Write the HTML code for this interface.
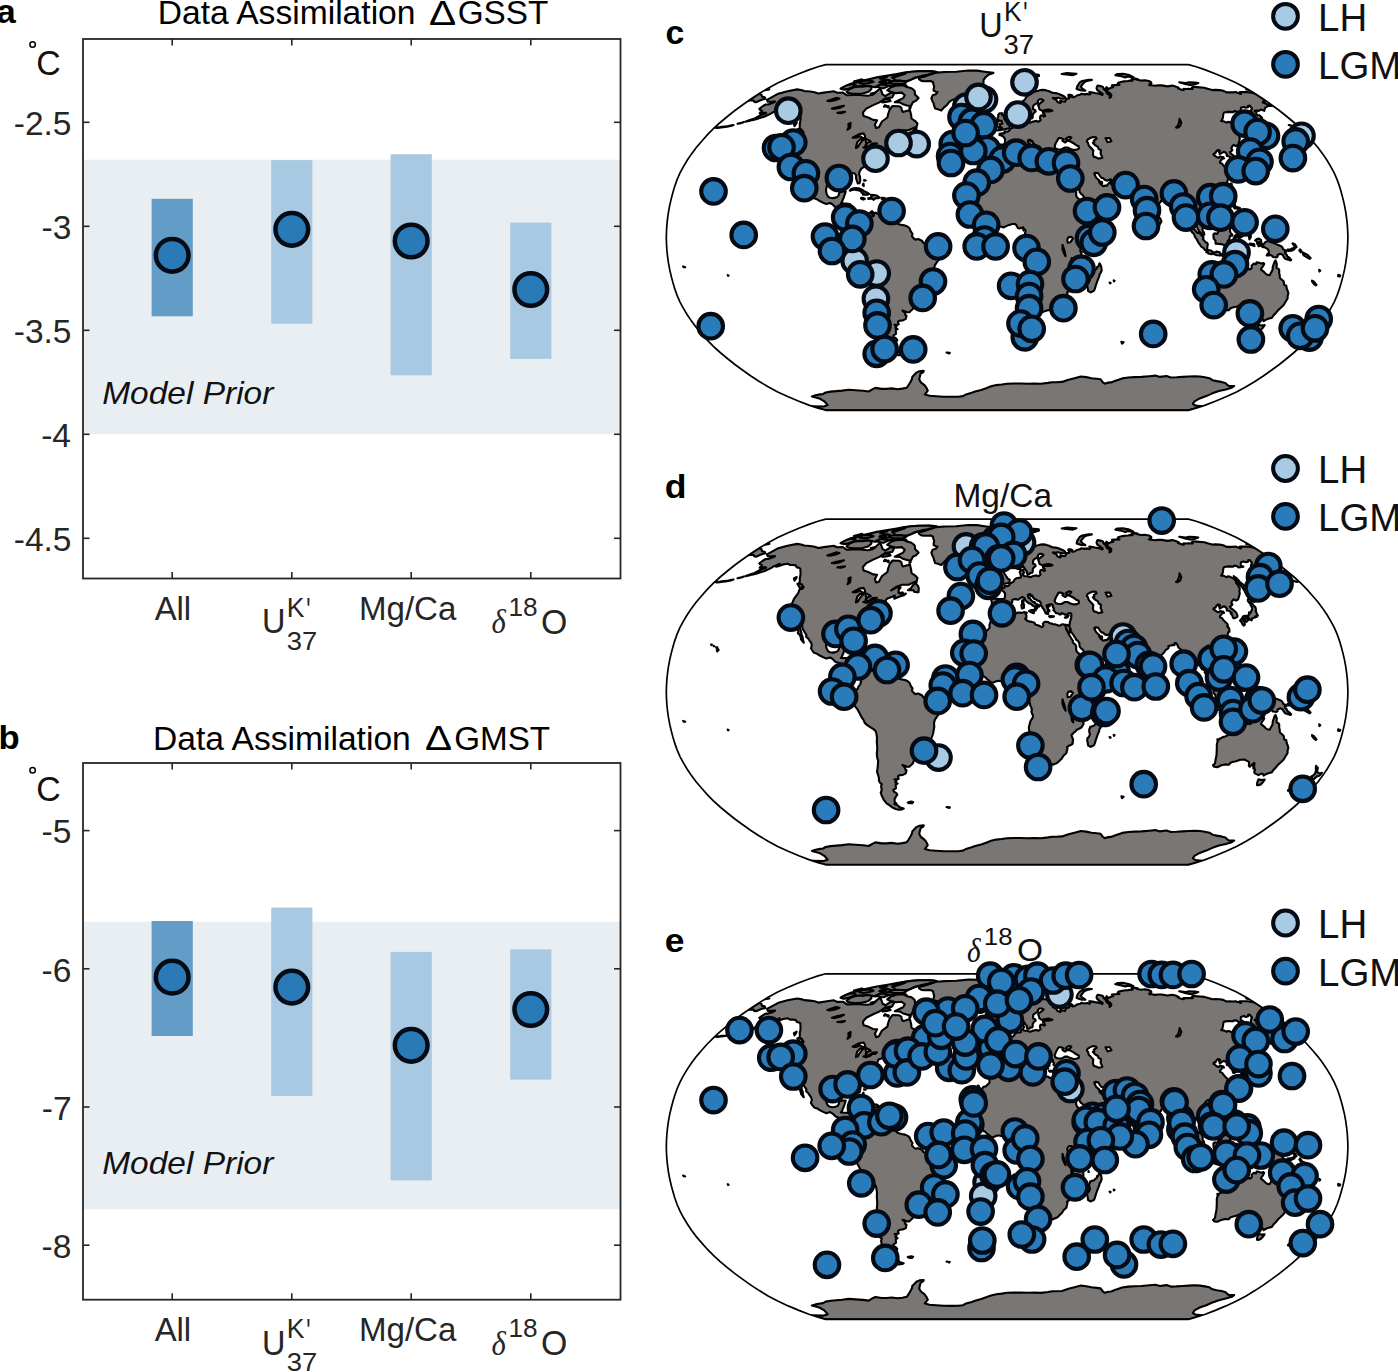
<!DOCTYPE html>
<html><head><meta charset="utf-8"><style>
html,body{margin:0;padding:0;background:#fff;}
svg{display:block;font-family:"Liberation Sans",sans-serif;}
</style></head><body>
<svg width="1398" height="1372" viewBox="0 0 1398 1372">
<rect width="1398" height="1372" fill="#fff"/>
<rect x="83" y="159.7" width="537.5" height="274.6" fill="#e9eef3"/>
<rect x="151.6" y="198.8" width="41.2" height="117.5" fill="#639dc7"/>
<rect x="271.2" y="160.1" width="41.2" height="163.6" fill="#a8c9e1"/>
<rect x="390.6" y="154.2" width="41.2" height="221.1" fill="#a8c9e1"/>
<rect x="510.2" y="222.6" width="41.2" height="136.3" fill="#a8c9e1"/>
<circle cx="172.2" cy="255.3" r="16.35" fill="#2a7ab8" stroke="#050b14" stroke-width="4.5"/>
<circle cx="291.8" cy="229.3" r="16.35" fill="#2a7ab8" stroke="#050b14" stroke-width="4.5"/>
<circle cx="411.2" cy="241.0" r="16.35" fill="#2a7ab8" stroke="#050b14" stroke-width="4.5"/>
<circle cx="530.8" cy="289.5" r="16.35" fill="#2a7ab8" stroke="#050b14" stroke-width="4.5"/>
<rect x="83" y="39" width="537.5" height="539.5" fill="none" stroke="#262626" stroke-width="1.8"/>
<line x1="83" y1="122.3" x2="89.5" y2="122.3" stroke="#262626" stroke-width="1.6"/>
<line x1="620.5" y1="122.3" x2="614.0" y2="122.3" stroke="#262626" stroke-width="1.6"/>
<text transform="translate(13.72,135.14) scale(1.0000,1.0000)" font-family="Liberation Sans" font-weight="normal" font-style="normal" font-size="33.50" fill="#262626">-2.5</text>
<line x1="83" y1="226.3" x2="89.5" y2="226.3" stroke="#262626" stroke-width="1.6"/>
<line x1="620.5" y1="226.3" x2="614.0" y2="226.3" stroke="#262626" stroke-width="1.6"/>
<text transform="translate(41.52,239.13) scale(1.0000,1.0000)" font-family="Liberation Sans" font-weight="normal" font-style="normal" font-size="33.50" fill="#262626">-3</text>
<line x1="83" y1="330.3" x2="89.5" y2="330.3" stroke="#262626" stroke-width="1.6"/>
<line x1="620.5" y1="330.3" x2="614.0" y2="330.3" stroke="#262626" stroke-width="1.6"/>
<text transform="translate(13.72,343.13) scale(1.0000,1.0000)" font-family="Liberation Sans" font-weight="normal" font-style="normal" font-size="33.50" fill="#262626">-3.5</text>
<line x1="83" y1="434.3" x2="89.5" y2="434.3" stroke="#262626" stroke-width="1.6"/>
<line x1="620.5" y1="434.3" x2="614.0" y2="434.3" stroke="#262626" stroke-width="1.6"/>
<text transform="translate(41.19,446.80) scale(1.0000,1.0000)" font-family="Liberation Sans" font-weight="normal" font-style="normal" font-size="33.50" fill="#262626">-4</text>
<line x1="83" y1="538.3" x2="89.5" y2="538.3" stroke="#262626" stroke-width="1.6"/>
<line x1="620.5" y1="538.3" x2="614.0" y2="538.3" stroke="#262626" stroke-width="1.6"/>
<text transform="translate(13.72,550.80) scale(1.0000,1.0000)" font-family="Liberation Sans" font-weight="normal" font-style="normal" font-size="33.50" fill="#262626">-4.5</text>
<line x1="172.2" y1="39" x2="172.2" y2="45.5" stroke="#262626" stroke-width="1.6"/>
<line x1="172.2" y1="578.5" x2="172.2" y2="572.0" stroke="#262626" stroke-width="1.6"/>
<line x1="291.8" y1="39" x2="291.8" y2="45.5" stroke="#262626" stroke-width="1.6"/>
<line x1="291.8" y1="578.5" x2="291.8" y2="572.0" stroke="#262626" stroke-width="1.6"/>
<line x1="411.2" y1="39" x2="411.2" y2="45.5" stroke="#262626" stroke-width="1.6"/>
<line x1="411.2" y1="578.5" x2="411.2" y2="572.0" stroke="#262626" stroke-width="1.6"/>
<line x1="530.8" y1="39" x2="530.8" y2="45.5" stroke="#262626" stroke-width="1.6"/>
<line x1="530.8" y1="578.5" x2="530.8" y2="572.0" stroke="#262626" stroke-width="1.6"/>
<text transform="translate(154.70,619.70) scale(0.9915,1.0000)" font-family="Liberation Sans" font-weight="normal" font-style="normal" font-size="33.10" fill="#262626">All</text>
<text transform="translate(358.95,619.79) scale(1.0000,1.0000)" font-family="Liberation Sans" font-weight="normal" font-style="normal" font-size="33.09" fill="#262626">Mg/Ca</text>
<text transform="translate(262.07,633.45) scale(0.9161,1.0000)" font-family="Liberation Sans" font-weight="normal" font-style="normal" font-size="35.43" fill="#262626">U</text>
<text transform="translate(286.87,616.50) scale(0.9663,1.0000)" font-family="Liberation Sans" font-weight="normal" font-style="normal" font-size="27.54" fill="#262626">K</text>
<text transform="translate(306.19,622.07) scale(0.6370,1.0000)" font-family="Liberation Sans" font-weight="normal" font-style="normal" font-size="34.88" fill="#262626">'</text>
<text transform="translate(286.70,649.54) scale(1.0535,1.0000)" font-family="Liberation Sans" font-weight="normal" font-style="normal" font-size="26.06" fill="#262626">37</text>
<text transform="translate(491.48,633.45) scale(0.8887,1.0000)" font-family="Liberation Serif" font-weight="normal" font-style="italic" font-size="34.51" fill="#262626">δ</text>
<text transform="translate(508.43,616.14) scale(1.0122,1.0000)" font-family="Liberation Sans" font-weight="normal" font-style="normal" font-size="25.92" fill="#262626">18</text>
<text transform="translate(541.08,633.75) scale(0.9580,1.0000)" font-family="Liberation Sans" font-weight="normal" font-style="normal" font-size="35.35" fill="#262626">O</text>
<text transform="translate(157.71,24.36) scale(1.0000,1.0000)" font-family="Liberation Sans" font-weight="normal" font-style="normal" font-size="33.61" fill="#000">Data Assimilation</text>
<text transform="translate(428.88,24.70) scale(1.1863,1.0000)" font-family="Liberation Sans" font-weight="normal" font-style="normal" font-size="34.27" fill="#000">Δ</text>
<text transform="translate(457.63,24.37) scale(1.0000,1.0000)" font-family="Liberation Sans" font-weight="normal" font-style="normal" font-size="33.32" fill="#000">GSST</text>
<text transform="translate(-3.45,22.66) scale(1.0176,1.0000)" font-family="Liberation Sans" font-weight="bold" font-style="normal" font-size="34.00" fill="#000">a</text>
<circle cx="32.6" cy="44.5" r="2.75" fill="none" stroke="#000" stroke-width="1.5"/>
<text transform="translate(36.21,74.75) scale(0.9654,1.0000)" font-family="Liberation Sans" font-weight="normal" font-style="normal" font-size="35.07" fill="#111111">C</text>
<text transform="translate(102.20,403.98) scale(1.0430,1.0000)" font-family="Liberation Sans" font-weight="normal" font-style="italic" font-size="32.11" fill="#111111">Model Prior</text>
<rect x="83" y="921.8" width="537.5" height="287.5" fill="#e9eef3"/>
<rect x="151.6" y="921.0" width="41.2" height="115.0" fill="#639dc7"/>
<rect x="271.2" y="907.6" width="41.2" height="188.4" fill="#a8c9e1"/>
<rect x="390.6" y="951.9" width="41.2" height="228.5" fill="#a8c9e1"/>
<rect x="510.2" y="949.4" width="41.2" height="130.2" fill="#a8c9e1"/>
<circle cx="172.2" cy="977.2" r="16.35" fill="#2a7ab8" stroke="#050b14" stroke-width="4.5"/>
<circle cx="291.8" cy="987.1" r="16.35" fill="#2a7ab8" stroke="#050b14" stroke-width="4.5"/>
<circle cx="411.2" cy="1045.3" r="16.35" fill="#2a7ab8" stroke="#050b14" stroke-width="4.5"/>
<circle cx="530.8" cy="1009.5" r="16.35" fill="#2a7ab8" stroke="#050b14" stroke-width="4.5"/>
<rect x="83" y="763" width="537.5" height="536.7" fill="none" stroke="#262626" stroke-width="1.8"/>
<line x1="83" y1="830.6" x2="89.5" y2="830.6" stroke="#262626" stroke-width="1.6"/>
<line x1="620.5" y1="830.6" x2="614.0" y2="830.6" stroke="#262626" stroke-width="1.6"/>
<text transform="translate(41.52,843.10) scale(1.0000,1.0000)" font-family="Liberation Sans" font-weight="normal" font-style="normal" font-size="33.50" fill="#262626">-5</text>
<line x1="83" y1="968.8" x2="89.5" y2="968.8" stroke="#262626" stroke-width="1.6"/>
<line x1="620.5" y1="968.8" x2="614.0" y2="968.8" stroke="#262626" stroke-width="1.6"/>
<text transform="translate(41.52,981.63) scale(1.0000,1.0000)" font-family="Liberation Sans" font-weight="normal" font-style="normal" font-size="33.50" fill="#262626">-6</text>
<line x1="83" y1="1107.0" x2="89.5" y2="1107.0" stroke="#262626" stroke-width="1.6"/>
<line x1="620.5" y1="1107.0" x2="614.0" y2="1107.0" stroke="#262626" stroke-width="1.6"/>
<text transform="translate(41.86,1119.50) scale(1.0000,1.0000)" font-family="Liberation Sans" font-weight="normal" font-style="normal" font-size="33.50" fill="#262626">-7</text>
<line x1="83" y1="1245.2" x2="89.5" y2="1245.2" stroke="#262626" stroke-width="1.6"/>
<line x1="620.5" y1="1245.2" x2="614.0" y2="1245.2" stroke="#262626" stroke-width="1.6"/>
<text transform="translate(41.52,1258.04) scale(1.0000,1.0000)" font-family="Liberation Sans" font-weight="normal" font-style="normal" font-size="33.50" fill="#262626">-8</text>
<line x1="172.2" y1="763" x2="172.2" y2="769.5" stroke="#262626" stroke-width="1.6"/>
<line x1="172.2" y1="1299.7" x2="172.2" y2="1293.2" stroke="#262626" stroke-width="1.6"/>
<line x1="291.8" y1="763" x2="291.8" y2="769.5" stroke="#262626" stroke-width="1.6"/>
<line x1="291.8" y1="1299.7" x2="291.8" y2="1293.2" stroke="#262626" stroke-width="1.6"/>
<line x1="411.2" y1="763" x2="411.2" y2="769.5" stroke="#262626" stroke-width="1.6"/>
<line x1="411.2" y1="1299.7" x2="411.2" y2="1293.2" stroke="#262626" stroke-width="1.6"/>
<line x1="530.8" y1="763" x2="530.8" y2="769.5" stroke="#262626" stroke-width="1.6"/>
<line x1="530.8" y1="1299.7" x2="530.8" y2="1293.2" stroke="#262626" stroke-width="1.6"/>
<text transform="translate(154.70,1340.90) scale(0.9915,1.0000)" font-family="Liberation Sans" font-weight="normal" font-style="normal" font-size="33.10" fill="#262626">All</text>
<text transform="translate(358.95,1340.99) scale(1.0000,1.0000)" font-family="Liberation Sans" font-weight="normal" font-style="normal" font-size="33.09" fill="#262626">Mg/Ca</text>
<text transform="translate(262.07,1354.65) scale(0.9161,1.0000)" font-family="Liberation Sans" font-weight="normal" font-style="normal" font-size="35.43" fill="#262626">U</text>
<text transform="translate(286.87,1337.70) scale(0.9663,1.0000)" font-family="Liberation Sans" font-weight="normal" font-style="normal" font-size="27.54" fill="#262626">K</text>
<text transform="translate(306.19,1343.27) scale(0.6370,1.0000)" font-family="Liberation Sans" font-weight="normal" font-style="normal" font-size="34.88" fill="#262626">'</text>
<text transform="translate(286.70,1370.74) scale(1.0535,1.0000)" font-family="Liberation Sans" font-weight="normal" font-style="normal" font-size="26.06" fill="#262626">37</text>
<text transform="translate(491.48,1354.65) scale(0.8887,1.0000)" font-family="Liberation Serif" font-weight="normal" font-style="italic" font-size="34.51" fill="#262626">δ</text>
<text transform="translate(508.43,1337.34) scale(1.0122,1.0000)" font-family="Liberation Sans" font-weight="normal" font-style="normal" font-size="25.92" fill="#262626">18</text>
<text transform="translate(541.08,1354.95) scale(0.9580,1.0000)" font-family="Liberation Sans" font-weight="normal" font-style="normal" font-size="35.35" fill="#262626">O</text>
<text transform="translate(153.01,749.66) scale(1.0000,1.0000)" font-family="Liberation Sans" font-weight="normal" font-style="normal" font-size="33.61" fill="#000">Data Assimilation</text>
<text transform="translate(424.89,750.00) scale(1.1815,1.0000)" font-family="Liberation Sans" font-weight="normal" font-style="normal" font-size="34.27" fill="#000">Δ</text>
<text transform="translate(454.14,749.67) scale(1.0000,1.0000)" font-family="Liberation Sans" font-weight="normal" font-style="normal" font-size="33.23" fill="#000">GMST</text>
<text transform="translate(-1.45,749.07) scale(1.0354,1.0000)" font-family="Liberation Sans" font-weight="bold" font-style="normal" font-size="33.47" fill="#000">b</text>
<circle cx="32.6" cy="770.3" r="2.75" fill="none" stroke="#000" stroke-width="1.5"/>
<text transform="translate(36.21,800.55) scale(0.9654,1.0000)" font-family="Liberation Sans" font-weight="normal" font-style="normal" font-size="35.07" fill="#111111">C</text>
<text transform="translate(102.20,1173.98) scale(1.0430,1.0000)" font-family="Liberation Sans" font-weight="normal" font-style="italic" font-size="32.11" fill="#111111">Model Prior</text>
<clipPath id="clipc"><path d="M825.7,410.3 L818.0,408.2 L808.9,405.1 L798.9,401.3 L788.2,396.8 L777.7,392.0 L768.1,386.8 L759.3,381.5 L750.9,376.0 L742.8,370.3 L734.9,364.5 L727.4,358.5 L720.2,352.5 L713.4,346.3 L707.3,340.1 L701.7,333.8 L696.3,327.5 L691.5,321.1 L687.2,314.7 L683.3,308.2 L679.9,301.8 L677.1,295.4 L674.8,288.9 L672.9,282.5 L671.2,276.1 L669.7,269.7 L668.5,263.2 L667.6,256.8 L666.9,250.4 L666.5,243.9 L666.3,237.5 L666.5,231.1 L666.9,224.6 L667.6,218.2 L668.5,211.8 L669.7,205.3 L671.2,198.9 L672.9,192.5 L674.8,186.1 L677.1,179.6 L679.9,173.2 L683.3,166.8 L687.2,160.3 L691.5,153.9 L696.3,147.5 L701.7,141.2 L707.3,134.9 L713.4,128.7 L720.2,122.5 L727.4,116.5 L734.9,110.5 L742.8,104.7 L750.9,99.0 L759.3,93.5 L768.1,88.2 L777.7,83.0 L788.2,78.2 L798.9,73.7 L808.9,69.9 L818.0,66.8 L825.7,64.7 L1188.5,64.7 L1196.2,66.8 L1205.3,69.9 L1215.3,73.7 L1226.0,78.2 L1236.5,83.0 L1246.1,88.2 L1254.9,93.5 L1263.3,99.0 L1271.4,104.7 L1279.3,110.5 L1286.8,116.5 L1294.0,122.5 L1300.8,128.7 L1306.9,134.9 L1312.5,141.2 L1317.9,147.5 L1322.7,153.9 L1327.0,160.3 L1330.9,166.8 L1334.3,173.2 L1337.1,179.6 L1339.4,186.1 L1341.3,192.5 L1343.0,198.9 L1344.5,205.3 L1345.7,211.8 L1346.6,218.2 L1347.3,224.6 L1347.7,231.1 L1347.9,237.5 L1347.7,243.9 L1347.3,250.4 L1346.6,256.8 L1345.7,263.2 L1344.5,269.7 L1343.0,276.1 L1341.3,282.5 L1339.4,288.9 L1337.1,295.4 L1334.3,301.8 L1330.9,308.2 L1327.0,314.7 L1322.7,321.1 L1317.9,327.5 L1312.5,333.8 L1306.9,340.1 L1300.8,346.3 L1294.0,352.5 L1286.8,358.5 L1279.3,364.5 L1271.4,370.3 L1263.3,376.0 L1254.9,381.5 L1246.1,386.8 L1236.5,392.0 L1226.0,396.8 L1215.3,401.3 L1205.3,405.1 L1196.2,408.2 L1188.5,410.3Z"/></clipPath>
<g clip-path="url(#clipc)">
<g fill="#7a7673" stroke="#000" stroke-width="2.1" stroke-linejoin="round">
<path d="M767.0,99.8 L778.3,93.7 L787.5,91.2 L797.1,89.4 L802.3,90.3 L804.0,91.0 L810.1,91.5 L814.6,92.2 L818.5,93.5 L823.7,92.6 L830.2,91.7 L833.6,91.2 L837.2,92.8 L842.9,92.6 L847.0,95.3 L854.3,95.0 L857.2,94.8 L862.3,95.3 L867.6,95.7 L872.5,94.8 L880.0,88.5 L881.3,90.8 L882.5,94.4 L885.3,96.2 L890.8,92.6 L894.6,93.0 L892.1,97.5 L885.1,98.5 L879.5,102.4 L873.2,105.1 L866.3,108.6 L862.9,112.5 L863.6,116.1 L868.2,117.5 L873.1,119.9 L877.1,120.3 L874.9,124.6 L876.1,128.1 L878.9,127.2 L882.0,121.5 L887.4,117.5 L888.3,113.5 L889.7,109.5 L892.5,106.0 L899.1,106.2 L901.3,107.6 L901.8,110.1 L902.8,111.9 L905.4,111.3 L908.1,110.5 L909.9,109.9 L911.2,115.5 L911.5,118.5 L915.2,121.1 L917.5,123.5 L916.7,126.6 L913.6,127.9 L908.6,130.3 L902.1,130.3 L896.5,132.2 L891.0,136.0 L897.1,132.6 L900.6,133.0 L898.7,135.3 L898.5,138.5 L902.3,139.7 L905.9,139.1 L903.7,140.8 L899.0,142.3 L894.2,144.2 L894.8,141.0 L892.2,142.3 L887.4,143.9 L885.5,146.1 L886.1,148.0 L884.1,148.8 L881.3,149.5 L878.4,150.5 L877.7,152.7 L875.5,154.4 L873.2,157.1 L872.5,158.4 L872.5,161.8 L870.4,163.1 L867.3,164.8 L864.7,166.3 L861.3,168.7 L859.5,171.7 L859.1,174.1 L860.0,176.8 L860.3,180.3 L859.5,183.3 L857.9,183.5 L856.9,181.1 L856.0,177.9 L856.1,175.3 L854.4,173.2 L851.7,173.2 L849.2,172.3 L846.4,172.3 L844.3,172.8 L844.5,175.1 L842.1,175.1 L839.7,174.1 L836.0,174.1 L832.9,175.8 L829.6,178.1 L828.3,181.8 L826.7,186.1 L826.0,190.3 L826.5,193.6 L827.8,196.3 L830.0,197.8 L832.8,198.1 L835.6,197.6 L837.6,196.8 L838.7,195.1 L839.3,192.5 L842.9,191.4 L845.7,191.4 L844.4,195.7 L843.4,198.3 L841.9,202.1 L840.9,203.4 L846.1,203.6 L849.8,204.1 L851.0,205.3 L850.3,208.6 L849.8,212.9 L850.7,215.4 L853.4,218.6 L856.6,217.1 L860.0,217.8 L861.2,219.7 L860.6,221.4 L858.9,220.4 L857.1,218.6 L855.7,221.6 L854.2,220.8 L851.8,219.9 L849.2,218.2 L847.3,216.5 L845.4,215.4 L845.7,213.7 L843.7,210.7 L842.3,209.2 L839.0,208.6 L835.6,207.5 L832.9,204.7 L830.2,203.0 L826.4,204.1 L823.2,202.8 L820.2,201.3 L817.1,199.3 L814.1,198.3 L812.5,196.3 L810.9,193.8 L811.8,191.2 L811.3,188.6 L809.7,186.3 L808.1,183.9 L806.1,182.2 L806.4,180.3 L804.8,177.9 L803.9,176.2 L802.7,174.7 L802.3,172.6 L802.2,170.6 L799.7,169.3 L799.1,172.3 L800.3,174.9 L801.0,177.1 L801.7,180.1 L802.6,182.4 L803.0,185.4 L803.8,188.2 L803.2,187.6 L801.0,184.8 L800.7,182.6 L799.5,180.1 L797.8,178.6 L798.4,177.1 L797.2,174.3 L796.2,171.1 L796.1,167.8 L796.2,166.1 L794.8,164.8 L793.5,163.8 L791.5,163.3 L790.8,159.5 L790.8,157.1 L790.6,155.6 L790.6,152.7 L790.8,150.7 L792.7,147.5 L794.0,144.4 L798.2,138.7 L799.8,134.3 L802.2,134.5 L803.7,132.6 L802.4,131.0 L801.6,129.7 L799.4,128.9 L799.8,126.6 L799.8,123.5 L800.3,121.1 L800.6,118.9 L800.4,116.5 L800.3,114.1 L798.8,113.3 L796.9,112.9 L795.8,110.9 L793.1,110.5 L790.1,110.5 L787.8,109.2 L783.2,109.9 L778.3,111.7 L776.0,112.1 L779.6,109.2 L773.3,112.1 L770.0,114.1 L764.7,116.5 L759.8,118.1 L756.2,119.3 L752.2,120.1 L749.0,120.9 L745.3,121.7 L749.8,120.1 L754.7,118.5 L761.0,114.9 L765.5,113.5 L766.1,112.9 L763.2,112.9 L759.7,113.3 L761.9,110.7 L760.1,109.9 L759.3,108.8 L763.1,106.0 L765.7,104.5 L768.0,104.5 L773.1,102.8 L775.1,101.5 L770.9,101.7 L767.8,101.8 L767.5,101.1 L767.0,99.8Z"/>
<path d="M861.2,219.7 L863.4,217.8 L864.9,215.0 L867.4,213.5 L869.7,213.1 L872.1,211.1 L873.1,212.2 L871.9,213.7 L872.4,215.6 L873.3,216.5 L874.4,213.3 L875.7,212.6 L878.5,214.4 L882.8,214.8 L886.0,214.8 L889.4,214.8 L890.6,215.9 L892.6,219.1 L895.1,221.4 L898.1,224.0 L901.6,224.9 L905.0,225.5 L907.8,226.8 L909.7,228.5 L910.6,231.1 L912.5,233.9 L911.9,236.2 L913.4,238.1 L915.3,239.6 L918.1,239.0 L921.9,240.7 L923.5,243.1 L927.1,243.5 L929.9,243.7 L933.3,245.6 L936.2,247.8 L940.0,248.6 L941.2,252.5 L940.9,256.4 L939.3,259.4 L937.1,261.9 L934.8,265.4 L934.0,268.8 L934.3,272.4 L933.7,275.7 L933.0,279.5 L931.9,282.5 L931.1,284.7 L929.4,286.6 L926.6,286.8 L924.0,288.1 L921.1,289.4 L918.8,292.2 L918.0,294.9 L918.1,298.2 L916.8,300.7 L915.5,303.5 L913.9,306.1 L912.8,308.9 L911.2,310.4 L909.4,312.3 L906.8,312.3 L904.6,311.2 L902.5,310.6 L905.1,313.2 L905.3,315.1 L906.5,315.7 L905.8,318.9 L903.4,320.2 L899.2,320.9 L898.0,321.7 L898.7,324.5 L894.5,324.9 L896.6,326.4 L895.3,327.9 L897.6,329.1 L895.7,330.2 L896.0,333.8 L893.4,335.3 L893.6,336.9 L896.3,338.6 L897.3,340.1 L895.4,343.0 L894.4,345.3 L894.9,347.8 L896.6,349.0 L894.3,349.6 L895.6,350.0 L897.5,350.8 L900.2,353.1 L903.7,354.1 L902.1,354.9 L899.0,355.3 L895.6,354.5 L892.6,353.1 L889.0,350.4 L886.6,348.8 L883.8,345.3 L881.9,341.6 L880.7,338.0 L881.6,336.3 L881.6,334.8 L881.1,331.7 L881.8,329.6 L880.2,328.5 L879.0,326.4 L878.9,323.2 L877.8,319.6 L877.0,317.2 L877.6,313.6 L877.9,309.5 L878.2,306.7 L877.2,302.9 L876.8,299.2 L877.2,295.8 L877.2,292.2 L876.8,287.9 L877.0,283.2 L876.4,279.3 L875.6,276.5 L873.5,274.6 L870.6,272.9 L867.6,270.9 L864.7,268.4 L863.8,266.0 L861.9,263.2 L860.2,260.0 L858.0,255.7 L856.0,252.9 L853.7,250.4 L853.6,247.8 L855.2,245.0 L856.1,242.9 L854.6,242.4 L854.0,239.6 L855.5,236.6 L856.0,235.4 L857.8,234.3 L858.4,232.1 L860.3,229.8 L860.9,227.2 L860.7,223.6 L860.0,222.1 L861.2,219.7Z"/>
<path d="M918.6,77.8 L923.1,76.9 L929.7,74.8 L936.3,72.6 L944.8,72.0 L956.3,71.7 L968.3,70.5 L977.1,70.6 L984.5,71.7 L993.4,72.9 L988.4,74.7 L985.4,77.4 L983.5,80.1 L983.5,83.0 L980.3,86.1 L977.7,89.0 L976.6,91.2 L971.1,94.2 L965.7,95.0 L961.8,95.5 L957.4,98.5 L952.0,100.0 L949.3,101.8 L947.2,104.7 L943.8,107.6 L941.3,110.5 L938.6,109.5 L935.2,108.6 L934.1,105.7 L933.6,103.2 L932.3,100.9 L931.4,98.1 L932.6,95.3 L935.9,94.2 L937.5,92.1 L935.7,91.7 L933.6,90.5 L933.6,89.0 L934.2,86.8 L933.3,83.9 L933.1,82.2 L930.7,81.0 L924.4,81.2 L921.5,80.9 L919.1,79.3 L918.6,77.8Z"/>
<path d="M997.1,160.3 L995.9,159.3 L993.8,157.8 L991.3,158.2 L991.6,155.4 L990.4,154.4 L991.6,151.4 L991.9,148.6 L991.3,145.4 L993.4,143.9 L997.7,144.4 L1002.0,144.6 L1004.0,144.6 L1004.9,142.7 L1005.1,139.1 L1003.4,136.6 L1001.3,135.5 L999.4,134.9 L999.6,133.7 L1002.1,133.2 L1004.4,133.4 L1004.6,131.4 L1007.4,131.8 L1009.4,130.5 L1009.7,128.9 L1011.2,128.5 L1012.8,127.6 L1013.9,126.6 L1014.7,124.8 L1015.9,124.0 L1018.3,123.3 L1020.7,123.3 L1021.1,121.9 L1020.5,119.9 L1019.7,117.5 L1020.3,116.3 L1023.3,115.1 L1023.4,117.9 L1024.1,117.7 L1022.9,120.3 L1024.3,121.7 L1027.0,121.7 L1029.1,122.3 L1030.2,122.7 L1033.3,121.5 L1036.4,120.9 L1038.6,121.7 L1040.6,120.1 L1039.9,117.7 L1040.5,115.7 L1042.0,115.3 L1044.1,116.5 L1045.0,116.1 L1044.3,113.9 L1043.1,113.3 L1042.9,112.1 L1045.1,111.5 L1049.6,111.5 L1052.5,110.7 L1050.9,110.1 L1048.5,109.5 L1045.5,109.9 L1041.9,110.7 L1039.4,109.3 L1038.9,107.0 L1038.1,105.1 L1039.7,103.7 L1041.2,102.4 L1043.1,101.1 L1043.5,100.3 L1042.0,99.4 L1039.3,99.4 L1037.8,101.1 L1038.0,102.4 L1036.3,103.6 L1034.3,104.7 L1033.2,105.9 L1033.0,108.2 L1033.1,109.3 L1035.2,110.1 L1035.7,111.5 L1033.9,112.9 L1032.7,114.9 L1032.7,117.3 L1032.2,118.3 L1030.0,118.5 L1029.5,119.7 L1027.4,119.7 L1026.7,118.1 L1027.1,117.3 L1025.5,115.3 L1024.2,113.1 L1023.2,112.1 L1022.7,111.1 L1021.9,112.5 L1019.9,114.1 L1017.9,114.5 L1016.3,114.1 L1015.5,112.9 L1015.0,111.3 L1014.6,109.5 L1014.7,108.0 L1014.8,106.6 L1016.4,105.7 L1018.1,104.7 L1019.5,103.7 L1021.6,102.8 L1022.7,101.3 L1024.3,100.1 L1025.3,98.8 L1026.2,97.2 L1027.8,95.7 L1028.7,94.6 L1030.3,93.9 L1032.0,92.6 L1033.7,92.1 L1036.0,91.3 L1038.2,90.8 L1040.7,90.1 L1042.7,89.9 L1045.2,90.1 L1047.4,90.8 L1049.2,91.3 L1050.7,92.1 L1053.1,93.0 L1055.9,93.1 L1058.9,94.0 L1062.9,95.7 L1064.6,96.6 L1065.3,97.7 L1064.0,98.8 L1061.8,98.8 L1057.9,97.7 L1055.8,98.3 L1054.0,97.9 L1052.8,98.1 L1056.5,100.1 L1057.5,102.0 L1060.2,103.0 L1061.1,102.0 L1060.3,100.7 L1062.6,101.3 L1064.9,101.8 L1065.4,100.9 L1066.7,98.5 L1069.0,98.5 L1069.5,97.5 L1068.3,95.9 L1068.4,94.8 L1070.9,94.8 L1072.4,95.7 L1070.9,96.2 L1072.6,97.3 L1074.6,97.0 L1076.8,95.5 L1080.6,94.6 L1081.2,93.7 L1084.6,94.4 L1087.1,93.9 L1089.6,94.6 L1090.5,93.7 L1089.3,92.1 L1091.1,92.2 L1094.9,93.0 L1098.0,93.5 L1100.7,94.2 L1102.3,95.0 L1102.8,94.0 L1100.2,92.2 L1097.3,90.1 L1096.5,88.2 L1097.0,86.6 L1097.6,85.6 L1100.6,86.1 L1102.9,87.0 L1103.7,89.0 L1105.6,90.8 L1107.0,93.5 L1109.0,94.6 L1109.8,96.4 L1109.5,97.9 L1111.1,96.8 L1111.3,95.0 L1110.1,93.5 L1107.9,92.2 L1107.2,90.5 L1104.9,89.2 L1106.2,87.8 L1106.6,87.1 L1108.2,89.0 L1109.6,88.5 L1110.9,87.6 L1113.3,87.1 L1111.9,85.4 L1114.7,85.1 L1119.5,84.9 L1117.7,83.5 L1118.2,82.7 L1120.8,82.0 L1123.9,81.4 L1127.9,81.0 L1130.2,80.6 L1132.7,80.6 L1131.6,78.9 L1134.8,78.6 L1137.6,79.1 L1136.4,79.6 L1140.8,80.6 L1145.0,80.2 L1148.9,81.0 L1151.3,82.4 L1151.3,83.7 L1149.4,84.2 L1149.2,85.1 L1151.9,85.2 L1155.1,85.8 L1157.9,85.4 L1161.5,85.4 L1167.6,86.4 L1172.3,85.6 L1175.5,86.4 L1178.6,87.8 L1178.1,88.5 L1181.0,89.6 L1183.8,90.1 L1183.5,88.9 L1186.1,89.0 L1188.6,88.9 L1192.8,89.0 L1192.0,87.6 L1193.0,86.8 L1196.8,87.1 L1204.4,87.8 L1208.3,88.9 L1212.4,90.1 L1215.5,89.9 L1219.8,90.1 L1223.2,90.8 L1226.5,92.4 L1229.7,92.2 L1232.7,92.4 L1235.5,92.1 L1241.0,93.9 L1239.8,92.1 L1243.7,92.1 L1247.1,92.1 L1251.8,92.8 L1255.2,93.7 L1265.7,100.7 L1265.1,101.7 L1262.9,101.5 L1262.8,102.4 L1269.2,104.9 L1272.1,106.0 L1268.7,105.7 L1266.4,107.0 L1265.4,107.4 L1265.0,108.6 L1264.3,109.9 L1264.3,110.9 L1261.0,109.5 L1258.9,110.9 L1256.4,110.5 L1254.5,110.7 L1256.3,112.3 L1256.6,114.5 L1257.8,115.3 L1259.4,115.3 L1262.2,118.1 L1261.0,118.3 L1262.1,119.9 L1263.6,120.7 L1262.0,121.9 L1262.8,124.0 L1261.8,124.8 L1263.5,126.8 L1262.9,128.7 L1260.9,127.2 L1257.6,124.4 L1252.0,119.7 L1249.8,116.9 L1249.9,115.7 L1249.0,114.9 L1250.9,114.3 L1250.9,111.9 L1251.2,109.9 L1252.0,108.4 L1249.6,105.5 L1248.1,105.7 L1248.1,107.2 L1245.9,107.8 L1243.8,107.0 L1240.9,107.8 L1240.7,110.9 L1243.4,112.3 L1240.5,112.7 L1238.4,112.9 L1236.9,111.5 L1234.2,111.1 L1233.3,112.1 L1228.5,111.9 L1224.1,112.5 L1223.3,114.1 L1223.0,116.9 L1222.5,118.9 L1221.2,121.1 L1223.9,121.3 L1226.5,122.7 L1227.8,121.9 L1229.7,122.1 L1234.0,124.4 L1235.7,126.2 L1236.1,128.3 L1238.0,130.7 L1239.8,134.1 L1239.4,137.0 L1239.8,138.5 L1239.3,141.0 L1238.5,143.5 L1238.2,144.6 L1236.6,145.9 L1235.5,145.9 L1233.8,144.8 L1232.3,146.3 L1231.9,146.9 L1231.3,148.4 L1232.4,149.9 L1231.3,151.4 L1229.8,152.2 L1230.4,153.3 L1232.5,154.8 L1235.4,157.3 L1236.5,158.6 L1237.5,161.2 L1237.3,162.3 L1234.9,163.6 L1233.4,163.8 L1232.8,162.7 L1232.4,161.0 L1230.6,158.8 L1231.8,158.4 L1229.8,156.7 L1228.7,156.3 L1226.7,155.9 L1227.0,154.6 L1225.8,152.7 L1224.0,151.8 L1222.0,152.7 L1221.0,153.5 L1219.6,154.1 L1219.9,153.1 L1218.9,151.8 L1220.0,150.7 L1218.3,149.9 L1217.2,150.5 L1215.9,152.0 L1215.5,153.3 L1213.8,153.5 L1213.4,154.6 L1215.1,155.9 L1217.0,157.3 L1218.8,157.8 L1220.1,156.5 L1222.0,157.1 L1223.2,157.1 L1224.0,158.4 L1221.7,158.8 L1221.4,160.1 L1220.2,161.2 L1219.9,162.7 L1222.2,163.8 L1223.7,165.9 L1225.5,167.8 L1227.4,169.6 L1228.0,171.3 L1227.1,171.7 L1227.9,173.0 L1229.2,173.6 L1229.5,177.1 L1228.5,177.3 L1227.8,179.4 L1227.1,182.4 L1226.0,185.0 L1223.8,186.9 L1221.6,188.6 L1219.6,188.8 L1218.7,189.9 L1217.8,189.3 L1216.8,190.1 L1214.4,191.2 L1212.7,191.6 L1212.3,194.0 L1211.4,194.0 L1210.6,192.5 L1211.0,191.6 L1208.3,191.0 L1207.4,191.2 L1205.3,193.1 L1204.1,195.1 L1204.0,196.6 L1205.6,198.9 L1207.9,201.7 L1209.8,203.2 L1211.1,204.7 L1212.4,208.8 L1212.6,212.4 L1211.2,213.9 L1209.1,215.2 L1207.7,217.1 L1205.6,219.1 L1204.7,217.8 L1205.2,216.3 L1203.6,215.0 L1202.1,214.8 L1201.2,213.5 L1200.1,211.4 L1198.3,210.5 L1196.6,210.5 L1196.6,208.8 L1195.1,208.8 L1195.2,211.1 L1194.0,215.4 L1194.2,217.8 L1195.5,217.8 L1196.4,219.7 L1196.9,221.6 L1197.9,222.7 L1199.0,223.1 L1200.0,224.2 L1200.6,224.4 L1201.8,225.7 L1202.6,227.0 L1202.7,228.9 L1202.5,229.6 L1202.9,231.5 L1203.7,232.1 L1204.3,234.1 L1204.3,234.7 L1203.0,234.9 L1201.3,233.2 L1199.0,231.5 L1198.8,230.4 L1197.6,229.1 L1197.3,227.2 L1196.5,226.1 L1196.6,224.6 L1196.2,223.6 L1195.4,222.9 L1195.0,221.9 L1193.0,219.5 L1192.7,220.8 L1192.4,219.5 L1192.4,217.4 L1192.9,215.6 L1192.5,213.1 L1192.4,211.8 L1192.2,209.4 L1191.3,208.4 L1190.5,205.8 L1189.8,203.0 L1188.8,201.3 L1187.6,202.3 L1185.7,203.8 L1184.6,203.6 L1183.4,203.2 L1183.6,200.4 L1183.0,198.5 L1181.2,195.9 L1181.4,195.3 L1180.3,194.8 L1178.7,193.1 L1178.0,192.1 L1177.7,191.0 L1176.2,188.6 L1174.6,188.6 L1174.5,190.8 L1173.5,190.3 L1172.2,190.6 L1171.9,191.0 L1170.6,191.0 L1168.3,191.6 L1168.7,193.1 L1167.9,194.2 L1165.5,195.7 L1163.9,198.3 L1160.7,201.1 L1160.8,201.9 L1160.0,202.6 L1158.4,203.4 L1157.4,203.4 L1157.2,205.1 L1157.7,207.9 L1158.0,209.6 L1157.4,211.6 L1157.6,215.2 L1156.5,215.4 L1155.9,217.1 L1156.5,217.8 L1154.8,218.4 L1154.1,219.7 L1153.4,220.4 L1151.6,218.4 L1150.5,215.4 L1149.6,213.3 L1149.0,212.2 L1147.9,210.3 L1147.1,207.5 L1146.6,206.2 L1144.7,203.2 L1143.5,199.1 L1142.7,196.3 L1142.4,193.8 L1141.8,191.6 L1139.3,192.9 L1138.0,192.7 L1135.3,190.1 L1136.0,189.3 L1135.3,188.6 L1133.1,186.7 L1131.6,186.3 L1130.8,184.6 L1129.3,183.1 L1125.9,183.5 L1122.9,183.5 L1120.4,183.7 L1116.8,183.1 L1114.7,182.6 L1112.7,182.4 L1111.6,179.7 L1110.7,179.4 L1109.2,179.7 L1107.5,180.7 L1105.2,180.1 L1103.2,178.3 L1101.3,177.7 L1099.8,175.8 L1098.1,173.0 L1097.3,173.2 L1095.9,172.6 L1095.5,173.4 L1094.3,173.2 L1094.5,174.3 L1095.0,175.6 L1096.4,178.1 L1097.4,178.6 L1097.8,179.4 L1099.2,180.3 L1099.2,181.8 L1099.5,182.6 L1100.1,183.3 L1100.7,184.3 L1101.0,181.6 L1102.0,182.2 L1102.1,183.5 L1101.9,184.8 L1102.3,185.6 L1103.1,186.1 L1105.6,185.6 L1106.8,185.8 L1107.9,184.3 L1109.1,183.1 L1110.2,181.6 L1110.7,180.9 L1110.9,181.1 L1110.9,183.1 L1111.0,184.1 L1113.1,186.3 L1114.4,186.7 L1115.6,186.9 L1117.2,188.8 L1117.8,189.3 L1117.9,189.7 L1117.1,191.6 L1116.4,192.3 L1115.8,193.8 L1114.9,193.6 L1114.6,194.2 L1114.5,195.3 L1114.8,196.6 L1114.6,197.0 L1113.7,197.0 L1112.6,197.6 L1112.5,198.7 L1112.2,199.1 L1111.0,199.1 L1110.4,199.8 L1110.4,200.6 L1109.5,201.2 L1108.4,201.1 L1107.3,201.7 L1106.4,201.7 L1105.1,202.3 L1104.8,203.4 L1104.9,204.1 L1103.0,204.9 L1100.1,206.0 L1099.0,206.4 L1098.5,207.5 L1097.6,207.7 L1097.0,207.5 L1096.1,208.4 L1094.8,208.8 L1093.3,209.0 L1092.8,209.0 L1092.4,209.6 L1091.9,209.7 L1091.7,210.3 L1090.7,210.3 L1090.2,210.5 L1088.9,210.5 L1088.3,209.2 L1088.4,207.9 L1088.0,207.3 L1087.5,205.8 L1086.9,204.9 L1087.3,204.7 L1087.1,203.8 L1087.2,203.4 L1087.2,202.6 L1086.7,201.5 L1086.1,200.8 L1086.1,200.0 L1085.1,199.3 L1083.9,197.4 L1083.2,195.7 L1081.8,194.2 L1081.1,194.0 L1079.6,191.8 L1079.4,190.4 L1079.5,189.1 L1078.2,186.7 L1077.2,185.8 L1076.3,185.4 L1075.6,184.1 L1075.6,183.7 L1075.0,182.6 L1074.4,182.2 L1073.5,180.5 L1072.3,178.8 L1071.3,177.3 L1070.3,177.3 L1070.6,176.2 L1070.7,174.5 L1070.2,175.8 L1069.7,177.9 L1068.6,177.7 L1066.0,173.4 L1065.6,170.4 L1069.2,170.6 L1069.7,169.8 L1069.9,167.2 L1070.2,166.6 L1070.7,164.8 L1071.4,163.3 L1071.1,161.6 L1071.5,160.8 L1071.1,158.8 L1070.2,159.1 L1068.6,158.6 L1067.5,159.9 L1064.8,160.1 L1063.3,159.1 L1061.3,158.8 L1061.1,159.7 L1059.9,160.1 L1058.0,158.8 L1056.0,158.8 L1054.7,156.7 L1053.4,155.6 L1054.1,153.9 L1052.9,152.9 L1052.6,151.4 L1053.1,151.4 L1052.4,150.1 L1051.2,149.9 L1050.3,149.9 L1048.3,150.3 L1049.7,151.6 L1048.8,151.9 L1047.8,151.9 L1046.8,150.7 L1046.5,151.2 L1046.9,152.4 L1048.1,153.5 L1047.4,154.0 L1048.4,155.0 L1049.3,155.6 L1049.5,156.7 L1047.8,156.3 L1048.4,157.3 L1047.4,157.6 L1048.3,159.5 L1047.0,159.5 L1045.5,158.6 L1044.7,156.9 L1044.2,155.4 L1043.4,154.4 L1042.5,153.3 L1042.4,152.7 L1042.0,152.4 L1041.9,151.6 L1040.9,151.2 L1040.7,150.3 L1040.7,148.8 L1040.8,148.2 L1039.7,146.9 L1039.0,146.5 L1037.2,145.9 L1036.1,145.0 L1034.5,144.4 L1033.0,142.9 L1033.3,142.7 L1032.4,141.8 L1032.4,141.0 L1031.3,140.8 L1030.8,141.6 L1030.3,141.0 L1030.3,140.2 L1030.6,139.9 L1029.2,139.7 L1027.9,140.4 L1028.2,141.4 L1028.0,142.0 L1028.6,143.1 L1030.2,144.2 L1031.2,145.9 L1033.2,147.5 L1034.6,147.6 L1035.1,148.2 L1034.6,148.6 L1037.5,149.9 L1039.1,150.9 L1039.3,151.4 L1039.1,152.2 L1037.9,151.2 L1036.5,150.9 L1035.7,152.2 L1037.2,153.1 L1037.1,154.1 L1036.2,154.4 L1035.5,156.1 L1034.8,156.3 L1034.7,155.6 L1035.0,154.4 L1035.3,153.9 L1034.5,151.8 L1033.2,151.4 L1031.6,150.1 L1030.7,149.2 L1029.5,149.0 L1028.0,148.2 L1026.4,146.7 L1025.1,145.6 L1024.5,143.5 L1023.7,143.3 L1022.3,142.5 L1021.4,142.9 L1020.6,143.7 L1019.8,143.9 L1018.3,145.2 L1015.0,144.6 L1012.4,145.2 L1012.2,146.5 L1012.3,147.8 L1010.7,149.2 L1008.5,149.7 L1008.3,150.3 L1007.3,151.6 L1006.6,153.3 L1007.3,154.6 L1006.2,155.4 L1005.9,156.9 L1004.6,157.3 L1003.4,158.8 L999.3,158.8 L998.2,159.7 L997.5,160.6 L997.1,160.3Z"/>
<path d="M996.6,160.8 L997.8,160.8 L998.9,161.8 L1000.7,161.6 L1002.5,162.1 L1003.2,162.1 L1005.0,161.0 L1006.9,160.6 L1008.0,159.7 L1009.8,159.1 L1012.8,158.6 L1015.6,158.4 L1016.5,158.8 L1018.2,158.0 L1020.0,158.0 L1020.7,158.4 L1022.0,158.4 L1023.9,157.6 L1025.1,157.8 L1025.2,158.8 L1026.6,158.0 L1026.8,158.4 L1025.9,159.5 L1025.9,160.6 L1026.5,161.0 L1026.4,162.9 L1025.2,164.0 L1025.6,165.1 L1026.6,165.1 L1027.0,166.1 L1027.8,166.6 L1030.0,167.2 L1030.7,167.0 L1032.1,167.4 L1034.5,168.3 L1035.5,170.2 L1037.2,170.6 L1039.7,171.5 L1041.8,172.6 L1042.7,172.1 L1043.5,171.1 L1042.9,169.3 L1043.4,168.5 L1044.7,167.4 L1045.8,167.2 L1048.4,167.6 L1049.0,168.5 L1049.7,168.5 L1050.4,168.9 L1052.1,169.1 L1052.7,169.8 L1055.0,169.8 L1056.9,170.4 L1058.7,171.1 L1059.5,171.3 L1060.9,170.6 L1061.5,170.0 L1063.1,169.8 L1064.5,170.2 L1065.1,171.3 L1065.4,170.4 L1066.9,171.0 L1068.3,171.1 L1069.2,170.6 L1070.2,175.1 L1069.9,176.8 L1069.7,177.9 L1069.2,178.3 L1067.6,176.6 L1066.0,173.4 L1065.8,173.6 L1066.8,176.0 L1068.0,178.1 L1069.8,181.6 L1070.6,182.6 L1071.2,183.9 L1073.0,186.3 L1072.7,186.5 L1072.8,188.0 L1075.1,189.9 L1075.5,190.4 L1076.2,192.5 L1076.1,195.1 L1077.0,197.6 L1077.8,198.1 L1078.8,198.9 L1080.0,201.5 L1080.7,203.4 L1081.7,204.5 L1084.4,206.4 L1085.4,207.7 L1086.6,209.0 L1087.1,209.7 L1088.1,210.3 L1088.5,210.9 L1088.6,211.8 L1087.4,212.4 L1088.2,212.9 L1089.0,213.3 L1089.4,214.1 L1090.2,215.2 L1091.1,215.2 L1093.0,214.6 L1094.9,214.4 L1096.5,213.7 L1097.5,213.5 L1098.2,213.1 L1099.1,213.1 L1099.9,213.1 L1100.6,212.6 L1101.7,212.4 L1102.5,211.8 L1103.2,211.8 L1103.3,212.4 L1103.2,214.8 L1102.8,215.4 L1102.5,217.8 L1101.7,220.1 L1100.6,222.9 L1099.0,226.1 L1097.3,228.5 L1095.3,231.3 L1093.4,233.1 L1090.6,235.2 L1088.7,236.9 L1086.6,239.4 L1085.7,241.1 L1084.5,242.0 L1083.9,242.9 L1083.4,243.1 L1083.0,244.6 L1082.4,245.4 L1082.0,246.7 L1081.2,247.6 L1080.2,250.1 L1080.4,251.4 L1081.5,252.1 L1081.7,252.7 L1081.1,254.0 L1081.3,254.6 L1081.1,255.7 L1081.6,257.0 L1082.3,259.1 L1083.0,259.6 L1083.4,260.6 L1083.1,262.8 L1083.4,264.5 L1083.3,267.9 L1083.6,269.0 L1083.0,270.5 L1082.1,272.0 L1081.0,273.3 L1079.0,274.2 L1076.9,275.2 L1074.8,277.6 L1074.0,277.8 L1072.6,279.5 L1071.8,279.9 L1071.6,281.4 L1072.4,283.2 L1072.7,284.2 L1072.7,284.9 L1073.1,284.9 L1072.8,287.0 L1072.5,287.9 L1072.9,288.3 L1072.6,289.2 L1071.7,290.0 L1070.1,290.7 L1067.8,291.9 L1067.1,292.6 L1067.2,293.4 L1067.5,293.7 L1067.3,294.7 L1066.8,296.4 L1066.5,298.2 L1065.8,299.2 L1064.5,300.3 L1064.1,300.5 L1063.3,301.6 L1062.6,302.7 L1061.6,304.2 L1059.2,306.5 L1057.9,307.8 L1056.5,308.7 L1054.5,309.5 L1053.6,309.7 L1053.4,310.2 L1052.3,309.9 L1051.4,310.4 L1049.4,309.9 L1048.3,310.2 L1047.6,310.2 L1045.6,311.0 L1044.1,311.2 L1043.0,312.1 L1042.1,312.1 L1041.4,311.4 L1040.9,311.2 L1040.1,310.4 L1040.1,310.6 L1039.7,310.2 L1040.0,308.9 L1039.3,307.4 L1039.9,306.9 L1040.0,305.4 L1039.0,303.3 L1038.2,301.6 L1038.2,301.6 L1036.9,298.8 L1035.6,297.1 L1035.0,295.6 L1034.2,291.9 L1033.7,288.7 L1033.8,286.2 L1033.6,284.9 L1032.9,284.0 L1032.0,282.3 L1030.9,279.7 L1030.6,278.2 L1029.1,276.3 L1029.0,274.6 L1028.8,273.3 L1029.2,271.4 L1029.8,269.4 L1030.0,268.4 L1030.6,266.4 L1031.0,265.6 L1032.1,264.3 L1032.7,263.2 L1032.9,261.7 L1032.9,260.4 L1032.3,259.8 L1031.8,258.5 L1031.4,257.2 L1031.4,256.7 L1032.0,255.9 L1031.1,252.3 L1030.2,251.0 L1030.3,250.6 L1030.2,249.9 L1029.6,248.2 L1028.1,246.0 L1026.2,243.9 L1024.9,242.0 L1023.8,239.9 L1023.8,239.2 L1024.1,238.6 L1024.7,236.9 L1025.1,235.4 L1024.7,234.9 L1025.3,232.6 L1025.6,230.9 L1024.9,229.6 L1023.9,229.1 L1023.6,228.1 L1023.2,227.9 L1023.2,227.2 L1021.3,228.1 L1020.5,227.9 L1019.8,228.5 L1018.3,228.3 L1017.3,227.0 L1016.6,225.5 L1015.2,224.0 L1013.9,224.0 L1012.2,224.0 L1010.7,224.4 L1009.2,224.9 L1006.2,226.1 L1005.0,226.8 L1003.4,227.4 L1001.6,226.8 L1000.9,226.8 L999.5,226.4 L998.4,226.4 L996.1,226.8 L994.8,227.4 L992.9,228.3 L992.5,228.1 L992.0,228.1 L990.1,227.2 L988.4,225.5 L986.7,224.4 L985.6,222.9 L985.0,222.7 L983.7,221.9 L982.7,220.8 L982.4,219.9 L982.2,218.4 L981.3,217.1 L980.5,216.3 L979.6,215.6 L979.4,214.6 L979.2,214.1 L978.7,213.9 L977.6,212.9 L976.8,212.9 L976.4,212.2 L975.9,211.4 L975.7,210.9 L975.5,209.2 L975.7,208.4 L975.0,206.6 L974.1,206.0 L974.9,205.6 L975.8,204.1 L976.2,203.0 L977.0,202.1 L977.0,201.1 L976.9,198.7 L976.7,196.6 L976.6,195.5 L976.8,194.4 L976.4,193.3 L975.4,192.5 L975.6,191.6 L975.6,190.6 L976.3,189.9 L976.9,188.8 L976.9,188.2 L977.6,186.7 L978.7,185.2 L979.3,185.0 L979.8,183.7 L980.7,181.1 L981.8,180.5 L983.1,178.1 L984.1,177.5 L985.7,177.3 L987.2,175.8 L988.1,175.1 L989.6,173.4 L989.4,170.6 L990.1,168.9 L990.3,167.6 L991.5,166.3 L993.3,165.3 L994.7,164.4 L996.0,162.3 L996.6,160.8Z"/>
<path d="M1100.2,264.3 L1101.2,266.6 L1101.7,270.1 L1101.1,271.8 L1100.2,273.7 L1099.6,274.2 L1099.3,276.1 L1097.2,281.4 L1095.8,285.5 L1094.8,288.9 L1093.9,290.9 L1092.4,291.5 L1090.6,292.4 L1089.6,291.7 L1088.2,291.1 L1087.9,290.0 L1087.8,288.1 L1087.2,286.4 L1087.3,284.9 L1087.6,283.2 L1088.6,282.9 L1089.7,280.6 L1089.9,279.1 L1089.4,278.1 L1089.2,276.7 L1089.3,274.8 L1089.9,273.7 L1090.2,272.2 L1091.1,272.2 L1092.3,271.7 L1093.0,271.4 L1093.8,271.4 L1095.0,270.1 L1096.6,268.8 L1097.2,267.7 L1097.0,266.9 L1097.8,267.1 L1098.8,265.6 L1099.0,264.3 L1099.6,263.3 L1100.2,264.3Z"/>
<path d="M1217.4,284.7 L1217.6,287.0 L1216.8,289.8 L1216.8,293.9 L1216.7,296.4 L1216.5,300.7 L1215.6,305.0 L1215.0,308.9 L1213.0,310.8 L1214.2,312.3 L1217.4,312.7 L1221.3,310.8 L1225.0,309.9 L1228.7,310.2 L1230.5,308.2 L1232.4,307.6 L1236.1,306.7 L1240.3,305.2 L1244.6,305.0 L1246.5,306.1 L1249.0,307.4 L1249.0,308.7 L1248.9,311.4 L1249.8,312.3 L1251.4,310.6 L1254.3,308.4 L1254.6,309.5 L1253.2,312.3 L1254.5,312.5 L1253.3,313.8 L1255.1,314.9 L1254.2,317.4 L1254.8,318.9 L1256.4,319.6 L1258.5,320.6 L1261.6,319.1 L1262.9,319.4 L1263.6,321.1 L1266.4,319.4 L1269.0,318.5 L1271.8,317.9 L1273.4,315.5 L1275.9,312.9 L1278.4,309.9 L1280.3,308.2 L1283.5,305.2 L1285.0,302.7 L1287.6,298.4 L1287.6,296.0 L1288.4,293.4 L1287.9,291.5 L1286.9,289.2 L1286.2,285.5 L1284.4,285.3 L1283.6,281.2 L1281.4,279.3 L1279.9,278.0 L1279.7,275.2 L1279.1,272.4 L1279.3,270.5 L1278.5,268.8 L1276.5,267.9 L1276.8,263.9 L1275.5,260.4 L1274.6,261.7 L1273.4,265.1 L1272.8,266.9 L1272.5,269.9 L1271.0,272.7 L1269.6,275.2 L1267.3,274.8 L1265.5,273.5 L1263.6,271.6 L1261.1,269.7 L1261.0,269.0 L1263.1,266.0 L1264.2,263.9 L1263.5,263.0 L1262.7,263.2 L1261.6,263.6 L1259.0,262.8 L1256.6,262.4 L1256.0,264.3 L1253.9,263.6 L1251.7,265.6 L1251.7,268.1 L1250.0,269.6 L1249.6,268.8 L1247.4,269.4 L1246.9,268.1 L1245.3,267.1 L1243.7,267.7 L1242.9,268.6 L1241.7,269.0 L1240.1,270.9 L1239.5,272.4 L1237.4,272.7 L1235.6,274.6 L1235.0,276.5 L1233.0,278.7 L1230.6,280.3 L1228.8,280.4 L1226.8,281.2 L1225.2,281.9 L1223.0,282.5 L1221.3,283.6 L1219.5,284.2 L1218.5,285.7 L1217.4,284.7Z"/>
<path d="M843.5,87.3 L850.7,83.7 L860.9,80.9 L869.8,78.9 L876.8,77.4 L889.1,75.4 L896.8,74.0 L904.4,72.6 L917.3,71.3 L933.0,71.3 L936.8,72.1 L927.8,74.4 L918.6,76.6 L912.7,78.9 L908.5,80.7 L905.9,82.2 L901.8,83.9 L903.2,85.2 L891.2,85.6 L882.9,86.1 L875.2,87.3 L868.6,86.1 L860.3,86.4 L851.0,87.6 L845.0,89.4Z"/>
<path d="M853.9,81.4 L861.9,79.3 L863.8,80.6 L857.8,82.2Z"/>
<path d="M879.9,81.7 L887.2,79.7 L890.0,80.6 L888.6,83.0 L881.8,83.4Z"/>
<path d="M901.4,85.9 L906.0,85.1 L906.8,86.4 L902.5,87.0Z"/>
<path d="M885.0,105.1 L887.2,106.2 L884.0,106.6Z"/>
<path d="M888.7,106.2 L888.6,107.6 L887.4,107.2Z"/>
<path d="M909.6,107.4 L910.7,107.8 L909.4,108.4Z"/>
<path d="M903.2,85.2 L907.0,87.1 L911.5,88.2 L914.1,90.3 L914.8,91.3 L915.0,94.4 L918.6,98.1 L915.8,100.9 L912.9,102.2 L911.0,106.0 L906.9,105.5 L903.1,104.3 L899.8,102.4 L894.8,102.2 L903.1,98.1 L904.8,95.3 L901.7,92.6 L895.9,93.1 L891.3,91.9 L887.2,90.3 L891.0,87.3 L896.4,85.6Z"/>
<path d="M895.0,80.6 L900.9,80.9 L907.0,81.0 L910.7,79.7 L915.4,77.4 L921.7,75.9 L927.5,74.7 L933.7,73.0 L936.9,72.0 L928.8,71.1 L919.7,71.2 L911.0,71.8 L903.9,73.0 L898.6,74.4 L893.2,75.9 L892.1,77.7 L894.3,78.9Z"/>
<path d="M904.4,83.9 L899.3,83.9 L894.1,83.9 L889.8,83.0 L891.3,81.0 L897.5,80.6 L902.1,80.9 L906.0,82.0Z"/>
<path d="M893.5,76.6 L899.8,74.4 L905.3,73.7 L901.2,75.1 L895.5,76.9Z"/>
<path d="M870.8,86.4 L871.5,89.0 L868.0,92.1 L862.6,93.5 L858.1,93.9 L852.6,93.9 L848.0,93.0 L846.6,91.7 L849.1,89.4 L854.1,87.3 L859.0,86.4 L862.6,86.8 L867.4,85.9Z"/>
<path d="M841.1,88.2 L846.3,85.6 L851.3,84.2 L855.6,84.4 L855.7,85.9 L848.5,88.7 L843.5,89.6 L840.5,88.7Z"/>
<path d="M860.2,81.4 L866.3,80.6 L871.3,80.6 L873.6,81.7 L869.4,83.0 L863.3,83.9 L859.2,83.0 L858.4,82.2Z"/>
<path d="M883.6,84.7 L886.5,85.1 L889.0,85.9 L883.6,88.2 L881.0,88.2 L879.1,87.3 L876.0,86.4 L879.7,84.7Z"/>
<path d="M881.5,81.4 L886.3,80.6 L886.2,81.7 L882.2,83.0 L879.3,82.2Z"/>
<path d="M882.4,102.4 L887.1,101.8 L890.6,100.9 L889.0,99.0 L884.4,99.4 L881.7,101.3Z"/>
<path d="M881.7,77.4 L887.1,76.9 L883.3,78.9 L880.0,78.6Z"/>
<path d="M870.8,93.5 L875.7,92.6 L872.8,94.4Z"/>
<path d="M997.7,130.5 L1001.4,129.9 L1004.6,129.3 L1009.4,128.3 L1009.8,125.2 L1007.6,124.2 L1007.3,123.3 L1006.1,121.5 L1004.7,119.5 L1004.0,118.1 L1004.0,116.3 L1004.3,115.3 L1002.0,115.1 L1002.5,113.3 L999.4,113.3 L998.2,114.9 L998.4,116.7 L997.4,117.9 L998.3,119.7 L999.5,120.9 L1001.7,120.7 L1001.8,122.1 L1002.5,123.8 L999.7,123.8 L999.8,125.4 L1000.5,126.0 L998.7,127.2 L1001.9,127.9 L999.9,128.3 L997.7,130.5Z"/>
<path d="M997.1,126.2 L997.5,123.8 L997.4,122.7 L998.2,121.3 L997.3,120.1 L995.6,119.9 L993.8,121.1 L991.2,122.1 L991.2,123.8 L992.1,125.4 L990.4,126.8 L991.7,127.4 L994.1,127.2Z"/>
<path d="M974.4,102.8 L972.5,101.1 L975.6,100.0 L972.8,99.8 L975.9,98.3 L981.5,98.6 L985.9,98.1 L987.7,100.5 L985.7,102.2 L980.8,103.9 L976.5,103.2Z"/>
<path d="M1020.4,77.4 L1027.0,80.4 L1030.4,78.9 L1033.8,77.8 L1039.1,75.9 L1036.4,74.7 L1030.5,74.5 L1024.8,75.4 L1020.1,75.7Z"/>
<path d="M1028.3,75.1 L1033.9,74.4 L1038.8,74.8 L1033.2,75.9Z"/>
<path d="M1076.6,89.0 L1081.3,90.5 L1085.4,90.6 L1082.3,88.5 L1080.7,86.8 L1082.1,84.7 L1084.3,82.2 L1087.1,80.9 L1091.9,79.9 L1088.7,79.7 L1082.2,81.0 L1079.5,82.7 L1078.2,84.7 L1077.2,86.4Z"/>
<path d="M1121.6,76.3 L1125.3,77.4 L1127.9,76.6 L1133.5,77.2 L1129.4,75.1 L1122.8,73.7 L1117.4,74.0 L1115.3,75.1Z"/>
<path d="M1179.2,82.2 L1185.5,83.0 L1189.3,82.2 L1194.9,82.5 L1198.3,83.0 L1195.1,84.2 L1191.2,85.1 L1186.1,84.2Z"/>
<path d="M1246.2,89.4 L1247.6,89.0 L1249.4,90.1Z"/>
<path d="M766.6,89.0 L769.4,89.4 L764.8,90.1Z"/>
<path d="M759.0,93.7 L761.5,94.8 L762.0,96.8 L764.7,97.3 L765.4,98.8 L761.0,100.0 L756.0,102.2 L754.1,101.8 L753.8,100.5 L751.2,100.3 L748.5,100.7Z"/>
<path d="M1061.7,74.0 L1066.8,73.0 L1076.5,73.7 L1073.0,75.1Z"/>
<path d="M1241.7,164.6 L1242.3,163.1 L1243.4,161.6 L1245.8,161.4 L1248.4,161.2 L1248.8,160.3 L1249.0,157.8 L1250.3,158.6 L1251.3,156.5 L1252.2,154.6 L1251.9,152.7 L1250.5,150.5 L1250.4,149.2 L1252.2,149.0 L1253.8,151.4 L1255.5,152.9 L1256.1,155.4 L1255.5,156.1 L1256.4,158.0 L1257.2,160.3 L1257.9,161.0 L1256.8,162.5 L1255.2,161.8 L1255.0,163.1 L1253.4,163.3 L1252.1,164.0 L1251.6,165.9 L1249.5,164.8 L1248.6,163.3 L1246.0,163.8 L1243.9,164.0 L1241.9,164.8Z"/>
<path d="M1240.0,166.1 L1241.2,164.8 L1243.1,165.5 L1244.6,167.4 L1244.8,170.2 L1243.7,171.1 L1242.6,170.0 L1241.6,167.8Z"/>
<path d="M1245.3,166.8 L1246.6,167.4 L1248.7,165.1 L1247.3,164.0 L1245.7,164.0 L1244.8,164.8Z"/>
<path d="M1249.5,148.6 L1247.8,146.3 L1247.9,144.8 L1249.4,144.8 L1247.0,140.4 L1250.0,141.8 L1253.4,143.3 L1254.7,142.7 L1256.6,144.8 L1254.6,145.6 L1254.3,147.5 L1250.8,146.3 L1250.8,148.0Z"/>
<path d="M1246.6,139.1 L1248.4,138.1 L1243.6,132.2 L1246.3,132.8 L1239.7,127.2 L1236.1,123.3 L1233.7,121.7 L1234.4,123.5 L1237.6,127.6 L1242.2,132.8 L1245.4,137.8Z"/>
<path d="M1229.3,188.2 L1229.8,184.6 L1230.8,183.3 L1231.8,183.9 L1231.4,188.8 L1231.0,190.6Z"/>
<path d="M1209.3,196.3 L1210.9,194.6 L1213.6,195.3 L1213.0,197.4 L1211.3,198.5Z"/>
<path d="M1231.2,202.6 L1231.6,197.8 L1233.2,197.6 L1235.1,198.1 L1235.7,201.1 L1234.7,203.4 L1235.2,206.4 L1237.1,207.1 L1239.9,207.9 L1240.4,210.5 L1238.7,209.2 L1237.1,208.4 L1234.9,208.4 L1233.4,206.9 L1233.1,204.9Z"/>
<path d="M1237.5,222.5 L1240.2,220.8 L1241.4,219.3 L1243.5,216.5 L1245.1,217.8 L1246.2,221.9 L1245.5,224.0 L1244.1,225.5 L1243.3,224.4 L1241.8,224.2 L1241.1,222.3 L1239.0,221.4Z"/>
<path d="M1236.9,215.0 L1238.3,212.2 L1240.8,210.7 L1243.5,211.4 L1243.4,213.9 L1242.7,216.1 L1239.9,216.9 L1238.8,217.1 L1237.8,214.6Z"/>
<path d="M1228.3,219.5 L1232.0,213.3 L1232.6,215.0 L1229.8,219.7Z"/>
<path d="M1213.4,234.5 L1214.7,233.2 L1217.2,233.9 L1218.3,231.5 L1220.9,230.6 L1222.7,227.6 L1225.2,225.9 L1226.7,224.4 L1228.1,222.7 L1229.5,223.8 L1231.3,225.5 L1232.4,225.9 L1231.0,226.8 L1231.4,227.9 L1230.1,228.7 L1230.0,230.6 L1230.4,232.6 L1232.2,234.5 L1232.4,235.6 L1230.1,235.8 L1229.6,237.3 L1229.5,239.2 L1227.8,240.7 L1227.6,242.9 L1226.7,246.1 L1224.6,245.9 L1223.9,244.8 L1222.8,244.6 L1220.9,244.1 L1218.4,243.9 L1215.6,243.7 L1215.5,240.9 L1214.6,239.6 L1213.6,238.6 L1213.5,236.6Z"/>
<path d="M1187.2,225.7 L1188.4,225.9 L1191.4,226.4 L1193.2,228.3 L1194.6,229.8 L1197.5,233.0 L1199.6,233.0 L1202.3,236.2 L1203.6,237.3 L1202.9,239.0 L1204.9,241.4 L1205.6,242.4 L1206.9,242.6 L1207.8,244.1 L1207.4,246.7 L1207.0,250.1 L1205.0,250.1 L1203.5,248.2 L1201.1,246.5 L1200.4,245.2 L1199.0,243.5 L1198.1,242.0 L1196.6,239.0 L1195.1,237.1 L1194.5,235.4 L1193.7,233.6 L1192.0,232.1 L1191.0,230.4 L1189.4,229.1 L1187.5,226.8Z"/>
<path d="M1206.2,252.3 L1207.6,250.1 L1209.9,250.3 L1212.1,251.2 L1212.2,252.1 L1215.8,252.3 L1216.4,251.4 L1219.8,252.3 L1220.4,253.8 L1223.2,254.2 L1225.4,255.5 L1223.3,256.4 L1221.3,255.3 L1219.6,255.5 L1217.5,255.3 L1215.8,254.9 L1213.6,254.0 L1212.3,253.8 L1211.5,254.2 L1208.2,253.4 L1207.9,252.3Z"/>
<path d="M1226.2,255.5 L1229.6,254.9 L1231.6,255.7 L1234.9,255.1 L1239.1,254.9 L1238.8,256.1 L1235.9,256.6 L1233.3,256.4 L1229.7,256.6 L1227.2,256.8Z"/>
<path d="M1240.0,259.8 L1241.5,259.1 L1243.0,257.0 L1246.8,255.3 L1247.3,255.5 L1243.0,257.6 L1240.7,259.8Z"/>
<path d="M1231.4,258.1 L1234.8,258.1 L1233.8,259.6 L1232.0,258.7Z"/>
<path d="M1233.0,249.3 L1234.7,249.3 L1234.8,246.1 L1235.9,243.1 L1236.9,247.4 L1239.3,248.2 L1238.5,245.0 L1237.0,243.5 L1237.1,241.6 L1240.5,239.4 L1238.8,239.2 L1236.1,240.5 L1234.7,238.6 L1234.5,236.2 L1236.1,234.7 L1239.8,235.6 L1242.0,235.6 L1243.9,234.1 L1242.6,236.6 L1240.4,237.1 L1237.1,236.9 L1235.0,236.9 L1234.7,237.9 L1233.9,237.7 L1233.3,239.6 L1232.7,242.2 L1231.9,243.5 L1232.6,245.0 L1233.1,246.5Z"/>
<path d="M1249.2,232.8 L1250.7,234.1 L1250.8,236.9 L1249.4,239.4 L1248.9,236.9 L1248.2,234.1Z"/>
<path d="M1249.3,244.6 L1254.5,245.9 L1254.0,244.1 L1249.7,243.5Z"/>
<path d="M1245.5,244.4 L1247.8,244.6 L1247.1,245.6 L1245.8,245.2Z"/>
<path d="M1255.1,240.5 L1256.8,239.0 L1259.1,238.6 L1261.1,240.1 L1261.4,243.5 L1263.4,244.8 L1265.0,242.4 L1267.2,241.1 L1268.9,241.1 L1270.5,242.0 L1272.0,242.6 L1273.9,243.1 L1277.1,244.6 L1280.6,245.9 L1281.9,246.9 L1282.8,248.2 L1283.1,249.3 L1286.0,250.6 L1286.5,251.6 L1284.7,251.9 L1285.0,253.4 L1286.6,254.6 L1287.5,257.0 L1288.7,257.0 L1288.6,257.9 L1289.9,258.3 L1289.3,258.7 L1291.2,259.6 L1291.0,260.2 L1289.6,260.4 L1289.3,259.8 L1287.6,259.6 L1285.8,259.1 L1284.4,257.9 L1283.6,256.6 L1282.7,254.9 L1280.3,253.8 L1278.7,254.4 L1277.5,255.1 L1277.6,256.8 L1276.0,257.4 L1275.1,257.2 L1273.0,257.0 L1271.5,255.3 L1269.6,254.9 L1269.2,255.5 L1266.7,255.5 L1267.6,253.8 L1269.0,253.1 L1268.6,250.8 L1267.8,249.1 L1264.3,247.1 L1262.8,247.1 L1260.0,245.0 L1259.4,246.1 L1258.6,246.3 L1258.3,245.4 L1258.3,244.6 L1256.9,243.5 L1259.0,242.9 L1260.3,242.9 L1260.1,242.2 L1257.3,242.2 L1256.6,240.9 L1255.1,240.5Z"/>
<path d="M1287.4,249.5 L1290.6,249.3 L1293.6,248.0 L1295.1,246.7 L1294.4,249.3 L1291.5,250.8 L1288.6,251.0Z"/>
<path d="M1292.5,243.3 L1295.1,244.4 L1296.6,247.1 L1295.7,247.6 L1293.4,244.6Z"/>
<path d="M1300.1,249.3 L1301.6,251.4 L1300.8,252.5 L1299.3,250.4Z"/>
<path d="M1302.7,252.5 L1307.2,254.6 L1310.6,257.9 L1309.6,258.9 L1306.9,257.4 L1303.4,255.1Z"/>
<path d="M1258.7,324.7 L1261.1,325.5 L1264.7,325.1 L1263.1,327.5 L1260.7,330.0 L1258.4,330.8 L1257.0,330.6 L1257.1,328.9 L1258.0,325.8Z"/>
<path d="M1316.1,311.2 L1316.8,312.5 L1317.8,313.2 L1317.3,315.7 L1317.3,317.4 L1317.9,318.1 L1319.7,318.9 L1322.0,318.3 L1320.4,320.2 L1318.8,321.5 L1316.7,321.9 L1314.3,324.3 L1312.1,325.8 L1310.1,326.8 L1309.9,326.0 L1312.0,324.3 L1311.9,323.0 L1311.1,322.1 L1313.6,320.6 L1315.2,318.7 L1315.7,317.2 L1316.0,316.2 L1315.9,314.9 L1315.8,312.9Z"/>
<path d="M1307.8,324.3 L1307.7,325.3 L1309.0,326.0 L1307.9,327.5 L1304.4,329.6 L1302.9,330.4 L1301.4,331.5 L1299.5,332.1 L1295.0,335.7 L1292.8,336.7 L1291.6,337.2 L1290.1,337.2 L1289.6,336.5 L1287.9,336.3 L1288.1,335.7 L1290.3,334.0 L1294.2,331.9 L1296.9,330.8 L1299.8,329.6 L1301.7,328.5 L1303.7,327.0 L1304.7,326.4 L1306.0,325.1Z"/>
<path d="M1312.0,280.6 L1313.7,281.4 L1316.5,284.9 L1315.8,285.5 L1314.0,284.0 L1312.1,281.7Z"/>
<path d="M1338.2,274.8 L1340.3,275.4 L1339.7,276.5 L1338.1,276.3Z"/>
<path d="M1157.7,223.6 L1158.1,224.2 L1159.4,224.9 L1161.5,221.4 L1160.5,219.1 L1159.5,217.6 L1157.9,216.5 L1157.5,219.9Z"/>
<path d="M849.7,190.6 L851.6,188.8 L853.9,188.2 L856.6,188.0 L858.6,188.2 L861.4,189.5 L864.1,191.2 L866.8,192.5 L869.2,194.0 L867.8,194.6 L863.0,194.8 L863.8,193.8 L861.4,192.5 L861.2,191.2 L858.1,190.3 L855.6,189.9 L854.9,189.5 L852.4,189.9 L850.8,190.6Z"/>
<path d="M868.2,198.3 L870.3,197.8 L871.7,196.6 L871.0,194.8 L873.7,195.1 L876.8,195.5 L878.6,196.8 L879.8,197.6 L878.4,198.1 L875.4,198.3 L873.8,199.8 L872.1,198.5 L868.3,198.9Z"/>
<path d="M861.1,197.8 L863.7,198.1 L864.9,198.9 L863.0,199.6 L861.0,198.5Z"/>
<path d="M881.8,197.8 L884.8,198.1 L884.3,198.9 L881.7,198.9Z"/>
<path d="M864.0,180.1 L865.8,180.5 L864.3,180.7Z"/>
<path d="M863.5,183.5 L863.8,186.1 L862.7,185.0Z"/>
<path d="M907.9,135.7 L910.8,133.9 L913.8,129.7 L916.5,127.4 L916.2,129.7 L918.1,131.6 L918.8,133.9 L918.6,135.7 L918.6,137.6 L916.9,137.8 L914.0,137.2 L913.6,135.7 L910.6,135.7Z"/>
<path d="M802.3,134.1 L801.3,133.9 L799.5,132.8 L797.3,129.3 L799.8,128.9 L802.0,130.3Z"/>
<path d="M794.5,126.2 L793.9,124.0 L796.7,122.5 L796.1,124.0Z"/>
<path d="M899.4,138.3 L902.9,138.1 L901.0,138.7Z"/>
<path d="M1029.0,156.5 L1030.9,155.6 L1034.5,155.4 L1033.8,157.6 L1033.9,158.8 L1032.4,158.2 L1029.3,156.9Z"/>
<path d="M1021.8,153.9 L1021.4,150.5 L1022.4,149.9 L1024.1,149.7 L1023.9,153.5 L1022.9,153.9Z"/>
<path d="M1022.0,148.8 L1022.1,146.3 L1023.2,145.4 L1023.5,147.3 L1023.0,148.8Z"/>
<path d="M1049.0,161.8 L1050.4,161.6 L1054.0,161.8 L1053.1,162.5 L1050.0,162.7Z"/>
<path d="M1064.8,163.3 L1065.6,162.3 L1068.7,161.0 L1067.6,162.7 L1065.9,163.3Z"/>
<path d="M717.5,194.2 L718.7,195.3 L717.2,197.0 L716.8,195.7Z"/>
<path d="M716.1,192.7 L717.4,192.9 L716.4,193.3Z"/>
<path d="M713.5,191.2 L714.5,191.8 L713.7,191.8Z"/>
<path d="M711.1,189.9 L711.9,190.1 L711.3,190.6Z"/>
<path d="M742.3,122.7 L743.7,122.1 L739.8,123.5 L737.5,123.8 L739.1,123.3Z"/>
<path d="M733.5,125.0 L730.4,125.6 L728.4,126.0 L725.6,126.4 L721.9,126.8 L720.0,127.0 L717.4,127.2 L715.3,127.6 L717.6,127.9 L721.2,127.4 L727.0,126.6 L730.8,126.0Z"/>
<path d="M1288.7,125.0 L1293.7,126.6 L1297.8,127.4 L1295.8,127.0 L1291.0,125.6Z"/>
<path d="M833.9,238.1 L835.8,238.6 L834.8,239.6 L833.9,239.2Z"/>
<path d="M907.7,348.0 L911.1,347.1 L913.2,347.6 L912.2,348.8 L909.4,348.8Z"/>
<path d="M946.5,352.5 L949.8,352.9 L949.2,353.5Z"/>
<path d="M1121.4,341.8 L1123.7,342.2 L1122.0,343.6Z"/>
<path d="M977.9,176.4 L979.0,177.1 L978.2,177.9Z"/>
<path d="M1088.6,261.9 L1088.9,263.0 L1088.4,262.8Z"/>
<path d="M1109.6,282.5 L1110.7,282.9 L1110.1,283.4Z"/>
<path d="M1113.7,280.4 L1114.6,280.8 L1113.9,281.4Z"/>
<path d="M1181.2,208.6 L1182.0,210.7 L1181.4,212.9 L1181.0,210.7Z"/>
<path d="M1107.3,210.3 L1109.6,210.5 L1108.5,211.1Z"/>
<path d="M1023.2,229.6 L1023.9,229.8 L1023.6,230.6Z"/>
<path d="M1011.3,152.9 L1012.7,152.0 L1013.0,152.9Z"/>
<path d="M1319.2,269.7 L1320.3,270.7 L1319.4,271.6Z"/>
<path d="M683.1,266.4 L685.2,267.3 L683.6,267.1Z"/>
<path d="M727.7,275.0 L728.6,275.7 L728.1,275.9Z"/>
</g>
<g fill="#fff" stroke="#000" stroke-width="2.1" stroke-linejoin="round">
<path d="M1054.6,146.3 L1055.5,148.4 L1057.6,149.2 L1061.4,149.5 L1064.9,147.5 L1067.5,147.5 L1070.4,149.0 L1073.6,149.9 L1076.5,149.7 L1078.9,148.6 L1078.7,146.3 L1076.2,145.2 L1073.7,143.3 L1070.8,141.8 L1069.1,140.8 L1066.5,141.2 L1065.3,142.5 L1064.1,142.0 L1062.3,140.6 L1063.8,139.3 L1060.9,138.1 L1058.7,138.1 L1057.2,140.6 L1056.0,142.7 L1055.1,145.0Z"/>
<path d="M1066.3,139.9 L1069.1,140.4 L1071.4,137.4 L1069.4,136.8 L1066.3,138.3Z"/>
<path d="M1086.8,141.6 L1087.5,139.7 L1089.7,138.3 L1092.9,137.0 L1096.0,137.4 L1096.7,138.7 L1093.8,140.6 L1094.4,142.3 L1092.8,142.7 L1095.1,145.2 L1097.9,146.9 L1098.6,149.0 L1100.9,149.9 L1100.8,151.8 L1100.6,153.3 L1102.4,157.8 L1098.5,158.6 L1095.8,157.3 L1093.9,156.9 L1092.9,154.4 L1093.2,151.4 L1093.4,150.5 L1091.1,148.0 L1088.7,145.6 L1088.3,143.9 L1088.0,142.7Z"/>
<path d="M1105.5,138.1 L1109.7,138.1 L1111.5,141.2 L1107.5,142.3Z"/>
<path d="M852.6,137.6 L855.9,137.8 L860.0,136.2 L862.6,137.8 L864.9,138.1 L865.1,136.0 L863.7,133.4 L859.3,134.1Z"/>
<path d="M855.9,148.0 L857.9,147.1 L859.5,144.2 L862.3,140.6 L863.9,139.5 L860.4,139.1 L857.3,142.3 L856.4,145.4Z"/>
<path d="M865.5,145.4 L868.1,142.3 L870.8,141.8 L869.6,140.6 L865.6,138.7 L865.6,140.8 L866.3,143.3Z"/>
<path d="M863.3,147.5 L867.7,146.3 L871.3,145.9 L869.6,146.9 L866.2,148.2Z"/>
<path d="M870.5,144.8 L875.1,144.8 L877.0,143.3 L873.0,143.5Z"/>
<path d="M827.3,100.9 L836.0,97.9 L839.5,98.6 L835.0,100.3 L829.8,101.3Z"/>
<path d="M831.9,108.6 L837.7,107.0 L844.0,105.7 L840.2,107.6 L834.7,108.8Z"/>
<path d="M837.4,112.9 L845.0,111.9 L841.8,113.1Z"/>
<path d="M847.5,129.7 L850.2,127.6 L850.6,122.9 L848.4,124.0 L848.6,127.6Z"/>
<path d="M1176.0,127.4 L1178.0,125.4 L1179.3,121.5 L1179.5,118.9 L1181.3,122.5 L1180.1,126.2 L1177.8,127.6Z"/>
<path d="M1067.3,239.6 L1068.6,237.1 L1071.5,236.9 L1073.0,238.4 L1070.5,242.2 L1067.7,242.6Z"/>
<path d="M1062.5,244.8 L1064.7,251.4 L1065.6,256.1 L1064.1,253.6 L1062.5,249.3Z"/>
<path d="M1071.6,258.1 L1072.8,262.1 L1073.3,267.9 L1071.9,266.4 L1071.3,261.1Z"/>
</g>
<path d="M812.1,406.2 L823.8,406.5 L827.7,405.1 L824.3,401.3 L819.3,398.4 L811.9,396.5 L815.5,395.3 L820.2,394.4 L823.1,394.0 L825.6,392.5 L830.7,391.6 L836.3,391.1 L842.1,390.6 L848.7,389.8 L855.8,390.3 L862.9,390.8 L868.8,391.5 L872.7,389.1 L875.4,387.9 L881.6,388.9 L886.8,388.9 L891.6,388.4 L897.6,389.2 L902.3,388.6 L906.8,387.7 L908.1,385.8 L909.4,383.7 L910.7,381.5 L912.0,378.9 L912.3,376.9 L914.1,375.0 L916.4,372.6 L919.4,371.3 L923.7,370.9 L923.4,372.0 L920.6,373.7 L919.9,376.5 L919.2,379.3 L920.9,382.4 L924.4,385.1 L926.4,387.7 L927.8,390.6 L926.1,392.8 L924.9,394.4 L929.6,395.7 L936.1,396.2 L943.8,396.7 L951.2,396.8 L958.4,396.7 L963.0,396.1 L966.0,394.4 L971.7,392.8 L975.1,391.6 L981.2,389.9 L986.1,388.2 L991.1,386.3 L996.3,385.1 L1001.7,384.5 L1007.1,383.7 L1013.9,383.5 L1020.7,383.5 L1027.5,383.7 L1034.3,383.5 L1041.0,383.8 L1048.0,382.9 L1052.3,382.2 L1056.4,382.2 L1062.0,381.9 L1068.4,379.7 L1074.5,378.2 L1080.9,376.5 L1086.3,377.1 L1091.4,378.2 L1096.7,378.8 L1100.6,379.3 L1102.9,382.4 L1104.8,383.7 L1108.3,382.6 L1111.1,382.4 L1114.8,381.0 L1122.2,378.4 L1128.4,377.5 L1134.4,377.1 L1141.6,376.9 L1149.3,376.2 L1155.4,375.6 L1160.0,376.9 L1166.5,376.0 L1170.8,377.5 L1176.6,377.3 L1182.6,376.9 L1188.7,376.5 L1194.8,376.2 L1200.0,376.5 L1204.8,377.3 L1209.4,378.2 L1212.5,380.2 L1216.8,381.1 L1221.3,381.9 L1225.3,382.9 L1227.0,384.5 L1228.9,386.0 L1234.2,386.0 L1231.8,387.7 L1225.8,389.4 L1218.9,391.1 L1211.8,393.6 L1206.3,396.1 L1199.7,398.4 L1194.5,401.3 L1192.9,403.9 L1195.5,405.5 L1202.1,406.2 L1188.5,410.3 L825.7,410.3Z" fill="#7a7673" stroke="#000" stroke-width="2.1" stroke-linejoin="round"/>
</g>
<path d="M825.7,410.3 L818.0,408.2 L808.9,405.1 L798.9,401.3 L788.2,396.8 L777.7,392.0 L768.1,386.8 L759.3,381.5 L750.9,376.0 L742.8,370.3 L734.9,364.5 L727.4,358.5 L720.2,352.5 L713.4,346.3 L707.3,340.1 L701.7,333.8 L696.3,327.5 L691.5,321.1 L687.2,314.7 L683.3,308.2 L679.9,301.8 L677.1,295.4 L674.8,288.9 L672.9,282.5 L671.2,276.1 L669.7,269.7 L668.5,263.2 L667.6,256.8 L666.9,250.4 L666.5,243.9 L666.3,237.5 L666.5,231.1 L666.9,224.6 L667.6,218.2 L668.5,211.8 L669.7,205.3 L671.2,198.9 L672.9,192.5 L674.8,186.1 L677.1,179.6 L679.9,173.2 L683.3,166.8 L687.2,160.3 L691.5,153.9 L696.3,147.5 L701.7,141.2 L707.3,134.9 L713.4,128.7 L720.2,122.5 L727.4,116.5 L734.9,110.5 L742.8,104.7 L750.9,99.0 L759.3,93.5 L768.1,88.2 L777.7,83.0 L788.2,78.2 L798.9,73.7 L808.9,69.9 L818.0,66.8 L825.7,64.7 L1188.5,64.7 L1196.2,66.8 L1205.3,69.9 L1215.3,73.7 L1226.0,78.2 L1236.5,83.0 L1246.1,88.2 L1254.9,93.5 L1263.3,99.0 L1271.4,104.7 L1279.3,110.5 L1286.8,116.5 L1294.0,122.5 L1300.8,128.7 L1306.9,134.9 L1312.5,141.2 L1317.9,147.5 L1322.7,153.9 L1327.0,160.3 L1330.9,166.8 L1334.3,173.2 L1337.1,179.6 L1339.4,186.1 L1341.3,192.5 L1343.0,198.9 L1344.5,205.3 L1345.7,211.8 L1346.6,218.2 L1347.3,224.6 L1347.7,231.1 L1347.9,237.5 L1347.7,243.9 L1347.3,250.4 L1346.6,256.8 L1345.7,263.2 L1344.5,269.7 L1343.0,276.1 L1341.3,282.5 L1339.4,288.9 L1337.1,295.4 L1334.3,301.8 L1330.9,308.2 L1327.0,314.7 L1322.7,321.1 L1317.9,327.5 L1312.5,333.8 L1306.9,340.1 L1300.8,346.3 L1294.0,352.5 L1286.8,358.5 L1279.3,364.5 L1271.4,370.3 L1263.3,376.0 L1254.9,381.5 L1246.1,386.8 L1236.5,392.0 L1226.0,396.8 L1215.3,401.3 L1205.3,405.1 L1196.2,408.2 L1188.5,410.3Z" fill="none" stroke="#000" stroke-width="1.7"/>
<text transform="translate(979.37,37.25) scale(0.9350,1.0000)" font-family="Liberation Sans" font-weight="normal" font-style="normal" font-size="34.71" fill="#111111">U</text><text transform="translate(1003.90,20.50) scale(0.9413,1.0000)" font-family="Liberation Sans" font-weight="normal" font-style="normal" font-size="27.90" fill="#111111">K</text><text transform="translate(1023.19,25.07) scale(0.6825,1.0000)" font-family="Liberation Sans" font-weight="normal" font-style="normal" font-size="32.56" fill="#111111">'</text><text transform="translate(1003.50,53.83) scale(1.0204,1.0000)" font-family="Liberation Sans" font-weight="normal" font-style="normal" font-size="26.90" fill="#111111">37</text>
<circle cx="788.3" cy="110.7" r="12.3" fill="#a8cae3" stroke="#050b14" stroke-width="4.1"/>
<circle cx="875.5" cy="158.7" r="12.3" fill="#a8cae3" stroke="#050b14" stroke-width="4.1"/>
<circle cx="916.7" cy="144.1" r="12.3" fill="#a8cae3" stroke="#050b14" stroke-width="4.1"/>
<circle cx="898.5" cy="143.0" r="12.3" fill="#a8cae3" stroke="#050b14" stroke-width="4.1"/>
<circle cx="1024.5" cy="82.3" r="12.3" fill="#a8cae3" stroke="#050b14" stroke-width="4.1"/>
<circle cx="966.4" cy="106.5" r="12.3" fill="#a8cae3" stroke="#050b14" stroke-width="4.1"/>
<circle cx="984" cy="99.5" r="12.3" fill="#a8cae3" stroke="#050b14" stroke-width="4.1"/>
<circle cx="978.5" cy="96.9" r="12.3" fill="#a8cae3" stroke="#050b14" stroke-width="4.1"/>
<circle cx="1017.9" cy="114.6" r="12.3" fill="#a8cae3" stroke="#050b14" stroke-width="4.1"/>
<circle cx="876.7" cy="273.5" r="12.3" fill="#a8cae3" stroke="#050b14" stroke-width="4.1"/>
<circle cx="875.9" cy="298.7" r="12.3" fill="#a8cae3" stroke="#050b14" stroke-width="4.1"/>
<circle cx="854.7" cy="260.9" r="12.3" fill="#a8cae3" stroke="#050b14" stroke-width="4.1"/>
<circle cx="1301.5" cy="135.8" r="12.3" fill="#a8cae3" stroke="#050b14" stroke-width="4.1"/>
<circle cx="1236.5" cy="252.5" r="12.3" fill="#a8cae3" stroke="#050b14" stroke-width="4.1"/>
<circle cx="793.3" cy="142.6" r="12.3" fill="#2a7bba" stroke="#050b14" stroke-width="4.1"/>
<circle cx="776" cy="148.0" r="12.3" fill="#2a7bba" stroke="#050b14" stroke-width="4.1"/>
<circle cx="781.5" cy="147.3" r="12.3" fill="#2a7bba" stroke="#050b14" stroke-width="4.1"/>
<circle cx="790.9" cy="167.0" r="12.3" fill="#2a7bba" stroke="#050b14" stroke-width="4.1"/>
<circle cx="805.9" cy="173.3" r="12.3" fill="#2a7bba" stroke="#050b14" stroke-width="4.1"/>
<circle cx="804.3" cy="188.2" r="12.3" fill="#2a7bba" stroke="#050b14" stroke-width="4.1"/>
<circle cx="713.5" cy="191.4" r="12.3" fill="#2a7bba" stroke="#050b14" stroke-width="4.1"/>
<circle cx="838.9" cy="178.0" r="12.3" fill="#2a7bba" stroke="#050b14" stroke-width="4.1"/>
<circle cx="891.6" cy="211.0" r="12.3" fill="#2a7bba" stroke="#050b14" stroke-width="4.1"/>
<circle cx="743.7" cy="234.9" r="12.3" fill="#2a7bba" stroke="#050b14" stroke-width="4.1"/>
<circle cx="845.2" cy="217.4" r="12.3" fill="#2a7bba" stroke="#050b14" stroke-width="4.1"/>
<circle cx="859.4" cy="223.6" r="12.3" fill="#2a7bba" stroke="#050b14" stroke-width="4.1"/>
<circle cx="825" cy="236.5" r="12.3" fill="#2a7bba" stroke="#050b14" stroke-width="4.1"/>
<circle cx="852.3" cy="238.9" r="12.3" fill="#2a7bba" stroke="#050b14" stroke-width="4.1"/>
<circle cx="832" cy="251.0" r="12.3" fill="#2a7bba" stroke="#050b14" stroke-width="4.1"/>
<circle cx="860.2" cy="274.3" r="12.3" fill="#2a7bba" stroke="#050b14" stroke-width="4.1"/>
<circle cx="876.7" cy="312.8" r="12.3" fill="#2a7bba" stroke="#050b14" stroke-width="4.1"/>
<circle cx="876.7" cy="353.8" r="12.3" fill="#2a7bba" stroke="#050b14" stroke-width="4.1"/>
<circle cx="877.5" cy="325.4" r="12.3" fill="#2a7bba" stroke="#050b14" stroke-width="4.1"/>
<circle cx="884.6" cy="349.0" r="12.3" fill="#2a7bba" stroke="#050b14" stroke-width="4.1"/>
<circle cx="710.7" cy="326.2" r="12.3" fill="#2a7bba" stroke="#050b14" stroke-width="4.1"/>
<circle cx="938.1" cy="246.4" r="12.3" fill="#2a7bba" stroke="#050b14" stroke-width="4.1"/>
<circle cx="933" cy="281.5" r="12.3" fill="#2a7bba" stroke="#050b14" stroke-width="4.1"/>
<circle cx="922.7" cy="297.9" r="12.3" fill="#2a7bba" stroke="#050b14" stroke-width="4.1"/>
<circle cx="913.2" cy="349.4" r="12.3" fill="#2a7bba" stroke="#050b14" stroke-width="4.1"/>
<circle cx="961.5" cy="117.0" r="12.3" fill="#2a7bba" stroke="#050b14" stroke-width="4.1"/>
<circle cx="972" cy="121.7" r="12.3" fill="#2a7bba" stroke="#050b14" stroke-width="4.1"/>
<circle cx="983.6" cy="125.2" r="12.3" fill="#2a7bba" stroke="#050b14" stroke-width="4.1"/>
<circle cx="952.7" cy="144.1" r="12.3" fill="#2a7bba" stroke="#050b14" stroke-width="4.1"/>
<circle cx="950.1" cy="156.1" r="12.3" fill="#2a7bba" stroke="#050b14" stroke-width="4.1"/>
<circle cx="951" cy="163.0" r="12.3" fill="#2a7bba" stroke="#050b14" stroke-width="4.1"/>
<circle cx="987" cy="149.3" r="12.3" fill="#2a7bba" stroke="#050b14" stroke-width="4.1"/>
<circle cx="973.3" cy="151.0" r="12.3" fill="#2a7bba" stroke="#050b14" stroke-width="4.1"/>
<circle cx="965.6" cy="133.0" r="12.3" fill="#2a7bba" stroke="#050b14" stroke-width="4.1"/>
<circle cx="1002.5" cy="159.6" r="12.3" fill="#2a7bba" stroke="#050b14" stroke-width="4.1"/>
<circle cx="1016.2" cy="152.7" r="12.3" fill="#2a7bba" stroke="#050b14" stroke-width="4.1"/>
<circle cx="1031.7" cy="157.9" r="12.3" fill="#2a7bba" stroke="#050b14" stroke-width="4.1"/>
<circle cx="1048.8" cy="161.3" r="12.3" fill="#2a7bba" stroke="#050b14" stroke-width="4.1"/>
<circle cx="1066" cy="163.0" r="12.3" fill="#2a7bba" stroke="#050b14" stroke-width="4.1"/>
<circle cx="1070.3" cy="178.5" r="12.3" fill="#2a7bba" stroke="#050b14" stroke-width="4.1"/>
<circle cx="990.5" cy="169.9" r="12.3" fill="#2a7bba" stroke="#050b14" stroke-width="4.1"/>
<circle cx="976.7" cy="182.7" r="12.3" fill="#2a7bba" stroke="#050b14" stroke-width="4.1"/>
<circle cx="966.4" cy="195.6" r="12.3" fill="#2a7bba" stroke="#050b14" stroke-width="4.1"/>
<circle cx="969.9" cy="214.5" r="12.3" fill="#2a7bba" stroke="#050b14" stroke-width="4.1"/>
<circle cx="986.2" cy="224.8" r="12.3" fill="#2a7bba" stroke="#050b14" stroke-width="4.1"/>
<circle cx="984.5" cy="239.5" r="12.3" fill="#2a7bba" stroke="#050b14" stroke-width="4.1"/>
<circle cx="976.7" cy="246.4" r="12.3" fill="#2a7bba" stroke="#050b14" stroke-width="4.1"/>
<circle cx="995.6" cy="246.4" r="12.3" fill="#2a7bba" stroke="#050b14" stroke-width="4.1"/>
<circle cx="1087" cy="211.0" r="12.3" fill="#2a7bba" stroke="#050b14" stroke-width="4.1"/>
<circle cx="1089" cy="238.0" r="12.3" fill="#2a7bba" stroke="#050b14" stroke-width="4.1"/>
<circle cx="1026.5" cy="248.1" r="12.3" fill="#2a7bba" stroke="#050b14" stroke-width="4.1"/>
<circle cx="1036.8" cy="261.8" r="12.3" fill="#2a7bba" stroke="#050b14" stroke-width="4.1"/>
<circle cx="1011.1" cy="285.8" r="12.3" fill="#2a7bba" stroke="#050b14" stroke-width="4.1"/>
<circle cx="1030" cy="284.1" r="12.3" fill="#2a7bba" stroke="#050b14" stroke-width="4.1"/>
<circle cx="1029.1" cy="296.1" r="12.3" fill="#2a7bba" stroke="#050b14" stroke-width="4.1"/>
<circle cx="1029.1" cy="308.2" r="12.3" fill="#2a7bba" stroke="#050b14" stroke-width="4.1"/>
<circle cx="1024.8" cy="337.3" r="12.3" fill="#2a7bba" stroke="#050b14" stroke-width="4.1"/>
<circle cx="1020.5" cy="323.6" r="12.3" fill="#2a7bba" stroke="#050b14" stroke-width="4.1"/>
<circle cx="1031.7" cy="328.8" r="12.3" fill="#2a7bba" stroke="#050b14" stroke-width="4.1"/>
<circle cx="1081.5" cy="268.7" r="12.3" fill="#2a7bba" stroke="#050b14" stroke-width="4.1"/>
<circle cx="1075.5" cy="279.0" r="12.3" fill="#2a7bba" stroke="#050b14" stroke-width="4.1"/>
<circle cx="1063.4" cy="308.2" r="12.3" fill="#2a7bba" stroke="#050b14" stroke-width="4.1"/>
<circle cx="1125.6" cy="185.1" r="12.3" fill="#2a7bba" stroke="#050b14" stroke-width="4.1"/>
<circle cx="1107" cy="207.4" r="12.3" fill="#2a7bba" stroke="#050b14" stroke-width="4.1"/>
<circle cx="1093.7" cy="242.8" r="12.3" fill="#2a7bba" stroke="#050b14" stroke-width="4.1"/>
<circle cx="1102.3" cy="232.5" r="12.3" fill="#2a7bba" stroke="#050b14" stroke-width="4.1"/>
<circle cx="1144.2" cy="199.0" r="12.3" fill="#2a7bba" stroke="#050b14" stroke-width="4.1"/>
<circle cx="1147" cy="210.2" r="12.3" fill="#2a7bba" stroke="#050b14" stroke-width="4.1"/>
<circle cx="1146" cy="226.0" r="12.3" fill="#2a7bba" stroke="#050b14" stroke-width="4.1"/>
<circle cx="1173.9" cy="193.4" r="12.3" fill="#2a7bba" stroke="#050b14" stroke-width="4.1"/>
<circle cx="1183.2" cy="206.5" r="12.3" fill="#2a7bba" stroke="#050b14" stroke-width="4.1"/>
<circle cx="1186" cy="217.6" r="12.3" fill="#2a7bba" stroke="#050b14" stroke-width="4.1"/>
<circle cx="1210.2" cy="197.2" r="12.3" fill="#2a7bba" stroke="#050b14" stroke-width="4.1"/>
<circle cx="1223.2" cy="196.2" r="12.3" fill="#2a7bba" stroke="#050b14" stroke-width="4.1"/>
<circle cx="1210.2" cy="215.8" r="12.3" fill="#2a7bba" stroke="#050b14" stroke-width="4.1"/>
<circle cx="1220.4" cy="217.7" r="12.3" fill="#2a7bba" stroke="#050b14" stroke-width="4.1"/>
<circle cx="1244.6" cy="222.3" r="12.3" fill="#2a7bba" stroke="#050b14" stroke-width="4.1"/>
<circle cx="1275.3" cy="228.8" r="12.3" fill="#2a7bba" stroke="#050b14" stroke-width="4.1"/>
<circle cx="1266" cy="135.8" r="12.3" fill="#2a7bba" stroke="#050b14" stroke-width="4.1"/>
<circle cx="1244.6" cy="123.7" r="12.3" fill="#2a7bba" stroke="#050b14" stroke-width="4.1"/>
<circle cx="1257.6" cy="132.1" r="12.3" fill="#2a7bba" stroke="#050b14" stroke-width="4.1"/>
<circle cx="1250.2" cy="151.6" r="12.3" fill="#2a7bba" stroke="#050b14" stroke-width="4.1"/>
<circle cx="1259.5" cy="161.8" r="12.3" fill="#2a7bba" stroke="#050b14" stroke-width="4.1"/>
<circle cx="1238.1" cy="169.3" r="12.3" fill="#2a7bba" stroke="#050b14" stroke-width="4.1"/>
<circle cx="1255.7" cy="171.1" r="12.3" fill="#2a7bba" stroke="#050b14" stroke-width="4.1"/>
<circle cx="1295.7" cy="141.4" r="12.3" fill="#2a7bba" stroke="#050b14" stroke-width="4.1"/>
<circle cx="1292.9" cy="158.1" r="12.3" fill="#2a7bba" stroke="#050b14" stroke-width="4.1"/>
<circle cx="1235" cy="264.2" r="12.3" fill="#2a7bba" stroke="#050b14" stroke-width="4.1"/>
<circle cx="1211.8" cy="274.4" r="12.3" fill="#2a7bba" stroke="#050b14" stroke-width="4.1"/>
<circle cx="1223.9" cy="274.4" r="12.3" fill="#2a7bba" stroke="#050b14" stroke-width="4.1"/>
<circle cx="1206.2" cy="289.3" r="12.3" fill="#2a7bba" stroke="#050b14" stroke-width="4.1"/>
<circle cx="1213.7" cy="305.1" r="12.3" fill="#2a7bba" stroke="#050b14" stroke-width="4.1"/>
<circle cx="1249.9" cy="313.4" r="12.3" fill="#2a7bba" stroke="#050b14" stroke-width="4.1"/>
<circle cx="1250.9" cy="339.5" r="12.3" fill="#2a7bba" stroke="#050b14" stroke-width="4.1"/>
<circle cx="1153.2" cy="333.9" r="12.3" fill="#2a7bba" stroke="#050b14" stroke-width="4.1"/>
<circle cx="1318.7" cy="319.0" r="12.3" fill="#2a7bba" stroke="#050b14" stroke-width="4.1"/>
<circle cx="1309.5" cy="337.6" r="12.3" fill="#2a7bba" stroke="#050b14" stroke-width="4.1"/>
<circle cx="1292.7" cy="328.3" r="12.3" fill="#2a7bba" stroke="#050b14" stroke-width="4.1"/>
<circle cx="1300.2" cy="335.8" r="12.3" fill="#2a7bba" stroke="#050b14" stroke-width="4.1"/>
<circle cx="1315" cy="328.3" r="12.3" fill="#2a7bba" stroke="#050b14" stroke-width="4.1"/>
<circle cx="1285.5" cy="16.3" r="12.4" fill="#a8cae3" stroke="#050b14" stroke-width="4"/>
<circle cx="1285.5" cy="64.3" r="12.4" fill="#2a7bba" stroke="#050b14" stroke-width="4"/>
<text transform="translate(1318.02,31.00) scale(0.9906,1.0000)" font-family="Liberation Sans" font-weight="normal" font-style="normal" font-size="38.84" fill="#111111">LH</text>
<text transform="translate(1318.02,78.72) scale(0.9906,0.9791)" font-family="Liberation Sans" font-weight="normal" font-style="normal" font-size="38.84" fill="#111111">LGM</text>
<text transform="translate(665.45,43.66) scale(0.9999,1.0000)" font-family="Liberation Sans" font-weight="bold" font-style="normal" font-size="33.82" fill="#000">c</text><clipPath id="clipd"><path d="M825.7,864.8 L818.0,862.7 L808.9,859.6 L798.9,855.8 L788.2,851.3 L777.7,846.5 L768.1,841.3 L759.3,836.0 L750.9,830.5 L742.8,824.8 L734.9,819.0 L727.4,813.0 L720.2,807.0 L713.4,800.8 L707.3,794.6 L701.7,788.3 L696.3,782.0 L691.5,775.6 L687.2,769.2 L683.3,762.7 L679.9,756.3 L677.1,749.9 L674.8,743.4 L672.9,737.0 L671.2,730.6 L669.7,724.2 L668.5,717.7 L667.6,711.3 L666.9,704.9 L666.5,698.4 L666.3,692.0 L666.5,685.6 L666.9,679.1 L667.6,672.7 L668.5,666.3 L669.7,659.8 L671.2,653.4 L672.9,647.0 L674.8,640.6 L677.1,634.1 L679.9,627.7 L683.3,621.3 L687.2,614.8 L691.5,608.4 L696.3,602.0 L701.7,595.7 L707.3,589.4 L713.4,583.2 L720.2,577.0 L727.4,571.0 L734.9,565.0 L742.8,559.2 L750.9,553.5 L759.3,548.0 L768.1,542.7 L777.7,537.5 L788.2,532.7 L798.9,528.2 L808.9,524.4 L818.0,521.3 L825.7,519.2 L1188.5,519.2 L1196.2,521.3 L1205.3,524.4 L1215.3,528.2 L1226.0,532.7 L1236.5,537.5 L1246.1,542.7 L1254.9,548.0 L1263.3,553.5 L1271.4,559.2 L1279.3,565.0 L1286.8,571.0 L1294.0,577.0 L1300.8,583.2 L1306.9,589.4 L1312.5,595.7 L1317.9,602.0 L1322.7,608.4 L1327.0,614.8 L1330.9,621.3 L1334.3,627.7 L1337.1,634.1 L1339.4,640.6 L1341.3,647.0 L1343.0,653.4 L1344.5,659.8 L1345.7,666.3 L1346.6,672.7 L1347.3,679.1 L1347.7,685.6 L1347.9,692.0 L1347.7,698.4 L1347.3,704.9 L1346.6,711.3 L1345.7,717.7 L1344.5,724.2 L1343.0,730.6 L1341.3,737.0 L1339.4,743.4 L1337.1,749.9 L1334.3,756.3 L1330.9,762.7 L1327.0,769.2 L1322.7,775.6 L1317.9,782.0 L1312.5,788.3 L1306.9,794.6 L1300.8,800.8 L1294.0,807.0 L1286.8,813.0 L1279.3,819.0 L1271.4,824.8 L1263.3,830.5 L1254.9,836.0 L1246.1,841.3 L1236.5,846.5 L1226.0,851.3 L1215.3,855.8 L1205.3,859.6 L1196.2,862.7 L1188.5,864.8Z"/></clipPath>
<g clip-path="url(#clipd)">
<g fill="#7a7673" stroke="#000" stroke-width="2.1" stroke-linejoin="round">
<path d="M767.0,554.3 L778.3,548.2 L787.5,545.7 L797.1,543.9 L802.3,544.8 L804.0,545.5 L810.1,546.0 L814.6,546.7 L818.5,548.0 L823.7,547.1 L830.2,546.2 L833.6,545.7 L837.2,547.3 L842.9,547.1 L847.0,549.8 L854.3,549.5 L857.2,549.3 L862.3,549.8 L867.6,550.2 L872.5,549.3 L880.0,543.0 L881.3,545.3 L882.5,548.9 L885.3,550.7 L890.8,547.1 L894.6,547.5 L892.1,552.0 L885.1,553.0 L879.5,556.9 L873.2,559.6 L866.3,563.1 L862.9,567.0 L863.6,570.6 L868.2,572.0 L873.1,574.4 L877.1,574.8 L874.9,579.1 L876.1,582.6 L878.9,581.7 L882.0,576.0 L887.4,572.0 L888.3,568.0 L889.7,564.0 L892.5,560.5 L899.1,560.7 L901.3,562.1 L901.8,564.6 L902.8,566.4 L905.4,565.8 L908.1,565.0 L909.9,564.4 L911.2,570.0 L911.5,573.0 L915.2,575.6 L917.5,578.0 L916.7,581.1 L913.6,582.4 L908.6,584.8 L902.1,584.8 L896.5,586.7 L891.0,590.5 L897.1,587.1 L900.6,587.5 L898.7,589.8 L898.5,593.0 L902.3,594.2 L905.9,593.6 L903.7,595.3 L899.0,596.8 L894.2,598.7 L894.8,595.5 L892.2,596.8 L887.4,598.4 L885.5,600.6 L886.1,602.5 L884.1,603.3 L881.3,604.0 L878.4,605.0 L877.7,607.2 L875.5,608.9 L873.2,611.6 L872.5,612.9 L872.5,616.3 L870.4,617.6 L867.3,619.3 L864.7,620.8 L861.3,623.2 L859.5,626.2 L859.1,628.6 L860.0,631.3 L860.3,634.8 L859.5,637.8 L857.9,638.0 L856.9,635.6 L856.0,632.4 L856.1,629.8 L854.4,627.7 L851.7,627.7 L849.2,626.8 L846.4,626.8 L844.3,627.3 L844.5,629.6 L842.1,629.6 L839.7,628.6 L836.0,628.6 L832.9,630.3 L829.6,632.6 L828.3,636.3 L826.7,640.6 L826.0,644.8 L826.5,648.1 L827.8,650.8 L830.0,652.3 L832.8,652.6 L835.6,652.1 L837.6,651.3 L838.7,649.6 L839.3,647.0 L842.9,645.9 L845.7,645.9 L844.4,650.2 L843.4,652.8 L841.9,656.6 L840.9,657.9 L846.1,658.1 L849.8,658.6 L851.0,659.8 L850.3,663.1 L849.8,667.4 L850.7,669.9 L853.4,673.1 L856.6,671.6 L860.0,672.3 L861.2,674.2 L860.6,675.9 L858.9,674.9 L857.1,673.1 L855.7,676.1 L854.2,675.3 L851.8,674.4 L849.2,672.7 L847.3,671.0 L845.4,669.9 L845.7,668.2 L843.7,665.2 L842.3,663.7 L839.0,663.1 L835.6,662.0 L832.9,659.2 L830.2,657.5 L826.4,658.6 L823.2,657.3 L820.2,655.8 L817.1,653.8 L814.1,652.8 L812.5,650.8 L810.9,648.3 L811.8,645.7 L811.3,643.1 L809.7,640.8 L808.1,638.4 L806.1,636.7 L806.4,634.8 L804.8,632.4 L803.9,630.7 L802.7,629.2 L802.3,627.1 L802.2,625.1 L799.7,623.8 L799.1,626.8 L800.3,629.4 L801.0,631.6 L801.7,634.6 L802.6,636.9 L803.0,639.9 L803.8,642.7 L803.2,642.1 L801.0,639.3 L800.7,637.1 L799.5,634.6 L797.8,633.1 L798.4,631.6 L797.2,628.8 L796.2,625.6 L796.1,622.3 L796.2,620.6 L794.8,619.3 L793.5,618.3 L791.5,617.8 L790.8,614.0 L790.8,611.6 L790.6,610.1 L790.6,607.2 L790.8,605.2 L792.7,602.0 L794.0,598.9 L798.2,593.2 L799.8,588.8 L802.2,589.0 L803.7,587.1 L802.4,585.5 L801.6,584.2 L799.4,583.4 L799.8,581.1 L799.8,578.0 L800.3,575.6 L800.6,573.4 L800.4,571.0 L800.3,568.6 L798.8,567.8 L796.9,567.4 L795.8,565.4 L793.1,565.0 L790.1,565.0 L787.8,563.7 L783.2,564.4 L778.3,566.2 L776.0,566.6 L779.6,563.7 L773.3,566.6 L770.0,568.6 L764.7,571.0 L759.8,572.6 L756.2,573.8 L752.2,574.6 L749.0,575.4 L745.3,576.2 L749.8,574.6 L754.7,573.0 L761.0,569.4 L765.5,568.0 L766.1,567.4 L763.2,567.4 L759.7,567.8 L761.9,565.2 L760.1,564.4 L759.3,563.3 L763.1,560.5 L765.7,559.0 L768.0,559.0 L773.1,557.3 L775.1,556.0 L770.9,556.2 L767.8,556.3 L767.5,555.6 L767.0,554.3Z"/>
<path d="M861.2,674.2 L863.4,672.3 L864.9,669.5 L867.4,668.0 L869.7,667.6 L872.1,665.6 L873.1,666.7 L871.9,668.2 L872.4,670.1 L873.3,671.0 L874.4,667.8 L875.7,667.1 L878.5,668.9 L882.8,669.3 L886.0,669.3 L889.4,669.3 L890.6,670.4 L892.6,673.6 L895.1,675.9 L898.1,678.5 L901.6,679.4 L905.0,680.0 L907.8,681.3 L909.7,683.0 L910.6,685.6 L912.5,688.4 L911.9,690.7 L913.4,692.6 L915.3,694.1 L918.1,693.5 L921.9,695.2 L923.5,697.6 L927.1,698.0 L929.9,698.2 L933.3,700.1 L936.2,702.3 L940.0,703.1 L941.2,707.0 L940.9,710.9 L939.3,713.9 L937.1,716.4 L934.8,719.9 L934.0,723.3 L934.3,726.9 L933.7,730.2 L933.0,734.0 L931.9,737.0 L931.1,739.2 L929.4,741.1 L926.6,741.3 L924.0,742.6 L921.1,743.9 L918.8,746.7 L918.0,749.4 L918.1,752.7 L916.8,755.2 L915.5,758.0 L913.9,760.6 L912.8,763.4 L911.2,764.9 L909.4,766.8 L906.8,766.8 L904.6,765.7 L902.5,765.1 L905.1,767.7 L905.3,769.6 L906.5,770.2 L905.8,773.4 L903.4,774.7 L899.2,775.4 L898.0,776.2 L898.7,779.0 L894.5,779.4 L896.6,780.9 L895.3,782.4 L897.6,783.6 L895.7,784.7 L896.0,788.3 L893.4,789.8 L893.6,791.4 L896.3,793.1 L897.3,794.6 L895.4,797.5 L894.4,799.8 L894.9,802.3 L896.6,803.5 L894.3,804.1 L895.6,804.5 L897.5,805.3 L900.2,807.6 L903.7,808.6 L902.1,809.4 L899.0,809.8 L895.6,809.0 L892.6,807.6 L889.0,804.9 L886.6,803.3 L883.8,799.8 L881.9,796.1 L880.7,792.5 L881.6,790.8 L881.6,789.3 L881.1,786.2 L881.8,784.1 L880.2,783.0 L879.0,780.9 L878.9,777.7 L877.8,774.1 L877.0,771.7 L877.6,768.1 L877.9,764.0 L878.2,761.2 L877.2,757.4 L876.8,753.7 L877.2,750.3 L877.2,746.7 L876.8,742.4 L877.0,737.7 L876.4,733.8 L875.6,731.0 L873.5,729.1 L870.6,727.4 L867.6,725.4 L864.7,722.9 L863.8,720.5 L861.9,717.7 L860.2,714.5 L858.0,710.2 L856.0,707.4 L853.7,704.9 L853.6,702.3 L855.2,699.5 L856.1,697.4 L854.6,696.9 L854.0,694.1 L855.5,691.1 L856.0,689.9 L857.8,688.8 L858.4,686.6 L860.3,684.3 L860.9,681.7 L860.7,678.1 L860.0,676.6 L861.2,674.2Z"/>
<path d="M918.6,532.3 L923.1,531.4 L929.7,529.3 L936.3,527.1 L944.8,526.5 L956.3,526.2 L968.3,525.0 L977.1,525.1 L984.5,526.2 L993.4,527.4 L988.4,529.2 L985.4,531.9 L983.5,534.6 L983.5,537.5 L980.3,540.6 L977.7,543.5 L976.6,545.7 L971.1,548.7 L965.7,549.5 L961.8,550.0 L957.4,553.0 L952.0,554.5 L949.3,556.3 L947.2,559.2 L943.8,562.1 L941.3,565.0 L938.6,564.0 L935.2,563.1 L934.1,560.2 L933.6,557.7 L932.3,555.4 L931.4,552.6 L932.6,549.8 L935.9,548.7 L937.5,546.6 L935.7,546.2 L933.6,545.0 L933.6,543.5 L934.2,541.3 L933.3,538.4 L933.1,536.7 L930.7,535.5 L924.4,535.7 L921.5,535.4 L919.1,533.8 L918.6,532.3Z"/>
<path d="M997.1,614.8 L995.9,613.8 L993.8,612.3 L991.3,612.7 L991.6,609.9 L990.4,608.9 L991.6,605.9 L991.9,603.1 L991.3,599.9 L993.4,598.4 L997.7,598.9 L1002.0,599.1 L1004.0,599.1 L1004.9,597.2 L1005.1,593.6 L1003.4,591.1 L1001.3,590.0 L999.4,589.4 L999.6,588.2 L1002.1,587.7 L1004.4,587.9 L1004.6,585.9 L1007.4,586.3 L1009.4,585.0 L1009.7,583.4 L1011.2,583.0 L1012.8,582.1 L1013.9,581.1 L1014.7,579.3 L1015.9,578.5 L1018.3,577.8 L1020.7,577.8 L1021.1,576.4 L1020.5,574.4 L1019.7,572.0 L1020.3,570.8 L1023.3,569.6 L1023.4,572.4 L1024.1,572.2 L1022.9,574.8 L1024.3,576.2 L1027.0,576.2 L1029.1,576.8 L1030.2,577.2 L1033.3,576.0 L1036.4,575.4 L1038.6,576.2 L1040.6,574.6 L1039.9,572.2 L1040.5,570.2 L1042.0,569.8 L1044.1,571.0 L1045.0,570.6 L1044.3,568.4 L1043.1,567.8 L1042.9,566.6 L1045.1,566.0 L1049.6,566.0 L1052.5,565.2 L1050.9,564.6 L1048.5,564.0 L1045.5,564.4 L1041.9,565.2 L1039.4,563.8 L1038.9,561.5 L1038.1,559.6 L1039.7,558.2 L1041.2,556.9 L1043.1,555.6 L1043.5,554.8 L1042.0,553.9 L1039.3,553.9 L1037.8,555.6 L1038.0,556.9 L1036.3,558.1 L1034.3,559.2 L1033.2,560.4 L1033.0,562.7 L1033.1,563.8 L1035.2,564.6 L1035.7,566.0 L1033.9,567.4 L1032.7,569.4 L1032.7,571.8 L1032.2,572.8 L1030.0,573.0 L1029.5,574.2 L1027.4,574.2 L1026.7,572.6 L1027.1,571.8 L1025.5,569.8 L1024.2,567.6 L1023.2,566.6 L1022.7,565.6 L1021.9,567.0 L1019.9,568.6 L1017.9,569.0 L1016.3,568.6 L1015.5,567.4 L1015.0,565.8 L1014.6,564.0 L1014.7,562.5 L1014.8,561.1 L1016.4,560.2 L1018.1,559.2 L1019.5,558.2 L1021.6,557.3 L1022.7,555.8 L1024.3,554.6 L1025.3,553.3 L1026.2,551.7 L1027.8,550.2 L1028.7,549.1 L1030.3,548.4 L1032.0,547.1 L1033.7,546.6 L1036.0,545.8 L1038.2,545.3 L1040.7,544.6 L1042.7,544.4 L1045.2,544.6 L1047.4,545.3 L1049.2,545.8 L1050.7,546.6 L1053.1,547.5 L1055.9,547.6 L1058.9,548.5 L1062.9,550.2 L1064.6,551.1 L1065.3,552.2 L1064.0,553.3 L1061.8,553.3 L1057.9,552.2 L1055.8,552.8 L1054.0,552.4 L1052.8,552.6 L1056.5,554.6 L1057.5,556.5 L1060.2,557.5 L1061.1,556.5 L1060.3,555.2 L1062.6,555.8 L1064.9,556.3 L1065.4,555.4 L1066.7,553.0 L1069.0,553.0 L1069.5,552.0 L1068.3,550.4 L1068.4,549.3 L1070.9,549.3 L1072.4,550.2 L1070.9,550.7 L1072.6,551.8 L1074.6,551.5 L1076.8,550.0 L1080.6,549.1 L1081.2,548.2 L1084.6,548.9 L1087.1,548.4 L1089.6,549.1 L1090.5,548.2 L1089.3,546.6 L1091.1,546.7 L1094.9,547.5 L1098.0,548.0 L1100.7,548.7 L1102.3,549.5 L1102.8,548.5 L1100.2,546.7 L1097.3,544.6 L1096.5,542.7 L1097.0,541.1 L1097.6,540.1 L1100.6,540.6 L1102.9,541.5 L1103.7,543.5 L1105.6,545.3 L1107.0,548.0 L1109.0,549.1 L1109.8,550.9 L1109.5,552.4 L1111.1,551.3 L1111.3,549.5 L1110.1,548.0 L1107.9,546.7 L1107.2,545.0 L1104.9,543.7 L1106.2,542.3 L1106.6,541.6 L1108.2,543.5 L1109.6,543.0 L1110.9,542.1 L1113.3,541.6 L1111.9,539.9 L1114.7,539.6 L1119.5,539.4 L1117.7,538.0 L1118.2,537.2 L1120.8,536.5 L1123.9,535.9 L1127.9,535.5 L1130.2,535.1 L1132.7,535.1 L1131.6,533.4 L1134.8,533.1 L1137.6,533.6 L1136.4,534.1 L1140.8,535.1 L1145.0,534.7 L1148.9,535.5 L1151.3,536.9 L1151.3,538.2 L1149.4,538.7 L1149.2,539.6 L1151.9,539.7 L1155.1,540.3 L1157.9,539.9 L1161.5,539.9 L1167.6,540.9 L1172.3,540.1 L1175.5,540.9 L1178.6,542.3 L1178.1,543.0 L1181.0,544.1 L1183.8,544.6 L1183.5,543.4 L1186.1,543.5 L1188.6,543.4 L1192.8,543.5 L1192.0,542.1 L1193.0,541.3 L1196.8,541.6 L1204.4,542.3 L1208.3,543.4 L1212.4,544.6 L1215.5,544.4 L1219.8,544.6 L1223.2,545.3 L1226.5,546.9 L1229.7,546.7 L1232.7,546.9 L1235.5,546.6 L1241.0,548.4 L1239.8,546.6 L1243.7,546.6 L1247.1,546.6 L1251.8,547.3 L1255.2,548.2 L1265.7,555.2 L1265.1,556.2 L1262.9,556.0 L1262.8,556.9 L1269.2,559.4 L1272.1,560.5 L1268.7,560.2 L1266.4,561.5 L1265.4,561.9 L1265.0,563.1 L1264.3,564.4 L1264.3,565.4 L1261.0,564.0 L1258.9,565.4 L1256.4,565.0 L1254.5,565.2 L1256.3,566.8 L1256.6,569.0 L1257.8,569.8 L1259.4,569.8 L1262.2,572.6 L1261.0,572.8 L1262.1,574.4 L1263.6,575.2 L1262.0,576.4 L1262.8,578.5 L1261.8,579.3 L1263.5,581.3 L1262.9,583.2 L1260.9,581.7 L1257.6,578.9 L1252.0,574.2 L1249.8,571.4 L1249.9,570.2 L1249.0,569.4 L1250.9,568.8 L1250.9,566.4 L1251.2,564.4 L1252.0,562.9 L1249.6,560.0 L1248.1,560.2 L1248.1,561.7 L1245.9,562.3 L1243.8,561.5 L1240.9,562.3 L1240.7,565.4 L1243.4,566.8 L1240.5,567.2 L1238.4,567.4 L1236.9,566.0 L1234.2,565.6 L1233.3,566.6 L1228.5,566.4 L1224.1,567.0 L1223.3,568.6 L1223.0,571.4 L1222.5,573.4 L1221.2,575.6 L1223.9,575.8 L1226.5,577.2 L1227.8,576.4 L1229.7,576.6 L1234.0,578.9 L1235.7,580.7 L1236.1,582.8 L1238.0,585.2 L1239.8,588.6 L1239.4,591.5 L1239.8,593.0 L1239.3,595.5 L1238.5,598.0 L1238.2,599.1 L1236.6,600.4 L1235.5,600.4 L1233.8,599.3 L1232.3,600.8 L1231.9,601.4 L1231.3,602.9 L1232.4,604.4 L1231.3,605.9 L1229.8,606.7 L1230.4,607.8 L1232.5,609.3 L1235.4,611.8 L1236.5,613.1 L1237.5,615.7 L1237.3,616.8 L1234.9,618.1 L1233.4,618.3 L1232.8,617.2 L1232.4,615.5 L1230.6,613.3 L1231.8,612.9 L1229.8,611.2 L1228.7,610.8 L1226.7,610.4 L1227.0,609.1 L1225.8,607.2 L1224.0,606.3 L1222.0,607.2 L1221.0,608.0 L1219.6,608.6 L1219.9,607.6 L1218.9,606.3 L1220.0,605.2 L1218.3,604.4 L1217.2,605.0 L1215.9,606.5 L1215.5,607.8 L1213.8,608.0 L1213.4,609.1 L1215.1,610.4 L1217.0,611.8 L1218.8,612.3 L1220.1,611.0 L1222.0,611.6 L1223.2,611.6 L1224.0,612.9 L1221.7,613.3 L1221.4,614.6 L1220.2,615.7 L1219.9,617.2 L1222.2,618.3 L1223.7,620.4 L1225.5,622.3 L1227.4,624.1 L1228.0,625.8 L1227.1,626.2 L1227.9,627.5 L1229.2,628.1 L1229.5,631.6 L1228.5,631.8 L1227.8,633.9 L1227.1,636.9 L1226.0,639.5 L1223.8,641.4 L1221.6,643.1 L1219.6,643.3 L1218.7,644.4 L1217.8,643.8 L1216.8,644.6 L1214.4,645.7 L1212.7,646.1 L1212.3,648.5 L1211.4,648.5 L1210.6,647.0 L1211.0,646.1 L1208.3,645.5 L1207.4,645.7 L1205.3,647.6 L1204.1,649.6 L1204.0,651.1 L1205.6,653.4 L1207.9,656.2 L1209.8,657.7 L1211.1,659.2 L1212.4,663.3 L1212.6,666.9 L1211.2,668.4 L1209.1,669.7 L1207.7,671.6 L1205.6,673.6 L1204.7,672.3 L1205.2,670.8 L1203.6,669.5 L1202.1,669.3 L1201.2,668.0 L1200.1,665.9 L1198.3,665.0 L1196.6,665.0 L1196.6,663.3 L1195.1,663.3 L1195.2,665.6 L1194.0,669.9 L1194.2,672.3 L1195.5,672.3 L1196.4,674.2 L1196.9,676.1 L1197.9,677.2 L1199.0,677.6 L1200.0,678.7 L1200.6,678.9 L1201.8,680.2 L1202.6,681.5 L1202.7,683.4 L1202.5,684.1 L1202.9,686.0 L1203.7,686.6 L1204.3,688.6 L1204.3,689.2 L1203.0,689.4 L1201.3,687.7 L1199.0,686.0 L1198.8,684.9 L1197.6,683.6 L1197.3,681.7 L1196.5,680.6 L1196.6,679.1 L1196.2,678.1 L1195.4,677.4 L1195.0,676.4 L1193.0,674.0 L1192.7,675.3 L1192.4,674.0 L1192.4,671.9 L1192.9,670.1 L1192.5,667.6 L1192.4,666.3 L1192.2,663.9 L1191.3,662.9 L1190.5,660.3 L1189.8,657.5 L1188.8,655.8 L1187.6,656.8 L1185.7,658.3 L1184.6,658.1 L1183.4,657.7 L1183.6,654.9 L1183.0,653.0 L1181.2,650.4 L1181.4,649.8 L1180.3,649.3 L1178.7,647.6 L1178.0,646.6 L1177.7,645.5 L1176.2,643.1 L1174.6,643.1 L1174.5,645.3 L1173.5,644.8 L1172.2,645.1 L1171.9,645.5 L1170.6,645.5 L1168.3,646.1 L1168.7,647.6 L1167.9,648.7 L1165.5,650.2 L1163.9,652.8 L1160.7,655.6 L1160.8,656.4 L1160.0,657.1 L1158.4,657.9 L1157.4,657.9 L1157.2,659.6 L1157.7,662.4 L1158.0,664.1 L1157.4,666.1 L1157.6,669.7 L1156.5,669.9 L1155.9,671.6 L1156.5,672.3 L1154.8,672.9 L1154.1,674.2 L1153.4,674.9 L1151.6,672.9 L1150.5,669.9 L1149.6,667.8 L1149.0,666.7 L1147.9,664.8 L1147.1,662.0 L1146.6,660.7 L1144.7,657.7 L1143.5,653.6 L1142.7,650.8 L1142.4,648.3 L1141.8,646.1 L1139.3,647.4 L1138.0,647.2 L1135.3,644.6 L1136.0,643.8 L1135.3,643.1 L1133.1,641.2 L1131.6,640.8 L1130.8,639.1 L1129.3,637.6 L1125.9,638.0 L1122.9,638.0 L1120.4,638.2 L1116.8,637.6 L1114.7,637.1 L1112.7,636.9 L1111.6,634.2 L1110.7,633.9 L1109.2,634.2 L1107.5,635.2 L1105.2,634.6 L1103.2,632.8 L1101.3,632.2 L1099.8,630.3 L1098.1,627.5 L1097.3,627.7 L1095.9,627.1 L1095.5,627.9 L1094.3,627.7 L1094.5,628.8 L1095.0,630.1 L1096.4,632.6 L1097.4,633.1 L1097.8,633.9 L1099.2,634.8 L1099.2,636.3 L1099.5,637.1 L1100.1,637.8 L1100.7,638.8 L1101.0,636.1 L1102.0,636.7 L1102.1,638.0 L1101.9,639.3 L1102.3,640.1 L1103.1,640.6 L1105.6,640.1 L1106.8,640.3 L1107.9,638.8 L1109.1,637.6 L1110.2,636.1 L1110.7,635.4 L1110.9,635.6 L1110.9,637.6 L1111.0,638.6 L1113.1,640.8 L1114.4,641.2 L1115.6,641.4 L1117.2,643.3 L1117.8,643.8 L1117.9,644.2 L1117.1,646.1 L1116.4,646.8 L1115.8,648.3 L1114.9,648.1 L1114.6,648.7 L1114.5,649.8 L1114.8,651.1 L1114.6,651.5 L1113.7,651.5 L1112.6,652.1 L1112.5,653.2 L1112.2,653.6 L1111.0,653.6 L1110.4,654.3 L1110.4,655.1 L1109.5,655.7 L1108.4,655.6 L1107.3,656.2 L1106.4,656.2 L1105.1,656.8 L1104.8,657.9 L1104.9,658.6 L1103.0,659.4 L1100.1,660.5 L1099.0,660.9 L1098.5,662.0 L1097.6,662.2 L1097.0,662.0 L1096.1,662.9 L1094.8,663.3 L1093.3,663.5 L1092.8,663.5 L1092.4,664.1 L1091.9,664.2 L1091.7,664.8 L1090.7,664.8 L1090.2,665.0 L1088.9,665.0 L1088.3,663.7 L1088.4,662.4 L1088.0,661.8 L1087.5,660.3 L1086.9,659.4 L1087.3,659.2 L1087.1,658.3 L1087.2,657.9 L1087.2,657.1 L1086.7,656.0 L1086.1,655.3 L1086.1,654.5 L1085.1,653.8 L1083.9,651.9 L1083.2,650.2 L1081.8,648.7 L1081.1,648.5 L1079.6,646.3 L1079.4,644.9 L1079.5,643.6 L1078.2,641.2 L1077.2,640.3 L1076.3,639.9 L1075.6,638.6 L1075.6,638.2 L1075.0,637.1 L1074.4,636.7 L1073.5,635.0 L1072.3,633.3 L1071.3,631.8 L1070.3,631.8 L1070.6,630.7 L1070.7,629.0 L1070.2,630.3 L1069.7,632.4 L1068.6,632.2 L1066.0,627.9 L1065.6,624.9 L1069.2,625.1 L1069.7,624.3 L1069.9,621.7 L1070.2,621.1 L1070.7,619.3 L1071.4,617.8 L1071.1,616.1 L1071.5,615.3 L1071.1,613.3 L1070.2,613.6 L1068.6,613.1 L1067.5,614.4 L1064.8,614.6 L1063.3,613.6 L1061.3,613.3 L1061.1,614.2 L1059.9,614.6 L1058.0,613.3 L1056.0,613.3 L1054.7,611.2 L1053.4,610.1 L1054.1,608.4 L1052.9,607.4 L1052.6,605.9 L1053.1,605.9 L1052.4,604.6 L1051.2,604.4 L1050.3,604.4 L1048.3,604.8 L1049.7,606.1 L1048.8,606.4 L1047.8,606.4 L1046.8,605.2 L1046.5,605.7 L1046.9,606.9 L1048.1,608.0 L1047.4,608.5 L1048.4,609.5 L1049.3,610.1 L1049.5,611.2 L1047.8,610.8 L1048.4,611.8 L1047.4,612.1 L1048.3,614.0 L1047.0,614.0 L1045.5,613.1 L1044.7,611.4 L1044.2,609.9 L1043.4,608.9 L1042.5,607.8 L1042.4,607.2 L1042.0,606.9 L1041.9,606.1 L1040.9,605.7 L1040.7,604.8 L1040.7,603.3 L1040.8,602.7 L1039.7,601.4 L1039.0,601.0 L1037.2,600.4 L1036.1,599.5 L1034.5,598.9 L1033.0,597.4 L1033.3,597.2 L1032.4,596.3 L1032.4,595.5 L1031.3,595.3 L1030.8,596.1 L1030.3,595.5 L1030.3,594.7 L1030.6,594.4 L1029.2,594.2 L1027.9,594.9 L1028.2,595.9 L1028.0,596.5 L1028.6,597.6 L1030.2,598.7 L1031.2,600.4 L1033.2,602.0 L1034.6,602.1 L1035.1,602.7 L1034.6,603.1 L1037.5,604.4 L1039.1,605.4 L1039.3,605.9 L1039.1,606.7 L1037.9,605.7 L1036.5,605.4 L1035.7,606.7 L1037.2,607.6 L1037.1,608.6 L1036.2,608.9 L1035.5,610.6 L1034.8,610.8 L1034.7,610.1 L1035.0,608.9 L1035.3,608.4 L1034.5,606.3 L1033.2,605.9 L1031.6,604.6 L1030.7,603.7 L1029.5,603.5 L1028.0,602.7 L1026.4,601.2 L1025.1,600.1 L1024.5,598.0 L1023.7,597.8 L1022.3,597.0 L1021.4,597.4 L1020.6,598.2 L1019.8,598.4 L1018.3,599.7 L1015.0,599.1 L1012.4,599.7 L1012.2,601.0 L1012.3,602.3 L1010.7,603.7 L1008.5,604.2 L1008.3,604.8 L1007.3,606.1 L1006.6,607.8 L1007.3,609.1 L1006.2,609.9 L1005.9,611.4 L1004.6,611.8 L1003.4,613.3 L999.3,613.3 L998.2,614.2 L997.5,615.1 L997.1,614.8Z"/>
<path d="M996.6,615.3 L997.8,615.3 L998.9,616.3 L1000.7,616.1 L1002.5,616.6 L1003.2,616.6 L1005.0,615.5 L1006.9,615.1 L1008.0,614.2 L1009.8,613.6 L1012.8,613.1 L1015.6,612.9 L1016.5,613.3 L1018.2,612.5 L1020.0,612.5 L1020.7,612.9 L1022.0,612.9 L1023.9,612.1 L1025.1,612.3 L1025.2,613.3 L1026.6,612.5 L1026.8,612.9 L1025.9,614.0 L1025.9,615.1 L1026.5,615.5 L1026.4,617.4 L1025.2,618.5 L1025.6,619.6 L1026.6,619.6 L1027.0,620.6 L1027.8,621.1 L1030.0,621.7 L1030.7,621.5 L1032.1,621.9 L1034.5,622.8 L1035.5,624.7 L1037.2,625.1 L1039.7,626.0 L1041.8,627.1 L1042.7,626.6 L1043.5,625.6 L1042.9,623.8 L1043.4,623.0 L1044.7,621.9 L1045.8,621.7 L1048.4,622.1 L1049.0,623.0 L1049.7,623.0 L1050.4,623.4 L1052.1,623.6 L1052.7,624.3 L1055.0,624.3 L1056.9,624.9 L1058.7,625.6 L1059.5,625.8 L1060.9,625.1 L1061.5,624.5 L1063.1,624.3 L1064.5,624.7 L1065.1,625.8 L1065.4,624.9 L1066.9,625.5 L1068.3,625.6 L1069.2,625.1 L1070.2,629.6 L1069.9,631.3 L1069.7,632.4 L1069.2,632.8 L1067.6,631.1 L1066.0,627.9 L1065.8,628.1 L1066.8,630.5 L1068.0,632.6 L1069.8,636.1 L1070.6,637.1 L1071.2,638.4 L1073.0,640.8 L1072.7,641.0 L1072.8,642.5 L1075.1,644.4 L1075.5,644.9 L1076.2,647.0 L1076.1,649.6 L1077.0,652.1 L1077.8,652.6 L1078.8,653.4 L1080.0,656.0 L1080.7,657.9 L1081.7,659.0 L1084.4,660.9 L1085.4,662.2 L1086.6,663.5 L1087.1,664.2 L1088.1,664.8 L1088.5,665.4 L1088.6,666.3 L1087.4,666.9 L1088.2,667.4 L1089.0,667.8 L1089.4,668.6 L1090.2,669.7 L1091.1,669.7 L1093.0,669.1 L1094.9,668.9 L1096.5,668.2 L1097.5,668.0 L1098.2,667.6 L1099.1,667.6 L1099.9,667.6 L1100.6,667.1 L1101.7,666.9 L1102.5,666.3 L1103.2,666.3 L1103.3,666.9 L1103.2,669.3 L1102.8,669.9 L1102.5,672.3 L1101.7,674.6 L1100.6,677.4 L1099.0,680.6 L1097.3,683.0 L1095.3,685.8 L1093.4,687.6 L1090.6,689.7 L1088.7,691.4 L1086.6,693.9 L1085.7,695.6 L1084.5,696.5 L1083.9,697.4 L1083.4,697.6 L1083.0,699.1 L1082.4,699.9 L1082.0,701.2 L1081.2,702.1 L1080.2,704.6 L1080.4,705.9 L1081.5,706.6 L1081.7,707.2 L1081.1,708.5 L1081.3,709.1 L1081.1,710.2 L1081.6,711.5 L1082.3,713.6 L1083.0,714.1 L1083.4,715.1 L1083.1,717.3 L1083.4,719.0 L1083.3,722.4 L1083.6,723.5 L1083.0,725.0 L1082.1,726.5 L1081.0,727.8 L1079.0,728.7 L1076.9,729.7 L1074.8,732.1 L1074.0,732.3 L1072.6,734.0 L1071.8,734.4 L1071.6,735.9 L1072.4,737.7 L1072.7,738.7 L1072.7,739.4 L1073.1,739.4 L1072.8,741.5 L1072.5,742.4 L1072.9,742.8 L1072.6,743.7 L1071.7,744.5 L1070.1,745.2 L1067.8,746.4 L1067.1,747.1 L1067.2,747.9 L1067.5,748.2 L1067.3,749.2 L1066.8,750.9 L1066.5,752.7 L1065.8,753.7 L1064.5,754.8 L1064.1,755.0 L1063.3,756.1 L1062.6,757.2 L1061.6,758.7 L1059.2,761.0 L1057.9,762.3 L1056.5,763.2 L1054.5,764.0 L1053.6,764.2 L1053.4,764.7 L1052.3,764.4 L1051.4,764.9 L1049.4,764.4 L1048.3,764.7 L1047.6,764.7 L1045.6,765.5 L1044.1,765.7 L1043.0,766.6 L1042.1,766.6 L1041.4,765.9 L1040.9,765.7 L1040.1,764.9 L1040.1,765.1 L1039.7,764.7 L1040.0,763.4 L1039.3,761.9 L1039.9,761.4 L1040.0,759.9 L1039.0,757.8 L1038.2,756.1 L1038.2,756.1 L1036.9,753.3 L1035.6,751.6 L1035.0,750.1 L1034.2,746.4 L1033.7,743.2 L1033.8,740.7 L1033.6,739.4 L1032.9,738.5 L1032.0,736.8 L1030.9,734.2 L1030.6,732.7 L1029.1,730.8 L1029.0,729.1 L1028.8,727.8 L1029.2,725.9 L1029.8,723.9 L1030.0,722.9 L1030.6,720.9 L1031.0,720.1 L1032.1,718.8 L1032.7,717.7 L1032.9,716.2 L1032.9,714.9 L1032.3,714.3 L1031.8,713.0 L1031.4,711.7 L1031.4,711.2 L1032.0,710.4 L1031.1,706.8 L1030.2,705.5 L1030.3,705.1 L1030.2,704.4 L1029.6,702.7 L1028.1,700.5 L1026.2,698.4 L1024.9,696.5 L1023.8,694.4 L1023.8,693.7 L1024.1,693.1 L1024.7,691.4 L1025.1,689.9 L1024.7,689.4 L1025.3,687.1 L1025.6,685.4 L1024.9,684.1 L1023.9,683.6 L1023.6,682.6 L1023.2,682.4 L1023.2,681.7 L1021.3,682.6 L1020.5,682.4 L1019.8,683.0 L1018.3,682.8 L1017.3,681.5 L1016.6,680.0 L1015.2,678.5 L1013.9,678.5 L1012.2,678.5 L1010.7,678.9 L1009.2,679.4 L1006.2,680.6 L1005.0,681.3 L1003.4,681.9 L1001.6,681.3 L1000.9,681.3 L999.5,680.9 L998.4,680.9 L996.1,681.3 L994.8,681.9 L992.9,682.8 L992.5,682.6 L992.0,682.6 L990.1,681.7 L988.4,680.0 L986.7,678.9 L985.6,677.4 L985.0,677.2 L983.7,676.4 L982.7,675.3 L982.4,674.4 L982.2,672.9 L981.3,671.6 L980.5,670.8 L979.6,670.1 L979.4,669.1 L979.2,668.6 L978.7,668.4 L977.6,667.4 L976.8,667.4 L976.4,666.7 L975.9,665.9 L975.7,665.4 L975.5,663.7 L975.7,662.9 L975.0,661.1 L974.1,660.5 L974.9,660.1 L975.8,658.6 L976.2,657.5 L977.0,656.6 L977.0,655.6 L976.9,653.2 L976.7,651.1 L976.6,650.0 L976.8,648.9 L976.4,647.8 L975.4,647.0 L975.6,646.1 L975.6,645.1 L976.3,644.4 L976.9,643.3 L976.9,642.7 L977.6,641.2 L978.7,639.7 L979.3,639.5 L979.8,638.2 L980.7,635.6 L981.8,635.0 L983.1,632.6 L984.1,632.0 L985.7,631.8 L987.2,630.3 L988.1,629.6 L989.6,627.9 L989.4,625.1 L990.1,623.4 L990.3,622.1 L991.5,620.8 L993.3,619.8 L994.7,618.9 L996.0,616.8 L996.6,615.3Z"/>
<path d="M1100.2,718.8 L1101.2,721.1 L1101.7,724.6 L1101.1,726.3 L1100.2,728.2 L1099.6,728.7 L1099.3,730.6 L1097.2,735.9 L1095.8,740.0 L1094.8,743.4 L1093.9,745.4 L1092.4,746.0 L1090.6,746.9 L1089.6,746.2 L1088.2,745.6 L1087.9,744.5 L1087.8,742.6 L1087.2,740.9 L1087.3,739.4 L1087.6,737.7 L1088.6,737.4 L1089.7,735.1 L1089.9,733.6 L1089.4,732.6 L1089.2,731.2 L1089.3,729.3 L1089.9,728.2 L1090.2,726.7 L1091.1,726.7 L1092.3,726.2 L1093.0,725.9 L1093.8,725.9 L1095.0,724.6 L1096.6,723.3 L1097.2,722.2 L1097.0,721.4 L1097.8,721.6 L1098.8,720.1 L1099.0,718.8 L1099.6,717.8 L1100.2,718.8Z"/>
<path d="M1217.4,739.2 L1217.6,741.5 L1216.8,744.3 L1216.8,748.4 L1216.7,750.9 L1216.5,755.2 L1215.6,759.5 L1215.0,763.4 L1213.0,765.3 L1214.2,766.8 L1217.4,767.2 L1221.3,765.3 L1225.0,764.4 L1228.7,764.7 L1230.5,762.7 L1232.4,762.1 L1236.1,761.2 L1240.3,759.7 L1244.6,759.5 L1246.5,760.6 L1249.0,761.9 L1249.0,763.2 L1248.9,765.9 L1249.8,766.8 L1251.4,765.1 L1254.3,762.9 L1254.6,764.0 L1253.2,766.8 L1254.5,767.0 L1253.3,768.3 L1255.1,769.4 L1254.2,771.9 L1254.8,773.4 L1256.4,774.1 L1258.5,775.1 L1261.6,773.6 L1262.9,773.9 L1263.6,775.6 L1266.4,773.9 L1269.0,773.0 L1271.8,772.4 L1273.4,770.0 L1275.9,767.4 L1278.4,764.4 L1280.3,762.7 L1283.5,759.7 L1285.0,757.2 L1287.6,752.9 L1287.6,750.5 L1288.4,747.9 L1287.9,746.0 L1286.9,743.7 L1286.2,740.0 L1284.4,739.8 L1283.6,735.7 L1281.4,733.8 L1279.9,732.5 L1279.7,729.7 L1279.1,726.9 L1279.3,725.0 L1278.5,723.3 L1276.5,722.4 L1276.8,718.4 L1275.5,714.9 L1274.6,716.2 L1273.4,719.6 L1272.8,721.4 L1272.5,724.4 L1271.0,727.2 L1269.6,729.7 L1267.3,729.3 L1265.5,728.0 L1263.6,726.1 L1261.1,724.2 L1261.0,723.5 L1263.1,720.5 L1264.2,718.4 L1263.5,717.5 L1262.7,717.7 L1261.6,718.1 L1259.0,717.3 L1256.6,716.9 L1256.0,718.8 L1253.9,718.1 L1251.7,720.1 L1251.7,722.6 L1250.0,724.1 L1249.6,723.3 L1247.4,723.9 L1246.9,722.6 L1245.3,721.6 L1243.7,722.2 L1242.9,723.1 L1241.7,723.5 L1240.1,725.4 L1239.5,726.9 L1237.4,727.2 L1235.6,729.1 L1235.0,731.0 L1233.0,733.2 L1230.6,734.8 L1228.8,734.9 L1226.8,735.7 L1225.2,736.4 L1223.0,737.0 L1221.3,738.1 L1219.5,738.7 L1218.5,740.2 L1217.4,739.2Z"/>
<path d="M843.5,541.8 L850.7,538.2 L860.9,535.4 L869.8,533.4 L876.8,531.9 L889.1,529.9 L896.8,528.5 L904.4,527.1 L917.3,525.8 L933.0,525.8 L936.8,526.6 L927.8,528.9 L918.6,531.1 L912.7,533.4 L908.5,535.2 L905.9,536.7 L901.8,538.4 L903.2,539.7 L891.2,540.1 L882.9,540.6 L875.2,541.8 L868.6,540.6 L860.3,540.9 L851.0,542.1 L845.0,543.9Z"/>
<path d="M853.9,535.9 L861.9,533.8 L863.8,535.1 L857.8,536.7Z"/>
<path d="M879.9,536.2 L887.2,534.2 L890.0,535.1 L888.6,537.5 L881.8,537.9Z"/>
<path d="M901.4,540.4 L906.0,539.6 L906.8,540.9 L902.5,541.5Z"/>
<path d="M885.0,559.6 L887.2,560.7 L884.0,561.1Z"/>
<path d="M888.7,560.7 L888.6,562.1 L887.4,561.7Z"/>
<path d="M909.6,561.9 L910.7,562.3 L909.4,562.9Z"/>
<path d="M903.2,539.7 L907.0,541.6 L911.5,542.7 L914.1,544.8 L914.8,545.8 L915.0,548.9 L918.6,552.6 L915.8,555.4 L912.9,556.7 L911.0,560.5 L906.9,560.0 L903.1,558.8 L899.8,556.9 L894.8,556.7 L903.1,552.6 L904.8,549.8 L901.7,547.1 L895.9,547.6 L891.3,546.4 L887.2,544.8 L891.0,541.8 L896.4,540.1Z"/>
<path d="M895.0,535.1 L900.9,535.4 L907.0,535.5 L910.7,534.2 L915.4,531.9 L921.7,530.4 L927.5,529.2 L933.7,527.5 L936.9,526.5 L928.8,525.6 L919.7,525.7 L911.0,526.3 L903.9,527.5 L898.6,528.9 L893.2,530.4 L892.1,532.2 L894.3,533.4Z"/>
<path d="M904.4,538.4 L899.3,538.4 L894.1,538.4 L889.8,537.5 L891.3,535.5 L897.5,535.1 L902.1,535.4 L906.0,536.5Z"/>
<path d="M893.5,531.1 L899.8,528.9 L905.3,528.2 L901.2,529.6 L895.5,531.4Z"/>
<path d="M870.8,540.9 L871.5,543.5 L868.0,546.6 L862.6,548.0 L858.1,548.4 L852.6,548.4 L848.0,547.5 L846.6,546.2 L849.1,543.9 L854.1,541.8 L859.0,540.9 L862.6,541.3 L867.4,540.4Z"/>
<path d="M841.1,542.7 L846.3,540.1 L851.3,538.7 L855.6,538.9 L855.7,540.4 L848.5,543.2 L843.5,544.1 L840.5,543.2Z"/>
<path d="M860.2,535.9 L866.3,535.1 L871.3,535.1 L873.6,536.2 L869.4,537.5 L863.3,538.4 L859.2,537.5 L858.4,536.7Z"/>
<path d="M883.6,539.2 L886.5,539.6 L889.0,540.4 L883.6,542.7 L881.0,542.7 L879.1,541.8 L876.0,540.9 L879.7,539.2Z"/>
<path d="M881.5,535.9 L886.3,535.1 L886.2,536.2 L882.2,537.5 L879.3,536.7Z"/>
<path d="M882.4,556.9 L887.1,556.3 L890.6,555.4 L889.0,553.5 L884.4,553.9 L881.7,555.8Z"/>
<path d="M881.7,531.9 L887.1,531.4 L883.3,533.4 L880.0,533.1Z"/>
<path d="M870.8,548.0 L875.7,547.1 L872.8,548.9Z"/>
<path d="M997.7,585.0 L1001.4,584.4 L1004.6,583.8 L1009.4,582.8 L1009.8,579.7 L1007.6,578.7 L1007.3,577.8 L1006.1,576.0 L1004.7,574.0 L1004.0,572.6 L1004.0,570.8 L1004.3,569.8 L1002.0,569.6 L1002.5,567.8 L999.4,567.8 L998.2,569.4 L998.4,571.2 L997.4,572.4 L998.3,574.2 L999.5,575.4 L1001.7,575.2 L1001.8,576.6 L1002.5,578.3 L999.7,578.3 L999.8,579.9 L1000.5,580.5 L998.7,581.7 L1001.9,582.4 L999.9,582.8 L997.7,585.0Z"/>
<path d="M997.1,580.7 L997.5,578.3 L997.4,577.2 L998.2,575.8 L997.3,574.6 L995.6,574.4 L993.8,575.6 L991.2,576.6 L991.2,578.3 L992.1,579.9 L990.4,581.3 L991.7,581.9 L994.1,581.7Z"/>
<path d="M974.4,557.3 L972.5,555.6 L975.6,554.5 L972.8,554.3 L975.9,552.8 L981.5,553.1 L985.9,552.6 L987.7,555.0 L985.7,556.7 L980.8,558.4 L976.5,557.7Z"/>
<path d="M1020.4,531.9 L1027.0,534.9 L1030.4,533.4 L1033.8,532.3 L1039.1,530.4 L1036.4,529.2 L1030.5,529.0 L1024.8,529.9 L1020.1,530.2Z"/>
<path d="M1028.3,529.6 L1033.9,528.9 L1038.8,529.3 L1033.2,530.4Z"/>
<path d="M1076.6,543.5 L1081.3,545.0 L1085.4,545.1 L1082.3,543.0 L1080.7,541.3 L1082.1,539.2 L1084.3,536.7 L1087.1,535.4 L1091.9,534.4 L1088.7,534.2 L1082.2,535.5 L1079.5,537.2 L1078.2,539.2 L1077.2,540.9Z"/>
<path d="M1121.6,530.8 L1125.3,531.9 L1127.9,531.1 L1133.5,531.7 L1129.4,529.6 L1122.8,528.2 L1117.4,528.5 L1115.3,529.6Z"/>
<path d="M1179.2,536.7 L1185.5,537.5 L1189.3,536.7 L1194.9,537.0 L1198.3,537.5 L1195.1,538.7 L1191.2,539.6 L1186.1,538.7Z"/>
<path d="M1246.2,543.9 L1247.6,543.5 L1249.4,544.6Z"/>
<path d="M766.6,543.5 L769.4,543.9 L764.8,544.6Z"/>
<path d="M759.0,548.2 L761.5,549.3 L762.0,551.3 L764.7,551.8 L765.4,553.3 L761.0,554.5 L756.0,556.7 L754.1,556.3 L753.8,555.0 L751.2,554.8 L748.5,555.2Z"/>
<path d="M1061.7,528.5 L1066.8,527.5 L1076.5,528.2 L1073.0,529.6Z"/>
<path d="M1241.7,619.1 L1242.3,617.6 L1243.4,616.1 L1245.8,615.9 L1248.4,615.7 L1248.8,614.8 L1249.0,612.3 L1250.3,613.1 L1251.3,611.0 L1252.2,609.1 L1251.9,607.2 L1250.5,605.0 L1250.4,603.7 L1252.2,603.5 L1253.8,605.9 L1255.5,607.4 L1256.1,609.9 L1255.5,610.6 L1256.4,612.5 L1257.2,614.8 L1257.9,615.5 L1256.8,617.0 L1255.2,616.3 L1255.0,617.6 L1253.4,617.8 L1252.1,618.5 L1251.6,620.4 L1249.5,619.3 L1248.6,617.8 L1246.0,618.3 L1243.9,618.5 L1241.9,619.3Z"/>
<path d="M1240.0,620.6 L1241.2,619.3 L1243.1,620.0 L1244.6,621.9 L1244.8,624.7 L1243.7,625.6 L1242.6,624.5 L1241.6,622.3Z"/>
<path d="M1245.3,621.3 L1246.6,621.9 L1248.7,619.6 L1247.3,618.5 L1245.7,618.5 L1244.8,619.3Z"/>
<path d="M1249.5,603.1 L1247.8,600.8 L1247.9,599.3 L1249.4,599.3 L1247.0,594.9 L1250.0,596.3 L1253.4,597.8 L1254.7,597.2 L1256.6,599.3 L1254.6,600.1 L1254.3,602.0 L1250.8,600.8 L1250.8,602.5Z"/>
<path d="M1246.6,593.6 L1248.4,592.6 L1243.6,586.7 L1246.3,587.3 L1239.7,581.7 L1236.1,577.8 L1233.7,576.2 L1234.4,578.0 L1237.6,582.1 L1242.2,587.3 L1245.4,592.3Z"/>
<path d="M1229.3,642.7 L1229.8,639.1 L1230.8,637.8 L1231.8,638.4 L1231.4,643.3 L1231.0,645.1Z"/>
<path d="M1209.3,650.8 L1210.9,649.1 L1213.6,649.8 L1213.0,651.9 L1211.3,653.0Z"/>
<path d="M1231.2,657.1 L1231.6,652.3 L1233.2,652.1 L1235.1,652.6 L1235.7,655.6 L1234.7,657.9 L1235.2,660.9 L1237.1,661.6 L1239.9,662.4 L1240.4,665.0 L1238.7,663.7 L1237.1,662.9 L1234.9,662.9 L1233.4,661.4 L1233.1,659.4Z"/>
<path d="M1237.5,677.0 L1240.2,675.3 L1241.4,673.8 L1243.5,671.0 L1245.1,672.3 L1246.2,676.4 L1245.5,678.5 L1244.1,680.0 L1243.3,678.9 L1241.8,678.7 L1241.1,676.8 L1239.0,675.9Z"/>
<path d="M1236.9,669.5 L1238.3,666.7 L1240.8,665.2 L1243.5,665.9 L1243.4,668.4 L1242.7,670.6 L1239.9,671.4 L1238.8,671.6 L1237.8,669.1Z"/>
<path d="M1228.3,674.0 L1232.0,667.8 L1232.6,669.5 L1229.8,674.2Z"/>
<path d="M1213.4,689.0 L1214.7,687.7 L1217.2,688.4 L1218.3,686.0 L1220.9,685.1 L1222.7,682.1 L1225.2,680.4 L1226.7,678.9 L1228.1,677.2 L1229.5,678.3 L1231.3,680.0 L1232.4,680.4 L1231.0,681.3 L1231.4,682.4 L1230.1,683.2 L1230.0,685.1 L1230.4,687.1 L1232.2,689.0 L1232.4,690.1 L1230.1,690.3 L1229.6,691.8 L1229.5,693.7 L1227.8,695.2 L1227.6,697.4 L1226.7,700.6 L1224.6,700.4 L1223.9,699.3 L1222.8,699.1 L1220.9,698.6 L1218.4,698.4 L1215.6,698.2 L1215.5,695.4 L1214.6,694.1 L1213.6,693.1 L1213.5,691.1Z"/>
<path d="M1187.2,680.2 L1188.4,680.4 L1191.4,680.9 L1193.2,682.8 L1194.6,684.3 L1197.5,687.5 L1199.6,687.5 L1202.3,690.7 L1203.6,691.8 L1202.9,693.5 L1204.9,695.9 L1205.6,696.9 L1206.9,697.1 L1207.8,698.6 L1207.4,701.2 L1207.0,704.6 L1205.0,704.6 L1203.5,702.7 L1201.1,701.0 L1200.4,699.7 L1199.0,698.0 L1198.1,696.5 L1196.6,693.5 L1195.1,691.6 L1194.5,689.9 L1193.7,688.1 L1192.0,686.6 L1191.0,684.9 L1189.4,683.6 L1187.5,681.3Z"/>
<path d="M1206.2,706.8 L1207.6,704.6 L1209.9,704.8 L1212.1,705.7 L1212.2,706.6 L1215.8,706.8 L1216.4,705.9 L1219.8,706.8 L1220.4,708.3 L1223.2,708.7 L1225.4,710.0 L1223.3,710.9 L1221.3,709.8 L1219.6,710.0 L1217.5,709.8 L1215.8,709.4 L1213.6,708.5 L1212.3,708.3 L1211.5,708.7 L1208.2,707.9 L1207.9,706.8Z"/>
<path d="M1226.2,710.0 L1229.6,709.4 L1231.6,710.2 L1234.9,709.6 L1239.1,709.4 L1238.8,710.6 L1235.9,711.1 L1233.3,710.9 L1229.7,711.1 L1227.2,711.3Z"/>
<path d="M1240.0,714.3 L1241.5,713.6 L1243.0,711.5 L1246.8,709.8 L1247.3,710.0 L1243.0,712.1 L1240.7,714.3Z"/>
<path d="M1231.4,712.6 L1234.8,712.6 L1233.8,714.1 L1232.0,713.2Z"/>
<path d="M1233.0,703.8 L1234.7,703.8 L1234.8,700.6 L1235.9,697.6 L1236.9,701.9 L1239.3,702.7 L1238.5,699.5 L1237.0,698.0 L1237.1,696.1 L1240.5,693.9 L1238.8,693.7 L1236.1,695.0 L1234.7,693.1 L1234.5,690.7 L1236.1,689.2 L1239.8,690.1 L1242.0,690.1 L1243.9,688.6 L1242.6,691.1 L1240.4,691.6 L1237.1,691.4 L1235.0,691.4 L1234.7,692.4 L1233.9,692.2 L1233.3,694.1 L1232.7,696.7 L1231.9,698.0 L1232.6,699.5 L1233.1,701.0Z"/>
<path d="M1249.2,687.3 L1250.7,688.6 L1250.8,691.4 L1249.4,693.9 L1248.9,691.4 L1248.2,688.6Z"/>
<path d="M1249.3,699.1 L1254.5,700.4 L1254.0,698.6 L1249.7,698.0Z"/>
<path d="M1245.5,698.9 L1247.8,699.1 L1247.1,700.1 L1245.8,699.7Z"/>
<path d="M1255.1,695.0 L1256.8,693.5 L1259.1,693.1 L1261.1,694.6 L1261.4,698.0 L1263.4,699.3 L1265.0,696.9 L1267.2,695.6 L1268.9,695.6 L1270.5,696.5 L1272.0,697.1 L1273.9,697.6 L1277.1,699.1 L1280.6,700.4 L1281.9,701.4 L1282.8,702.7 L1283.1,703.8 L1286.0,705.1 L1286.5,706.1 L1284.7,706.4 L1285.0,707.9 L1286.6,709.1 L1287.5,711.5 L1288.7,711.5 L1288.6,712.4 L1289.9,712.8 L1289.3,713.2 L1291.2,714.1 L1291.0,714.7 L1289.6,714.9 L1289.3,714.3 L1287.6,714.1 L1285.8,713.6 L1284.4,712.4 L1283.6,711.1 L1282.7,709.4 L1280.3,708.3 L1278.7,708.9 L1277.5,709.6 L1277.6,711.3 L1276.0,711.9 L1275.1,711.7 L1273.0,711.5 L1271.5,709.8 L1269.6,709.4 L1269.2,710.0 L1266.7,710.0 L1267.6,708.3 L1269.0,707.6 L1268.6,705.3 L1267.8,703.6 L1264.3,701.6 L1262.8,701.6 L1260.0,699.5 L1259.4,700.6 L1258.6,700.8 L1258.3,699.9 L1258.3,699.1 L1256.9,698.0 L1259.0,697.4 L1260.3,697.4 L1260.1,696.7 L1257.3,696.7 L1256.6,695.4 L1255.1,695.0Z"/>
<path d="M1287.4,704.0 L1290.6,703.8 L1293.6,702.5 L1295.1,701.2 L1294.4,703.8 L1291.5,705.3 L1288.6,705.5Z"/>
<path d="M1292.5,697.8 L1295.1,698.9 L1296.6,701.6 L1295.7,702.1 L1293.4,699.1Z"/>
<path d="M1300.1,703.8 L1301.6,705.9 L1300.8,707.0 L1299.3,704.9Z"/>
<path d="M1302.7,707.0 L1307.2,709.1 L1310.6,712.4 L1309.6,713.4 L1306.9,711.9 L1303.4,709.6Z"/>
<path d="M1258.7,779.2 L1261.1,780.0 L1264.7,779.6 L1263.1,782.0 L1260.7,784.5 L1258.4,785.3 L1257.0,785.1 L1257.1,783.4 L1258.0,780.3Z"/>
<path d="M1316.1,765.7 L1316.8,767.0 L1317.8,767.7 L1317.3,770.2 L1317.3,771.9 L1317.9,772.6 L1319.7,773.4 L1322.0,772.8 L1320.4,774.7 L1318.8,776.0 L1316.7,776.4 L1314.3,778.8 L1312.1,780.3 L1310.1,781.3 L1309.9,780.5 L1312.0,778.8 L1311.9,777.5 L1311.1,776.6 L1313.6,775.1 L1315.2,773.2 L1315.7,771.7 L1316.0,770.7 L1315.9,769.4 L1315.8,767.4Z"/>
<path d="M1307.8,778.8 L1307.7,779.8 L1309.0,780.5 L1307.9,782.0 L1304.4,784.1 L1302.9,784.9 L1301.4,786.0 L1299.5,786.6 L1295.0,790.2 L1292.8,791.2 L1291.6,791.7 L1290.1,791.7 L1289.6,791.0 L1287.9,790.8 L1288.1,790.2 L1290.3,788.5 L1294.2,786.4 L1296.9,785.3 L1299.8,784.1 L1301.7,783.0 L1303.7,781.5 L1304.7,780.9 L1306.0,779.6Z"/>
<path d="M1312.0,735.1 L1313.7,735.9 L1316.5,739.4 L1315.8,740.0 L1314.0,738.5 L1312.1,736.2Z"/>
<path d="M1338.2,729.3 L1340.3,729.9 L1339.7,731.0 L1338.1,730.8Z"/>
<path d="M1157.7,678.1 L1158.1,678.7 L1159.4,679.4 L1161.5,675.9 L1160.5,673.6 L1159.5,672.1 L1157.9,671.0 L1157.5,674.4Z"/>
<path d="M849.7,645.1 L851.6,643.3 L853.9,642.7 L856.6,642.5 L858.6,642.7 L861.4,644.0 L864.1,645.7 L866.8,647.0 L869.2,648.5 L867.8,649.1 L863.0,649.3 L863.8,648.3 L861.4,647.0 L861.2,645.7 L858.1,644.8 L855.6,644.4 L854.9,644.0 L852.4,644.4 L850.8,645.1Z"/>
<path d="M868.2,652.8 L870.3,652.3 L871.7,651.1 L871.0,649.3 L873.7,649.6 L876.8,650.0 L878.6,651.3 L879.8,652.1 L878.4,652.6 L875.4,652.8 L873.8,654.3 L872.1,653.0 L868.3,653.4Z"/>
<path d="M861.1,652.3 L863.7,652.6 L864.9,653.4 L863.0,654.1 L861.0,653.0Z"/>
<path d="M881.8,652.3 L884.8,652.6 L884.3,653.4 L881.7,653.4Z"/>
<path d="M864.0,634.6 L865.8,635.0 L864.3,635.2Z"/>
<path d="M863.5,638.0 L863.8,640.6 L862.7,639.5Z"/>
<path d="M907.9,590.2 L910.8,588.4 L913.8,584.2 L916.5,581.9 L916.2,584.2 L918.1,586.1 L918.8,588.4 L918.6,590.2 L918.6,592.1 L916.9,592.3 L914.0,591.7 L913.6,590.2 L910.6,590.2Z"/>
<path d="M802.3,588.6 L801.3,588.4 L799.5,587.3 L797.3,583.8 L799.8,583.4 L802.0,584.8Z"/>
<path d="M794.5,580.7 L793.9,578.5 L796.7,577.0 L796.1,578.5Z"/>
<path d="M899.4,592.8 L902.9,592.6 L901.0,593.2Z"/>
<path d="M1029.0,611.0 L1030.9,610.1 L1034.5,609.9 L1033.8,612.1 L1033.9,613.3 L1032.4,612.7 L1029.3,611.4Z"/>
<path d="M1021.8,608.4 L1021.4,605.0 L1022.4,604.4 L1024.1,604.2 L1023.9,608.0 L1022.9,608.4Z"/>
<path d="M1022.0,603.3 L1022.1,600.8 L1023.2,599.9 L1023.5,601.8 L1023.0,603.3Z"/>
<path d="M1049.0,616.3 L1050.4,616.1 L1054.0,616.3 L1053.1,617.0 L1050.0,617.2Z"/>
<path d="M1064.8,617.8 L1065.6,616.8 L1068.7,615.5 L1067.6,617.2 L1065.9,617.8Z"/>
<path d="M717.5,648.7 L718.7,649.8 L717.2,651.5 L716.8,650.2Z"/>
<path d="M716.1,647.2 L717.4,647.4 L716.4,647.8Z"/>
<path d="M713.5,645.7 L714.5,646.3 L713.7,646.3Z"/>
<path d="M711.1,644.4 L711.9,644.6 L711.3,645.1Z"/>
<path d="M742.3,577.2 L743.7,576.6 L739.8,578.0 L737.5,578.3 L739.1,577.8Z"/>
<path d="M733.5,579.5 L730.4,580.1 L728.4,580.5 L725.6,580.9 L721.9,581.3 L720.0,581.5 L717.4,581.7 L715.3,582.1 L717.6,582.4 L721.2,581.9 L727.0,581.1 L730.8,580.5Z"/>
<path d="M1288.7,579.5 L1293.7,581.1 L1297.8,581.9 L1295.8,581.5 L1291.0,580.1Z"/>
<path d="M833.9,692.6 L835.8,693.1 L834.8,694.1 L833.9,693.7Z"/>
<path d="M907.7,802.5 L911.1,801.6 L913.2,802.1 L912.2,803.3 L909.4,803.3Z"/>
<path d="M946.5,807.0 L949.8,807.4 L949.2,808.0Z"/>
<path d="M1121.4,796.3 L1123.7,796.7 L1122.0,798.1Z"/>
<path d="M977.9,630.9 L979.0,631.6 L978.2,632.4Z"/>
<path d="M1088.6,716.4 L1088.9,717.5 L1088.4,717.3Z"/>
<path d="M1109.6,737.0 L1110.7,737.4 L1110.1,737.9Z"/>
<path d="M1113.7,734.9 L1114.6,735.3 L1113.9,735.9Z"/>
<path d="M1181.2,663.1 L1182.0,665.2 L1181.4,667.4 L1181.0,665.2Z"/>
<path d="M1107.3,664.8 L1109.6,665.0 L1108.5,665.6Z"/>
<path d="M1023.2,684.1 L1023.9,684.3 L1023.6,685.1Z"/>
<path d="M1011.3,607.4 L1012.7,606.5 L1013.0,607.4Z"/>
<path d="M1319.2,724.2 L1320.3,725.2 L1319.4,726.1Z"/>
<path d="M683.1,720.9 L685.2,721.8 L683.6,721.6Z"/>
<path d="M727.7,729.5 L728.6,730.2 L728.1,730.4Z"/>
</g>
<g fill="#fff" stroke="#000" stroke-width="2.1" stroke-linejoin="round">
<path d="M1054.6,600.8 L1055.5,602.9 L1057.6,603.7 L1061.4,604.0 L1064.9,602.0 L1067.5,602.0 L1070.4,603.5 L1073.6,604.4 L1076.5,604.2 L1078.9,603.1 L1078.7,600.8 L1076.2,599.7 L1073.7,597.8 L1070.8,596.3 L1069.1,595.3 L1066.5,595.7 L1065.3,597.0 L1064.1,596.5 L1062.3,595.1 L1063.8,593.8 L1060.9,592.6 L1058.7,592.6 L1057.2,595.1 L1056.0,597.2 L1055.1,599.5Z"/>
<path d="M1066.3,594.4 L1069.1,594.9 L1071.4,591.9 L1069.4,591.3 L1066.3,592.8Z"/>
<path d="M1086.8,596.1 L1087.5,594.2 L1089.7,592.8 L1092.9,591.5 L1096.0,591.9 L1096.7,593.2 L1093.8,595.1 L1094.4,596.8 L1092.8,597.2 L1095.1,599.7 L1097.9,601.4 L1098.6,603.5 L1100.9,604.4 L1100.8,606.3 L1100.6,607.8 L1102.4,612.3 L1098.5,613.1 L1095.8,611.8 L1093.9,611.4 L1092.9,608.9 L1093.2,605.9 L1093.4,605.0 L1091.1,602.5 L1088.7,600.1 L1088.3,598.4 L1088.0,597.2Z"/>
<path d="M1105.5,592.6 L1109.7,592.6 L1111.5,595.7 L1107.5,596.8Z"/>
<path d="M852.6,592.1 L855.9,592.3 L860.0,590.7 L862.6,592.3 L864.9,592.6 L865.1,590.5 L863.7,587.9 L859.3,588.6Z"/>
<path d="M855.9,602.5 L857.9,601.6 L859.5,598.7 L862.3,595.1 L863.9,594.0 L860.4,593.6 L857.3,596.8 L856.4,599.9Z"/>
<path d="M865.5,599.9 L868.1,596.8 L870.8,596.3 L869.6,595.1 L865.6,593.2 L865.6,595.3 L866.3,597.8Z"/>
<path d="M863.3,602.0 L867.7,600.8 L871.3,600.4 L869.6,601.4 L866.2,602.7Z"/>
<path d="M870.5,599.3 L875.1,599.3 L877.0,597.8 L873.0,598.0Z"/>
<path d="M827.3,555.4 L836.0,552.4 L839.5,553.1 L835.0,554.8 L829.8,555.8Z"/>
<path d="M831.9,563.1 L837.7,561.5 L844.0,560.2 L840.2,562.1 L834.7,563.3Z"/>
<path d="M837.4,567.4 L845.0,566.4 L841.8,567.6Z"/>
<path d="M847.5,584.2 L850.2,582.1 L850.6,577.4 L848.4,578.5 L848.6,582.1Z"/>
<path d="M1176.0,581.9 L1178.0,579.9 L1179.3,576.0 L1179.5,573.4 L1181.3,577.0 L1180.1,580.7 L1177.8,582.1Z"/>
<path d="M1067.3,694.1 L1068.6,691.6 L1071.5,691.4 L1073.0,692.9 L1070.5,696.7 L1067.7,697.1Z"/>
<path d="M1062.5,699.3 L1064.7,705.9 L1065.6,710.6 L1064.1,708.1 L1062.5,703.8Z"/>
<path d="M1071.6,712.6 L1072.8,716.6 L1073.3,722.4 L1071.9,720.9 L1071.3,715.6Z"/>
</g>
<path d="M812.1,860.7 L823.8,861.0 L827.7,859.6 L824.3,855.8 L819.3,852.9 L811.9,851.0 L815.5,849.8 L820.2,848.9 L823.1,848.5 L825.6,847.0 L830.7,846.1 L836.3,845.6 L842.1,845.1 L848.7,844.3 L855.8,844.8 L862.9,845.3 L868.8,846.0 L872.7,843.6 L875.4,842.4 L881.6,843.4 L886.8,843.4 L891.6,842.9 L897.6,843.7 L902.3,843.1 L906.8,842.2 L908.1,840.3 L909.4,838.2 L910.7,836.0 L912.0,833.4 L912.3,831.4 L914.1,829.5 L916.4,827.1 L919.4,825.8 L923.7,825.4 L923.4,826.5 L920.6,828.2 L919.9,831.0 L919.2,833.8 L920.9,836.9 L924.4,839.6 L926.4,842.2 L927.8,845.1 L926.1,847.3 L924.9,848.9 L929.6,850.2 L936.1,850.7 L943.8,851.2 L951.2,851.3 L958.4,851.2 L963.0,850.6 L966.0,848.9 L971.7,847.3 L975.1,846.1 L981.2,844.4 L986.1,842.7 L991.1,840.8 L996.3,839.6 L1001.7,839.0 L1007.1,838.2 L1013.9,838.0 L1020.7,838.0 L1027.5,838.2 L1034.3,838.0 L1041.0,838.3 L1048.0,837.4 L1052.3,836.7 L1056.4,836.7 L1062.0,836.4 L1068.4,834.2 L1074.5,832.7 L1080.9,831.0 L1086.3,831.6 L1091.4,832.7 L1096.7,833.3 L1100.6,833.8 L1102.9,836.9 L1104.8,838.2 L1108.3,837.1 L1111.1,836.9 L1114.8,835.5 L1122.2,832.9 L1128.4,832.0 L1134.4,831.6 L1141.6,831.4 L1149.3,830.7 L1155.4,830.1 L1160.0,831.4 L1166.5,830.5 L1170.8,832.0 L1176.6,831.8 L1182.6,831.4 L1188.7,831.0 L1194.8,830.7 L1200.0,831.0 L1204.8,831.8 L1209.4,832.7 L1212.5,834.7 L1216.8,835.6 L1221.3,836.4 L1225.3,837.4 L1227.0,839.0 L1228.9,840.5 L1234.2,840.5 L1231.8,842.2 L1225.8,843.9 L1218.9,845.6 L1211.8,848.1 L1206.3,850.6 L1199.7,852.9 L1194.5,855.8 L1192.9,858.4 L1195.5,860.0 L1202.1,860.7 L1188.5,864.8 L825.7,864.8Z" fill="#7a7673" stroke="#000" stroke-width="2.1" stroke-linejoin="round"/>
</g>
<path d="M825.7,864.8 L818.0,862.7 L808.9,859.6 L798.9,855.8 L788.2,851.3 L777.7,846.5 L768.1,841.3 L759.3,836.0 L750.9,830.5 L742.8,824.8 L734.9,819.0 L727.4,813.0 L720.2,807.0 L713.4,800.8 L707.3,794.6 L701.7,788.3 L696.3,782.0 L691.5,775.6 L687.2,769.2 L683.3,762.7 L679.9,756.3 L677.1,749.9 L674.8,743.4 L672.9,737.0 L671.2,730.6 L669.7,724.2 L668.5,717.7 L667.6,711.3 L666.9,704.9 L666.5,698.4 L666.3,692.0 L666.5,685.6 L666.9,679.1 L667.6,672.7 L668.5,666.3 L669.7,659.8 L671.2,653.4 L672.9,647.0 L674.8,640.6 L677.1,634.1 L679.9,627.7 L683.3,621.3 L687.2,614.8 L691.5,608.4 L696.3,602.0 L701.7,595.7 L707.3,589.4 L713.4,583.2 L720.2,577.0 L727.4,571.0 L734.9,565.0 L742.8,559.2 L750.9,553.5 L759.3,548.0 L768.1,542.7 L777.7,537.5 L788.2,532.7 L798.9,528.2 L808.9,524.4 L818.0,521.3 L825.7,519.2 L1188.5,519.2 L1196.2,521.3 L1205.3,524.4 L1215.3,528.2 L1226.0,532.7 L1236.5,537.5 L1246.1,542.7 L1254.9,548.0 L1263.3,553.5 L1271.4,559.2 L1279.3,565.0 L1286.8,571.0 L1294.0,577.0 L1300.8,583.2 L1306.9,589.4 L1312.5,595.7 L1317.9,602.0 L1322.7,608.4 L1327.0,614.8 L1330.9,621.3 L1334.3,627.7 L1337.1,634.1 L1339.4,640.6 L1341.3,647.0 L1343.0,653.4 L1344.5,659.8 L1345.7,666.3 L1346.6,672.7 L1347.3,679.1 L1347.7,685.6 L1347.9,692.0 L1347.7,698.4 L1347.3,704.9 L1346.6,711.3 L1345.7,717.7 L1344.5,724.2 L1343.0,730.6 L1341.3,737.0 L1339.4,743.4 L1337.1,749.9 L1334.3,756.3 L1330.9,762.7 L1327.0,769.2 L1322.7,775.6 L1317.9,782.0 L1312.5,788.3 L1306.9,794.6 L1300.8,800.8 L1294.0,807.0 L1286.8,813.0 L1279.3,819.0 L1271.4,824.8 L1263.3,830.5 L1254.9,836.0 L1246.1,841.3 L1236.5,846.5 L1226.0,851.3 L1215.3,855.8 L1205.3,859.6 L1196.2,862.7 L1188.5,864.8Z" fill="none" stroke="#000" stroke-width="1.7"/>
<text transform="translate(953.42,507.17) scale(1.0000,1.0000)" font-family="Liberation Sans" font-weight="normal" font-style="normal" font-size="33.47" fill="#111111">Mg/Ca</text>
<circle cx="966" cy="546.4" r="12.3" fill="#a8cae3" stroke="#050b14" stroke-width="4.1"/>
<circle cx="1022" cy="542.6" r="12.3" fill="#a8cae3" stroke="#050b14" stroke-width="4.1"/>
<circle cx="1123" cy="636.5" r="12.3" fill="#a8cae3" stroke="#050b14" stroke-width="4.1"/>
<circle cx="938.5" cy="757.6" r="12.3" fill="#a8cae3" stroke="#050b14" stroke-width="4.1"/>
<circle cx="790.9" cy="617.6" r="12.3" fill="#2a7bba" stroke="#050b14" stroke-width="4.1"/>
<circle cx="835.5" cy="633.9" r="12.3" fill="#2a7bba" stroke="#050b14" stroke-width="4.1"/>
<circle cx="848.4" cy="628.8" r="12.3" fill="#2a7bba" stroke="#050b14" stroke-width="4.1"/>
<circle cx="853.6" cy="640.8" r="12.3" fill="#2a7bba" stroke="#050b14" stroke-width="4.1"/>
<circle cx="878.5" cy="613.3" r="12.3" fill="#2a7bba" stroke="#050b14" stroke-width="4.1"/>
<circle cx="870.7" cy="620.2" r="12.3" fill="#2a7bba" stroke="#050b14" stroke-width="4.1"/>
<circle cx="875" cy="657.9" r="12.3" fill="#2a7bba" stroke="#050b14" stroke-width="4.1"/>
<circle cx="857.9" cy="666.5" r="12.3" fill="#2a7bba" stroke="#050b14" stroke-width="4.1"/>
<circle cx="895.6" cy="664.8" r="12.3" fill="#2a7bba" stroke="#050b14" stroke-width="4.1"/>
<circle cx="887" cy="670.0" r="12.3" fill="#2a7bba" stroke="#050b14" stroke-width="4.1"/>
<circle cx="842.4" cy="676.8" r="12.3" fill="#2a7bba" stroke="#050b14" stroke-width="4.1"/>
<circle cx="832.1" cy="691.5" r="12.3" fill="#2a7bba" stroke="#050b14" stroke-width="4.1"/>
<circle cx="844.1" cy="696.7" r="12.3" fill="#2a7bba" stroke="#050b14" stroke-width="4.1"/>
<circle cx="924" cy="750.7" r="12.3" fill="#2a7bba" stroke="#050b14" stroke-width="4.1"/>
<circle cx="826.1" cy="810.0" r="12.3" fill="#2a7bba" stroke="#050b14" stroke-width="4.1"/>
<circle cx="957.4" cy="567.0" r="12.3" fill="#2a7bba" stroke="#050b14" stroke-width="4.1"/>
<circle cx="983.2" cy="546.4" r="12.3" fill="#2a7bba" stroke="#050b14" stroke-width="4.1"/>
<circle cx="995.2" cy="539.5" r="12.3" fill="#2a7bba" stroke="#050b14" stroke-width="4.1"/>
<circle cx="1004" cy="525.5" r="12.3" fill="#2a7bba" stroke="#050b14" stroke-width="4.1"/>
<circle cx="1019.2" cy="532.6" r="12.3" fill="#2a7bba" stroke="#050b14" stroke-width="4.1"/>
<circle cx="1001.2" cy="536.9" r="12.3" fill="#2a7bba" stroke="#050b14" stroke-width="4.1"/>
<circle cx="985.8" cy="546.4" r="12.3" fill="#2a7bba" stroke="#050b14" stroke-width="4.1"/>
<circle cx="972" cy="560.1" r="12.3" fill="#2a7bba" stroke="#050b14" stroke-width="4.1"/>
<circle cx="998.6" cy="558.4" r="12.3" fill="#2a7bba" stroke="#050b14" stroke-width="4.1"/>
<circle cx="1013.2" cy="554.9" r="12.3" fill="#2a7bba" stroke="#050b14" stroke-width="4.1"/>
<circle cx="1001.2" cy="558.4" r="12.3" fill="#2a7bba" stroke="#050b14" stroke-width="4.1"/>
<circle cx="979.7" cy="575.5" r="12.3" fill="#2a7bba" stroke="#050b14" stroke-width="4.1"/>
<circle cx="988.3" cy="585.8" r="12.3" fill="#2a7bba" stroke="#050b14" stroke-width="4.1"/>
<circle cx="990" cy="580.7" r="12.3" fill="#2a7bba" stroke="#050b14" stroke-width="4.1"/>
<circle cx="960.9" cy="596.1" r="12.3" fill="#2a7bba" stroke="#050b14" stroke-width="4.1"/>
<circle cx="950.6" cy="610.7" r="12.3" fill="#2a7bba" stroke="#050b14" stroke-width="4.1"/>
<circle cx="1002" cy="613.3" r="12.3" fill="#2a7bba" stroke="#050b14" stroke-width="4.1"/>
<circle cx="972.9" cy="633.9" r="12.3" fill="#2a7bba" stroke="#050b14" stroke-width="4.1"/>
<circle cx="964.3" cy="652.8" r="12.3" fill="#2a7bba" stroke="#050b14" stroke-width="4.1"/>
<circle cx="973.7" cy="653.6" r="12.3" fill="#2a7bba" stroke="#050b14" stroke-width="4.1"/>
<circle cx="945.4" cy="678.5" r="12.3" fill="#2a7bba" stroke="#050b14" stroke-width="4.1"/>
<circle cx="969.4" cy="675.1" r="12.3" fill="#2a7bba" stroke="#050b14" stroke-width="4.1"/>
<circle cx="942.8" cy="685.5" r="12.3" fill="#2a7bba" stroke="#050b14" stroke-width="4.1"/>
<circle cx="937.7" cy="700.9" r="12.3" fill="#2a7bba" stroke="#050b14" stroke-width="4.1"/>
<circle cx="962.6" cy="693.2" r="12.3" fill="#2a7bba" stroke="#050b14" stroke-width="4.1"/>
<circle cx="984" cy="694.9" r="12.3" fill="#2a7bba" stroke="#050b14" stroke-width="4.1"/>
<circle cx="1016.7" cy="676.8" r="12.3" fill="#2a7bba" stroke="#050b14" stroke-width="4.1"/>
<circle cx="1161.7" cy="520.6" r="12.3" fill="#2a7bba" stroke="#050b14" stroke-width="4.1"/>
<circle cx="1014.9" cy="679.5" r="12.3" fill="#2a7bba" stroke="#050b14" stroke-width="4.1"/>
<circle cx="1026.1" cy="683.8" r="12.3" fill="#2a7bba" stroke="#050b14" stroke-width="4.1"/>
<circle cx="1016.7" cy="696.7" r="12.3" fill="#2a7bba" stroke="#050b14" stroke-width="4.1"/>
<circle cx="1030.4" cy="745.6" r="12.3" fill="#2a7bba" stroke="#050b14" stroke-width="4.1"/>
<circle cx="1038.1" cy="767.0" r="12.3" fill="#2a7bba" stroke="#050b14" stroke-width="4.1"/>
<circle cx="1128" cy="643.0" r="12.3" fill="#2a7bba" stroke="#050b14" stroke-width="4.1"/>
<circle cx="1134" cy="648.0" r="12.3" fill="#2a7bba" stroke="#050b14" stroke-width="4.1"/>
<circle cx="1138" cy="655.0" r="12.3" fill="#2a7bba" stroke="#050b14" stroke-width="4.1"/>
<circle cx="1148.8" cy="664.8" r="12.3" fill="#2a7bba" stroke="#050b14" stroke-width="4.1"/>
<circle cx="1153" cy="666.5" r="12.3" fill="#2a7bba" stroke="#050b14" stroke-width="4.1"/>
<circle cx="1088.8" cy="664.8" r="12.3" fill="#2a7bba" stroke="#050b14" stroke-width="4.1"/>
<circle cx="1090" cy="665.0" r="12.3" fill="#2a7bba" stroke="#050b14" stroke-width="4.1"/>
<circle cx="1092.2" cy="688.9" r="12.3" fill="#2a7bba" stroke="#050b14" stroke-width="4.1"/>
<circle cx="1081.9" cy="707.8" r="12.3" fill="#2a7bba" stroke="#050b14" stroke-width="4.1"/>
<circle cx="1104.2" cy="713.0" r="12.3" fill="#2a7bba" stroke="#050b14" stroke-width="4.1"/>
<circle cx="1106.5" cy="711.1" r="12.3" fill="#2a7bba" stroke="#050b14" stroke-width="4.1"/>
<circle cx="1116.5" cy="671.5" r="12.3" fill="#2a7bba" stroke="#050b14" stroke-width="4.1"/>
<circle cx="1105.8" cy="679.4" r="12.3" fill="#2a7bba" stroke="#050b14" stroke-width="4.1"/>
<circle cx="1123.6" cy="683.0" r="12.3" fill="#2a7bba" stroke="#050b14" stroke-width="4.1"/>
<circle cx="1091.5" cy="687.2" r="12.3" fill="#2a7bba" stroke="#050b14" stroke-width="4.1"/>
<circle cx="1134.4" cy="687.2" r="12.3" fill="#2a7bba" stroke="#050b14" stroke-width="4.1"/>
<circle cx="1155.8" cy="686.5" r="12.3" fill="#2a7bba" stroke="#050b14" stroke-width="4.1"/>
<circle cx="1116.5" cy="654.0" r="12.3" fill="#2a7bba" stroke="#050b14" stroke-width="4.1"/>
<circle cx="1183.7" cy="663.7" r="12.3" fill="#2a7bba" stroke="#050b14" stroke-width="4.1"/>
<circle cx="1189.3" cy="683.2" r="12.3" fill="#2a7bba" stroke="#050b14" stroke-width="4.1"/>
<circle cx="1198.6" cy="696.2" r="12.3" fill="#2a7bba" stroke="#050b14" stroke-width="4.1"/>
<circle cx="1204.1" cy="707.4" r="12.3" fill="#2a7bba" stroke="#050b14" stroke-width="4.1"/>
<circle cx="1211.6" cy="659.0" r="12.3" fill="#2a7bba" stroke="#050b14" stroke-width="4.1"/>
<circle cx="1233.9" cy="651.6" r="12.3" fill="#2a7bba" stroke="#050b14" stroke-width="4.1"/>
<circle cx="1223.7" cy="648.8" r="12.3" fill="#2a7bba" stroke="#050b14" stroke-width="4.1"/>
<circle cx="1219" cy="677.6" r="12.3" fill="#2a7bba" stroke="#050b14" stroke-width="4.1"/>
<circle cx="1223.7" cy="669.3" r="12.3" fill="#2a7bba" stroke="#050b14" stroke-width="4.1"/>
<circle cx="1246" cy="677.6" r="12.3" fill="#2a7bba" stroke="#050b14" stroke-width="4.1"/>
<circle cx="1230.2" cy="700.0" r="12.3" fill="#2a7bba" stroke="#050b14" stroke-width="4.1"/>
<circle cx="1233" cy="713.0" r="12.3" fill="#2a7bba" stroke="#050b14" stroke-width="4.1"/>
<circle cx="1233" cy="721.8" r="12.3" fill="#2a7bba" stroke="#050b14" stroke-width="4.1"/>
<circle cx="1258.1" cy="700.0" r="12.3" fill="#2a7bba" stroke="#050b14" stroke-width="4.1"/>
<circle cx="1252.5" cy="709.2" r="12.3" fill="#2a7bba" stroke="#050b14" stroke-width="4.1"/>
<circle cx="1261.8" cy="700.5" r="12.3" fill="#2a7bba" stroke="#050b14" stroke-width="4.1"/>
<circle cx="1268.3" cy="566.0" r="12.3" fill="#2a7bba" stroke="#050b14" stroke-width="4.1"/>
<circle cx="1260" cy="577.2" r="12.3" fill="#2a7bba" stroke="#050b14" stroke-width="4.1"/>
<circle cx="1258.1" cy="588.4" r="12.3" fill="#2a7bba" stroke="#050b14" stroke-width="4.1"/>
<circle cx="1279.5" cy="583.7" r="12.3" fill="#2a7bba" stroke="#050b14" stroke-width="4.1"/>
<circle cx="1300.9" cy="697.2" r="12.3" fill="#2a7bba" stroke="#050b14" stroke-width="4.1"/>
<circle cx="1307.4" cy="689.7" r="12.3" fill="#2a7bba" stroke="#050b14" stroke-width="4.1"/>
<circle cx="1143.7" cy="784.2" r="12.3" fill="#2a7bba" stroke="#050b14" stroke-width="4.1"/>
<circle cx="1302.7" cy="788.8" r="12.3" fill="#2a7bba" stroke="#050b14" stroke-width="4.1"/>
<circle cx="1285.5" cy="468.5" r="12.4" fill="#a8cae3" stroke="#050b14" stroke-width="4"/>
<circle cx="1285.5" cy="516.4" r="12.4" fill="#2a7bba" stroke="#050b14" stroke-width="4"/>
<text transform="translate(1318.02,483.10) scale(0.9796,1.0000)" font-family="Liberation Sans" font-weight="normal" font-style="normal" font-size="39.28" fill="#111111">LH</text>
<text transform="translate(1318.02,530.72) scale(0.9796,0.9682)" font-family="Liberation Sans" font-weight="normal" font-style="normal" font-size="39.28" fill="#111111">LGM</text>
<text transform="translate(664.87,498.36) scale(1.0521,1.0000)" font-family="Liberation Sans" font-weight="bold" font-style="normal" font-size="33.88" fill="#000">d</text><clipPath id="clipe"><path d="M825.7,1319.4 L818.0,1317.3 L808.9,1314.2 L798.9,1310.4 L788.2,1305.9 L777.7,1301.1 L768.1,1295.9 L759.3,1290.6 L750.9,1285.1 L742.8,1279.4 L734.9,1273.6 L727.4,1267.6 L720.2,1261.6 L713.4,1255.4 L707.3,1249.2 L701.7,1242.9 L696.3,1236.6 L691.5,1230.2 L687.2,1223.8 L683.3,1217.3 L679.9,1210.9 L677.1,1204.5 L674.8,1198.0 L672.9,1191.6 L671.2,1185.2 L669.7,1178.8 L668.5,1172.3 L667.6,1165.9 L666.9,1159.5 L666.5,1153.0 L666.3,1146.6 L666.5,1140.2 L666.9,1133.7 L667.6,1127.3 L668.5,1120.9 L669.7,1114.4 L671.2,1108.0 L672.9,1101.6 L674.8,1095.2 L677.1,1088.7 L679.9,1082.3 L683.3,1075.9 L687.2,1069.4 L691.5,1063.0 L696.3,1056.6 L701.7,1050.3 L707.3,1044.0 L713.4,1037.8 L720.2,1031.6 L727.4,1025.6 L734.9,1019.6 L742.8,1013.8 L750.9,1008.1 L759.3,1002.6 L768.1,997.3 L777.7,992.1 L788.2,987.3 L798.9,982.8 L808.9,979.0 L818.0,975.9 L825.7,973.8 L1188.5,973.8 L1196.2,975.9 L1205.3,979.0 L1215.3,982.8 L1226.0,987.3 L1236.5,992.1 L1246.1,997.3 L1254.9,1002.6 L1263.3,1008.1 L1271.4,1013.8 L1279.3,1019.6 L1286.8,1025.6 L1294.0,1031.6 L1300.8,1037.8 L1306.9,1044.0 L1312.5,1050.3 L1317.9,1056.6 L1322.7,1063.0 L1327.0,1069.4 L1330.9,1075.9 L1334.3,1082.3 L1337.1,1088.7 L1339.4,1095.2 L1341.3,1101.6 L1343.0,1108.0 L1344.5,1114.4 L1345.7,1120.9 L1346.6,1127.3 L1347.3,1133.7 L1347.7,1140.2 L1347.9,1146.6 L1347.7,1153.0 L1347.3,1159.5 L1346.6,1165.9 L1345.7,1172.3 L1344.5,1178.8 L1343.0,1185.2 L1341.3,1191.6 L1339.4,1198.0 L1337.1,1204.5 L1334.3,1210.9 L1330.9,1217.3 L1327.0,1223.8 L1322.7,1230.2 L1317.9,1236.6 L1312.5,1242.9 L1306.9,1249.2 L1300.8,1255.4 L1294.0,1261.6 L1286.8,1267.6 L1279.3,1273.6 L1271.4,1279.4 L1263.3,1285.1 L1254.9,1290.6 L1246.1,1295.9 L1236.5,1301.1 L1226.0,1305.9 L1215.3,1310.4 L1205.3,1314.2 L1196.2,1317.3 L1188.5,1319.4Z"/></clipPath>
<g clip-path="url(#clipe)">
<g fill="#7a7673" stroke="#000" stroke-width="2.1" stroke-linejoin="round">
<path d="M767.0,1008.9 L778.3,1002.8 L787.5,1000.3 L797.1,998.5 L802.3,999.4 L804.0,1000.1 L810.1,1000.6 L814.6,1001.3 L818.5,1002.6 L823.7,1001.7 L830.2,1000.8 L833.6,1000.3 L837.2,1001.9 L842.9,1001.7 L847.0,1004.4 L854.3,1004.1 L857.2,1003.9 L862.3,1004.4 L867.6,1004.8 L872.5,1003.9 L880.0,997.6 L881.3,999.9 L882.5,1003.5 L885.3,1005.3 L890.8,1001.7 L894.6,1002.1 L892.1,1006.6 L885.1,1007.6 L879.5,1011.5 L873.2,1014.2 L866.3,1017.7 L862.9,1021.6 L863.6,1025.2 L868.2,1026.6 L873.1,1029.0 L877.1,1029.4 L874.9,1033.7 L876.1,1037.2 L878.9,1036.3 L882.0,1030.6 L887.4,1026.6 L888.3,1022.6 L889.7,1018.6 L892.5,1015.1 L899.1,1015.3 L901.3,1016.7 L901.8,1019.2 L902.8,1021.0 L905.4,1020.4 L908.1,1019.6 L909.9,1019.0 L911.2,1024.6 L911.5,1027.6 L915.2,1030.2 L917.5,1032.6 L916.7,1035.7 L913.6,1037.0 L908.6,1039.4 L902.1,1039.4 L896.5,1041.3 L891.0,1045.1 L897.1,1041.7 L900.6,1042.1 L898.7,1044.4 L898.5,1047.6 L902.3,1048.8 L905.9,1048.2 L903.7,1049.9 L899.0,1051.4 L894.2,1053.3 L894.8,1050.1 L892.2,1051.4 L887.4,1053.0 L885.5,1055.2 L886.1,1057.1 L884.1,1057.9 L881.3,1058.6 L878.4,1059.6 L877.7,1061.8 L875.5,1063.5 L873.2,1066.2 L872.5,1067.5 L872.5,1070.9 L870.4,1072.2 L867.3,1073.9 L864.7,1075.4 L861.3,1077.8 L859.5,1080.8 L859.1,1083.2 L860.0,1085.9 L860.3,1089.4 L859.5,1092.4 L857.9,1092.6 L856.9,1090.2 L856.0,1087.0 L856.1,1084.4 L854.4,1082.3 L851.7,1082.3 L849.2,1081.4 L846.4,1081.4 L844.3,1081.9 L844.5,1084.2 L842.1,1084.2 L839.7,1083.2 L836.0,1083.2 L832.9,1084.9 L829.6,1087.2 L828.3,1090.9 L826.7,1095.2 L826.0,1099.4 L826.5,1102.7 L827.8,1105.4 L830.0,1106.9 L832.8,1107.2 L835.6,1106.7 L837.6,1105.9 L838.7,1104.2 L839.3,1101.6 L842.9,1100.5 L845.7,1100.5 L844.4,1104.8 L843.4,1107.4 L841.9,1111.2 L840.9,1112.5 L846.1,1112.7 L849.8,1113.2 L851.0,1114.4 L850.3,1117.7 L849.8,1122.0 L850.7,1124.5 L853.4,1127.7 L856.6,1126.2 L860.0,1126.9 L861.2,1128.8 L860.6,1130.5 L858.9,1129.5 L857.1,1127.7 L855.7,1130.7 L854.2,1129.9 L851.8,1129.0 L849.2,1127.3 L847.3,1125.6 L845.4,1124.5 L845.7,1122.8 L843.7,1119.8 L842.3,1118.3 L839.0,1117.7 L835.6,1116.6 L832.9,1113.8 L830.2,1112.1 L826.4,1113.2 L823.2,1111.9 L820.2,1110.4 L817.1,1108.4 L814.1,1107.4 L812.5,1105.4 L810.9,1102.9 L811.8,1100.3 L811.3,1097.7 L809.7,1095.4 L808.1,1093.0 L806.1,1091.3 L806.4,1089.4 L804.8,1087.0 L803.9,1085.3 L802.7,1083.8 L802.3,1081.7 L802.2,1079.7 L799.7,1078.4 L799.1,1081.4 L800.3,1084.0 L801.0,1086.2 L801.7,1089.2 L802.6,1091.5 L803.0,1094.5 L803.8,1097.3 L803.2,1096.7 L801.0,1093.9 L800.7,1091.7 L799.5,1089.2 L797.8,1087.7 L798.4,1086.2 L797.2,1083.4 L796.2,1080.2 L796.1,1076.9 L796.2,1075.2 L794.8,1073.9 L793.5,1072.9 L791.5,1072.4 L790.8,1068.6 L790.8,1066.2 L790.6,1064.7 L790.6,1061.8 L790.8,1059.8 L792.7,1056.6 L794.0,1053.5 L798.2,1047.8 L799.8,1043.4 L802.2,1043.6 L803.7,1041.7 L802.4,1040.1 L801.6,1038.8 L799.4,1038.0 L799.8,1035.7 L799.8,1032.6 L800.3,1030.2 L800.6,1028.0 L800.4,1025.6 L800.3,1023.2 L798.8,1022.4 L796.9,1022.0 L795.8,1020.0 L793.1,1019.6 L790.1,1019.6 L787.8,1018.3 L783.2,1019.0 L778.3,1020.8 L776.0,1021.2 L779.6,1018.3 L773.3,1021.2 L770.0,1023.2 L764.7,1025.6 L759.8,1027.2 L756.2,1028.4 L752.2,1029.2 L749.0,1030.0 L745.3,1030.8 L749.8,1029.2 L754.7,1027.6 L761.0,1024.0 L765.5,1022.6 L766.1,1022.0 L763.2,1022.0 L759.7,1022.4 L761.9,1019.8 L760.1,1019.0 L759.3,1017.9 L763.1,1015.1 L765.7,1013.6 L768.0,1013.6 L773.1,1011.9 L775.1,1010.6 L770.9,1010.8 L767.8,1010.9 L767.5,1010.2 L767.0,1008.9Z"/>
<path d="M861.2,1128.8 L863.4,1126.9 L864.9,1124.1 L867.4,1122.6 L869.7,1122.2 L872.1,1120.2 L873.1,1121.3 L871.9,1122.8 L872.4,1124.7 L873.3,1125.6 L874.4,1122.4 L875.7,1121.7 L878.5,1123.5 L882.8,1123.9 L886.0,1123.9 L889.4,1123.9 L890.6,1125.0 L892.6,1128.2 L895.1,1130.5 L898.1,1133.1 L901.6,1134.0 L905.0,1134.6 L907.8,1135.9 L909.7,1137.6 L910.6,1140.2 L912.5,1143.0 L911.9,1145.3 L913.4,1147.2 L915.3,1148.7 L918.1,1148.1 L921.9,1149.8 L923.5,1152.2 L927.1,1152.6 L929.9,1152.8 L933.3,1154.7 L936.2,1156.9 L940.0,1157.7 L941.2,1161.6 L940.9,1165.5 L939.3,1168.5 L937.1,1171.0 L934.8,1174.5 L934.0,1177.9 L934.3,1181.5 L933.7,1184.8 L933.0,1188.6 L931.9,1191.6 L931.1,1193.8 L929.4,1195.7 L926.6,1195.9 L924.0,1197.2 L921.1,1198.5 L918.8,1201.3 L918.0,1204.0 L918.1,1207.3 L916.8,1209.8 L915.5,1212.6 L913.9,1215.2 L912.8,1218.0 L911.2,1219.5 L909.4,1221.4 L906.8,1221.4 L904.6,1220.3 L902.5,1219.7 L905.1,1222.3 L905.3,1224.2 L906.5,1224.8 L905.8,1228.0 L903.4,1229.3 L899.2,1230.0 L898.0,1230.8 L898.7,1233.6 L894.5,1234.0 L896.6,1235.5 L895.3,1237.0 L897.6,1238.2 L895.7,1239.3 L896.0,1242.9 L893.4,1244.4 L893.6,1246.0 L896.3,1247.7 L897.3,1249.2 L895.4,1252.1 L894.4,1254.4 L894.9,1256.9 L896.6,1258.1 L894.3,1258.7 L895.6,1259.1 L897.5,1259.9 L900.2,1262.2 L903.7,1263.2 L902.1,1264.0 L899.0,1264.4 L895.6,1263.6 L892.6,1262.2 L889.0,1259.5 L886.6,1257.9 L883.8,1254.4 L881.9,1250.7 L880.7,1247.1 L881.6,1245.4 L881.6,1243.9 L881.1,1240.8 L881.8,1238.7 L880.2,1237.6 L879.0,1235.5 L878.9,1232.3 L877.8,1228.7 L877.0,1226.3 L877.6,1222.7 L877.9,1218.6 L878.2,1215.8 L877.2,1212.0 L876.8,1208.3 L877.2,1204.9 L877.2,1201.3 L876.8,1197.0 L877.0,1192.3 L876.4,1188.4 L875.6,1185.6 L873.5,1183.7 L870.6,1182.0 L867.6,1180.0 L864.7,1177.5 L863.8,1175.1 L861.9,1172.3 L860.2,1169.1 L858.0,1164.8 L856.0,1162.0 L853.7,1159.5 L853.6,1156.9 L855.2,1154.1 L856.1,1152.0 L854.6,1151.5 L854.0,1148.7 L855.5,1145.7 L856.0,1144.5 L857.8,1143.4 L858.4,1141.2 L860.3,1138.9 L860.9,1136.3 L860.7,1132.7 L860.0,1131.2 L861.2,1128.8Z"/>
<path d="M918.6,986.9 L923.1,986.0 L929.7,983.9 L936.3,981.7 L944.8,981.1 L956.3,980.8 L968.3,979.6 L977.1,979.7 L984.5,980.8 L993.4,982.0 L988.4,983.8 L985.4,986.5 L983.5,989.2 L983.5,992.1 L980.3,995.2 L977.7,998.1 L976.6,1000.3 L971.1,1003.3 L965.7,1004.1 L961.8,1004.6 L957.4,1007.6 L952.0,1009.1 L949.3,1010.9 L947.2,1013.8 L943.8,1016.7 L941.3,1019.6 L938.6,1018.6 L935.2,1017.7 L934.1,1014.8 L933.6,1012.3 L932.3,1010.0 L931.4,1007.2 L932.6,1004.4 L935.9,1003.3 L937.5,1001.2 L935.7,1000.8 L933.6,999.6 L933.6,998.1 L934.2,995.9 L933.3,993.0 L933.1,991.3 L930.7,990.1 L924.4,990.3 L921.5,990.0 L919.1,988.4 L918.6,986.9Z"/>
<path d="M997.1,1069.4 L995.9,1068.4 L993.8,1066.9 L991.3,1067.3 L991.6,1064.5 L990.4,1063.5 L991.6,1060.5 L991.9,1057.7 L991.3,1054.5 L993.4,1053.0 L997.7,1053.5 L1002.0,1053.7 L1004.0,1053.7 L1004.9,1051.8 L1005.1,1048.2 L1003.4,1045.7 L1001.3,1044.6 L999.4,1044.0 L999.6,1042.8 L1002.1,1042.3 L1004.4,1042.5 L1004.6,1040.5 L1007.4,1040.9 L1009.4,1039.6 L1009.7,1038.0 L1011.2,1037.6 L1012.8,1036.7 L1013.9,1035.7 L1014.7,1033.9 L1015.9,1033.1 L1018.3,1032.4 L1020.7,1032.4 L1021.1,1031.0 L1020.5,1029.0 L1019.7,1026.6 L1020.3,1025.4 L1023.3,1024.2 L1023.4,1027.0 L1024.1,1026.8 L1022.9,1029.4 L1024.3,1030.8 L1027.0,1030.8 L1029.1,1031.4 L1030.2,1031.8 L1033.3,1030.6 L1036.4,1030.0 L1038.6,1030.8 L1040.6,1029.2 L1039.9,1026.8 L1040.5,1024.8 L1042.0,1024.4 L1044.1,1025.6 L1045.0,1025.2 L1044.3,1023.0 L1043.1,1022.4 L1042.9,1021.2 L1045.1,1020.6 L1049.6,1020.6 L1052.5,1019.8 L1050.9,1019.2 L1048.5,1018.6 L1045.5,1019.0 L1041.9,1019.8 L1039.4,1018.4 L1038.9,1016.1 L1038.1,1014.2 L1039.7,1012.8 L1041.2,1011.5 L1043.1,1010.2 L1043.5,1009.4 L1042.0,1008.5 L1039.3,1008.5 L1037.8,1010.2 L1038.0,1011.5 L1036.3,1012.7 L1034.3,1013.8 L1033.2,1015.0 L1033.0,1017.3 L1033.1,1018.4 L1035.2,1019.2 L1035.7,1020.6 L1033.9,1022.0 L1032.7,1024.0 L1032.7,1026.4 L1032.2,1027.4 L1030.0,1027.6 L1029.5,1028.8 L1027.4,1028.8 L1026.7,1027.2 L1027.1,1026.4 L1025.5,1024.4 L1024.2,1022.2 L1023.2,1021.2 L1022.7,1020.2 L1021.9,1021.6 L1019.9,1023.2 L1017.9,1023.6 L1016.3,1023.2 L1015.5,1022.0 L1015.0,1020.4 L1014.6,1018.6 L1014.7,1017.1 L1014.8,1015.7 L1016.4,1014.8 L1018.1,1013.8 L1019.5,1012.8 L1021.6,1011.9 L1022.7,1010.4 L1024.3,1009.2 L1025.3,1007.9 L1026.2,1006.3 L1027.8,1004.8 L1028.7,1003.7 L1030.3,1003.0 L1032.0,1001.7 L1033.7,1001.2 L1036.0,1000.4 L1038.2,999.9 L1040.7,999.2 L1042.7,999.0 L1045.2,999.2 L1047.4,999.9 L1049.2,1000.4 L1050.7,1001.2 L1053.1,1002.1 L1055.9,1002.2 L1058.9,1003.1 L1062.9,1004.8 L1064.6,1005.7 L1065.3,1006.8 L1064.0,1007.9 L1061.8,1007.9 L1057.9,1006.8 L1055.8,1007.4 L1054.0,1007.0 L1052.8,1007.2 L1056.5,1009.2 L1057.5,1011.1 L1060.2,1012.1 L1061.1,1011.1 L1060.3,1009.8 L1062.6,1010.4 L1064.9,1010.9 L1065.4,1010.0 L1066.7,1007.6 L1069.0,1007.6 L1069.5,1006.6 L1068.3,1005.0 L1068.4,1003.9 L1070.9,1003.9 L1072.4,1004.8 L1070.9,1005.3 L1072.6,1006.4 L1074.6,1006.1 L1076.8,1004.6 L1080.6,1003.7 L1081.2,1002.8 L1084.6,1003.5 L1087.1,1003.0 L1089.6,1003.7 L1090.5,1002.8 L1089.3,1001.2 L1091.1,1001.3 L1094.9,1002.1 L1098.0,1002.6 L1100.7,1003.3 L1102.3,1004.1 L1102.8,1003.1 L1100.2,1001.3 L1097.3,999.2 L1096.5,997.3 L1097.0,995.7 L1097.6,994.7 L1100.6,995.2 L1102.9,996.1 L1103.7,998.1 L1105.6,999.9 L1107.0,1002.6 L1109.0,1003.7 L1109.8,1005.5 L1109.5,1007.0 L1111.1,1005.9 L1111.3,1004.1 L1110.1,1002.6 L1107.9,1001.3 L1107.2,999.6 L1104.9,998.3 L1106.2,996.9 L1106.6,996.2 L1108.2,998.1 L1109.6,997.6 L1110.9,996.7 L1113.3,996.2 L1111.9,994.5 L1114.7,994.2 L1119.5,994.0 L1117.7,992.6 L1118.2,991.8 L1120.8,991.1 L1123.9,990.5 L1127.9,990.1 L1130.2,989.7 L1132.7,989.7 L1131.6,988.0 L1134.8,987.7 L1137.6,988.2 L1136.4,988.7 L1140.8,989.7 L1145.0,989.3 L1148.9,990.1 L1151.3,991.5 L1151.3,992.8 L1149.4,993.3 L1149.2,994.2 L1151.9,994.3 L1155.1,994.9 L1157.9,994.5 L1161.5,994.5 L1167.6,995.5 L1172.3,994.7 L1175.5,995.5 L1178.6,996.9 L1178.1,997.6 L1181.0,998.7 L1183.8,999.2 L1183.5,998.0 L1186.1,998.1 L1188.6,998.0 L1192.8,998.1 L1192.0,996.7 L1193.0,995.9 L1196.8,996.2 L1204.4,996.9 L1208.3,998.0 L1212.4,999.2 L1215.5,999.0 L1219.8,999.2 L1223.2,999.9 L1226.5,1001.5 L1229.7,1001.3 L1232.7,1001.5 L1235.5,1001.2 L1241.0,1003.0 L1239.8,1001.2 L1243.7,1001.2 L1247.1,1001.2 L1251.8,1001.9 L1255.2,1002.8 L1265.7,1009.8 L1265.1,1010.8 L1262.9,1010.6 L1262.8,1011.5 L1269.2,1014.0 L1272.1,1015.1 L1268.7,1014.8 L1266.4,1016.1 L1265.4,1016.5 L1265.0,1017.7 L1264.3,1019.0 L1264.3,1020.0 L1261.0,1018.6 L1258.9,1020.0 L1256.4,1019.6 L1254.5,1019.8 L1256.3,1021.4 L1256.6,1023.6 L1257.8,1024.4 L1259.4,1024.4 L1262.2,1027.2 L1261.0,1027.4 L1262.1,1029.0 L1263.6,1029.8 L1262.0,1031.0 L1262.8,1033.1 L1261.8,1033.9 L1263.5,1035.9 L1262.9,1037.8 L1260.9,1036.3 L1257.6,1033.5 L1252.0,1028.8 L1249.8,1026.0 L1249.9,1024.8 L1249.0,1024.0 L1250.9,1023.4 L1250.9,1021.0 L1251.2,1019.0 L1252.0,1017.5 L1249.6,1014.6 L1248.1,1014.8 L1248.1,1016.3 L1245.9,1016.9 L1243.8,1016.1 L1240.9,1016.9 L1240.7,1020.0 L1243.4,1021.4 L1240.5,1021.8 L1238.4,1022.0 L1236.9,1020.6 L1234.2,1020.2 L1233.3,1021.2 L1228.5,1021.0 L1224.1,1021.6 L1223.3,1023.2 L1223.0,1026.0 L1222.5,1028.0 L1221.2,1030.2 L1223.9,1030.4 L1226.5,1031.8 L1227.8,1031.0 L1229.7,1031.2 L1234.0,1033.5 L1235.7,1035.3 L1236.1,1037.4 L1238.0,1039.8 L1239.8,1043.2 L1239.4,1046.1 L1239.8,1047.6 L1239.3,1050.1 L1238.5,1052.6 L1238.2,1053.7 L1236.6,1055.0 L1235.5,1055.0 L1233.8,1053.9 L1232.3,1055.4 L1231.9,1056.0 L1231.3,1057.5 L1232.4,1059.0 L1231.3,1060.5 L1229.8,1061.3 L1230.4,1062.4 L1232.5,1063.9 L1235.4,1066.4 L1236.5,1067.7 L1237.5,1070.3 L1237.3,1071.4 L1234.9,1072.7 L1233.4,1072.9 L1232.8,1071.8 L1232.4,1070.1 L1230.6,1067.9 L1231.8,1067.5 L1229.8,1065.8 L1228.7,1065.4 L1226.7,1065.0 L1227.0,1063.7 L1225.8,1061.8 L1224.0,1060.9 L1222.0,1061.8 L1221.0,1062.6 L1219.6,1063.2 L1219.9,1062.2 L1218.9,1060.9 L1220.0,1059.8 L1218.3,1059.0 L1217.2,1059.6 L1215.9,1061.1 L1215.5,1062.4 L1213.8,1062.6 L1213.4,1063.7 L1215.1,1065.0 L1217.0,1066.4 L1218.8,1066.9 L1220.1,1065.6 L1222.0,1066.2 L1223.2,1066.2 L1224.0,1067.5 L1221.7,1067.9 L1221.4,1069.2 L1220.2,1070.3 L1219.9,1071.8 L1222.2,1072.9 L1223.7,1075.0 L1225.5,1076.9 L1227.4,1078.7 L1228.0,1080.4 L1227.1,1080.8 L1227.9,1082.1 L1229.2,1082.7 L1229.5,1086.2 L1228.5,1086.4 L1227.8,1088.5 L1227.1,1091.5 L1226.0,1094.1 L1223.8,1096.0 L1221.6,1097.7 L1219.6,1097.9 L1218.7,1099.0 L1217.8,1098.4 L1216.8,1099.2 L1214.4,1100.3 L1212.7,1100.7 L1212.3,1103.1 L1211.4,1103.1 L1210.6,1101.6 L1211.0,1100.7 L1208.3,1100.1 L1207.4,1100.3 L1205.3,1102.2 L1204.1,1104.2 L1204.0,1105.7 L1205.6,1108.0 L1207.9,1110.8 L1209.8,1112.3 L1211.1,1113.8 L1212.4,1117.9 L1212.6,1121.5 L1211.2,1123.0 L1209.1,1124.3 L1207.7,1126.2 L1205.6,1128.2 L1204.7,1126.9 L1205.2,1125.4 L1203.6,1124.1 L1202.1,1123.9 L1201.2,1122.6 L1200.1,1120.5 L1198.3,1119.6 L1196.6,1119.6 L1196.6,1117.9 L1195.1,1117.9 L1195.2,1120.2 L1194.0,1124.5 L1194.2,1126.9 L1195.5,1126.9 L1196.4,1128.8 L1196.9,1130.7 L1197.9,1131.8 L1199.0,1132.2 L1200.0,1133.3 L1200.6,1133.5 L1201.8,1134.8 L1202.6,1136.1 L1202.7,1138.0 L1202.5,1138.7 L1202.9,1140.6 L1203.7,1141.2 L1204.3,1143.2 L1204.3,1143.8 L1203.0,1144.0 L1201.3,1142.3 L1199.0,1140.6 L1198.8,1139.5 L1197.6,1138.2 L1197.3,1136.3 L1196.5,1135.2 L1196.6,1133.7 L1196.2,1132.7 L1195.4,1132.0 L1195.0,1131.0 L1193.0,1128.6 L1192.7,1129.9 L1192.4,1128.6 L1192.4,1126.5 L1192.9,1124.7 L1192.5,1122.2 L1192.4,1120.9 L1192.2,1118.5 L1191.3,1117.5 L1190.5,1114.9 L1189.8,1112.1 L1188.8,1110.4 L1187.6,1111.4 L1185.7,1112.9 L1184.6,1112.7 L1183.4,1112.3 L1183.6,1109.5 L1183.0,1107.6 L1181.2,1105.0 L1181.4,1104.4 L1180.3,1103.9 L1178.7,1102.2 L1178.0,1101.2 L1177.7,1100.1 L1176.2,1097.7 L1174.6,1097.7 L1174.5,1099.9 L1173.5,1099.4 L1172.2,1099.7 L1171.9,1100.1 L1170.6,1100.1 L1168.3,1100.7 L1168.7,1102.2 L1167.9,1103.3 L1165.5,1104.8 L1163.9,1107.4 L1160.7,1110.2 L1160.8,1111.0 L1160.0,1111.7 L1158.4,1112.5 L1157.4,1112.5 L1157.2,1114.2 L1157.7,1117.0 L1158.0,1118.7 L1157.4,1120.7 L1157.6,1124.3 L1156.5,1124.5 L1155.9,1126.2 L1156.5,1126.9 L1154.8,1127.5 L1154.1,1128.8 L1153.4,1129.5 L1151.6,1127.5 L1150.5,1124.5 L1149.6,1122.4 L1149.0,1121.3 L1147.9,1119.4 L1147.1,1116.6 L1146.6,1115.3 L1144.7,1112.3 L1143.5,1108.2 L1142.7,1105.4 L1142.4,1102.9 L1141.8,1100.7 L1139.3,1102.0 L1138.0,1101.8 L1135.3,1099.2 L1136.0,1098.4 L1135.3,1097.7 L1133.1,1095.8 L1131.6,1095.4 L1130.8,1093.7 L1129.3,1092.2 L1125.9,1092.6 L1122.9,1092.6 L1120.4,1092.8 L1116.8,1092.2 L1114.7,1091.7 L1112.7,1091.5 L1111.6,1088.8 L1110.7,1088.5 L1109.2,1088.8 L1107.5,1089.8 L1105.2,1089.2 L1103.2,1087.4 L1101.3,1086.8 L1099.8,1084.9 L1098.1,1082.1 L1097.3,1082.3 L1095.9,1081.7 L1095.5,1082.5 L1094.3,1082.3 L1094.5,1083.4 L1095.0,1084.7 L1096.4,1087.2 L1097.4,1087.7 L1097.8,1088.5 L1099.2,1089.4 L1099.2,1090.9 L1099.5,1091.7 L1100.1,1092.4 L1100.7,1093.4 L1101.0,1090.7 L1102.0,1091.3 L1102.1,1092.6 L1101.9,1093.9 L1102.3,1094.7 L1103.1,1095.2 L1105.6,1094.7 L1106.8,1094.9 L1107.9,1093.4 L1109.1,1092.2 L1110.2,1090.7 L1110.7,1090.0 L1110.9,1090.2 L1110.9,1092.2 L1111.0,1093.2 L1113.1,1095.4 L1114.4,1095.8 L1115.6,1096.0 L1117.2,1097.9 L1117.8,1098.4 L1117.9,1098.8 L1117.1,1100.7 L1116.4,1101.4 L1115.8,1102.9 L1114.9,1102.7 L1114.6,1103.3 L1114.5,1104.4 L1114.8,1105.7 L1114.6,1106.1 L1113.7,1106.1 L1112.6,1106.7 L1112.5,1107.8 L1112.2,1108.2 L1111.0,1108.2 L1110.4,1108.9 L1110.4,1109.7 L1109.5,1110.3 L1108.4,1110.2 L1107.3,1110.8 L1106.4,1110.8 L1105.1,1111.4 L1104.8,1112.5 L1104.9,1113.2 L1103.0,1114.0 L1100.1,1115.1 L1099.0,1115.5 L1098.5,1116.6 L1097.6,1116.8 L1097.0,1116.6 L1096.1,1117.5 L1094.8,1117.9 L1093.3,1118.1 L1092.8,1118.1 L1092.4,1118.7 L1091.9,1118.8 L1091.7,1119.4 L1090.7,1119.4 L1090.2,1119.6 L1088.9,1119.6 L1088.3,1118.3 L1088.4,1117.0 L1088.0,1116.4 L1087.5,1114.9 L1086.9,1114.0 L1087.3,1113.8 L1087.1,1112.9 L1087.2,1112.5 L1087.2,1111.7 L1086.7,1110.6 L1086.1,1109.9 L1086.1,1109.1 L1085.1,1108.4 L1083.9,1106.5 L1083.2,1104.8 L1081.8,1103.3 L1081.1,1103.1 L1079.6,1100.9 L1079.4,1099.5 L1079.5,1098.2 L1078.2,1095.8 L1077.2,1094.9 L1076.3,1094.5 L1075.6,1093.2 L1075.6,1092.8 L1075.0,1091.7 L1074.4,1091.3 L1073.5,1089.6 L1072.3,1087.9 L1071.3,1086.4 L1070.3,1086.4 L1070.6,1085.3 L1070.7,1083.6 L1070.2,1084.9 L1069.7,1087.0 L1068.6,1086.8 L1066.0,1082.5 L1065.6,1079.5 L1069.2,1079.7 L1069.7,1078.9 L1069.9,1076.3 L1070.2,1075.7 L1070.7,1073.9 L1071.4,1072.4 L1071.1,1070.7 L1071.5,1069.9 L1071.1,1067.9 L1070.2,1068.2 L1068.6,1067.7 L1067.5,1069.0 L1064.8,1069.2 L1063.3,1068.2 L1061.3,1067.9 L1061.1,1068.8 L1059.9,1069.2 L1058.0,1067.9 L1056.0,1067.9 L1054.7,1065.8 L1053.4,1064.7 L1054.1,1063.0 L1052.9,1062.0 L1052.6,1060.5 L1053.1,1060.5 L1052.4,1059.2 L1051.2,1059.0 L1050.3,1059.0 L1048.3,1059.4 L1049.7,1060.7 L1048.8,1061.0 L1047.8,1061.0 L1046.8,1059.8 L1046.5,1060.3 L1046.9,1061.5 L1048.1,1062.6 L1047.4,1063.1 L1048.4,1064.1 L1049.3,1064.7 L1049.5,1065.8 L1047.8,1065.4 L1048.4,1066.4 L1047.4,1066.7 L1048.3,1068.6 L1047.0,1068.6 L1045.5,1067.7 L1044.7,1066.0 L1044.2,1064.5 L1043.4,1063.5 L1042.5,1062.4 L1042.4,1061.8 L1042.0,1061.5 L1041.9,1060.7 L1040.9,1060.3 L1040.7,1059.4 L1040.7,1057.9 L1040.8,1057.3 L1039.7,1056.0 L1039.0,1055.6 L1037.2,1055.0 L1036.1,1054.1 L1034.5,1053.5 L1033.0,1052.0 L1033.3,1051.8 L1032.4,1050.9 L1032.4,1050.1 L1031.3,1049.9 L1030.8,1050.7 L1030.3,1050.1 L1030.3,1049.3 L1030.6,1049.0 L1029.2,1048.8 L1027.9,1049.5 L1028.2,1050.5 L1028.0,1051.1 L1028.6,1052.2 L1030.2,1053.3 L1031.2,1055.0 L1033.2,1056.6 L1034.6,1056.7 L1035.1,1057.3 L1034.6,1057.7 L1037.5,1059.0 L1039.1,1060.0 L1039.3,1060.5 L1039.1,1061.3 L1037.9,1060.3 L1036.5,1060.0 L1035.7,1061.3 L1037.2,1062.2 L1037.1,1063.2 L1036.2,1063.5 L1035.5,1065.2 L1034.8,1065.4 L1034.7,1064.7 L1035.0,1063.5 L1035.3,1063.0 L1034.5,1060.9 L1033.2,1060.5 L1031.6,1059.2 L1030.7,1058.3 L1029.5,1058.1 L1028.0,1057.3 L1026.4,1055.8 L1025.1,1054.7 L1024.5,1052.6 L1023.7,1052.4 L1022.3,1051.6 L1021.4,1052.0 L1020.6,1052.8 L1019.8,1053.0 L1018.3,1054.3 L1015.0,1053.7 L1012.4,1054.3 L1012.2,1055.6 L1012.3,1056.9 L1010.7,1058.3 L1008.5,1058.8 L1008.3,1059.4 L1007.3,1060.7 L1006.6,1062.4 L1007.3,1063.7 L1006.2,1064.5 L1005.9,1066.0 L1004.6,1066.4 L1003.4,1067.9 L999.3,1067.9 L998.2,1068.8 L997.5,1069.7 L997.1,1069.4Z"/>
<path d="M996.6,1069.9 L997.8,1069.9 L998.9,1070.9 L1000.7,1070.7 L1002.5,1071.2 L1003.2,1071.2 L1005.0,1070.1 L1006.9,1069.7 L1008.0,1068.8 L1009.8,1068.2 L1012.8,1067.7 L1015.6,1067.5 L1016.5,1067.9 L1018.2,1067.1 L1020.0,1067.1 L1020.7,1067.5 L1022.0,1067.5 L1023.9,1066.7 L1025.1,1066.9 L1025.2,1067.9 L1026.6,1067.1 L1026.8,1067.5 L1025.9,1068.6 L1025.9,1069.7 L1026.5,1070.1 L1026.4,1072.0 L1025.2,1073.1 L1025.6,1074.2 L1026.6,1074.2 L1027.0,1075.2 L1027.8,1075.7 L1030.0,1076.3 L1030.7,1076.1 L1032.1,1076.5 L1034.5,1077.4 L1035.5,1079.3 L1037.2,1079.7 L1039.7,1080.6 L1041.8,1081.7 L1042.7,1081.2 L1043.5,1080.2 L1042.9,1078.4 L1043.4,1077.6 L1044.7,1076.5 L1045.8,1076.3 L1048.4,1076.7 L1049.0,1077.6 L1049.7,1077.6 L1050.4,1078.0 L1052.1,1078.2 L1052.7,1078.9 L1055.0,1078.9 L1056.9,1079.5 L1058.7,1080.2 L1059.5,1080.4 L1060.9,1079.7 L1061.5,1079.1 L1063.1,1078.9 L1064.5,1079.3 L1065.1,1080.4 L1065.4,1079.5 L1066.9,1080.1 L1068.3,1080.2 L1069.2,1079.7 L1070.2,1084.2 L1069.9,1085.9 L1069.7,1087.0 L1069.2,1087.4 L1067.6,1085.7 L1066.0,1082.5 L1065.8,1082.7 L1066.8,1085.1 L1068.0,1087.2 L1069.8,1090.7 L1070.6,1091.7 L1071.2,1093.0 L1073.0,1095.4 L1072.7,1095.6 L1072.8,1097.1 L1075.1,1099.0 L1075.5,1099.5 L1076.2,1101.6 L1076.1,1104.2 L1077.0,1106.7 L1077.8,1107.2 L1078.8,1108.0 L1080.0,1110.6 L1080.7,1112.5 L1081.7,1113.6 L1084.4,1115.5 L1085.4,1116.8 L1086.6,1118.1 L1087.1,1118.8 L1088.1,1119.4 L1088.5,1120.0 L1088.6,1120.9 L1087.4,1121.5 L1088.2,1122.0 L1089.0,1122.4 L1089.4,1123.2 L1090.2,1124.3 L1091.1,1124.3 L1093.0,1123.7 L1094.9,1123.5 L1096.5,1122.8 L1097.5,1122.6 L1098.2,1122.2 L1099.1,1122.2 L1099.9,1122.2 L1100.6,1121.7 L1101.7,1121.5 L1102.5,1120.9 L1103.2,1120.9 L1103.3,1121.5 L1103.2,1123.9 L1102.8,1124.5 L1102.5,1126.9 L1101.7,1129.2 L1100.6,1132.0 L1099.0,1135.2 L1097.3,1137.6 L1095.3,1140.4 L1093.4,1142.2 L1090.6,1144.3 L1088.7,1146.0 L1086.6,1148.5 L1085.7,1150.2 L1084.5,1151.1 L1083.9,1152.0 L1083.4,1152.2 L1083.0,1153.7 L1082.4,1154.5 L1082.0,1155.8 L1081.2,1156.7 L1080.2,1159.2 L1080.4,1160.5 L1081.5,1161.2 L1081.7,1161.8 L1081.1,1163.1 L1081.3,1163.7 L1081.1,1164.8 L1081.6,1166.1 L1082.3,1168.2 L1083.0,1168.7 L1083.4,1169.7 L1083.1,1171.9 L1083.4,1173.6 L1083.3,1177.0 L1083.6,1178.1 L1083.0,1179.6 L1082.1,1181.1 L1081.0,1182.4 L1079.0,1183.3 L1076.9,1184.3 L1074.8,1186.7 L1074.0,1186.9 L1072.6,1188.6 L1071.8,1189.0 L1071.6,1190.5 L1072.4,1192.3 L1072.7,1193.3 L1072.7,1194.0 L1073.1,1194.0 L1072.8,1196.1 L1072.5,1197.0 L1072.9,1197.4 L1072.6,1198.3 L1071.7,1199.1 L1070.1,1199.8 L1067.8,1201.0 L1067.1,1201.7 L1067.2,1202.5 L1067.5,1202.8 L1067.3,1203.8 L1066.8,1205.5 L1066.5,1207.3 L1065.8,1208.3 L1064.5,1209.4 L1064.1,1209.6 L1063.3,1210.7 L1062.6,1211.8 L1061.6,1213.3 L1059.2,1215.6 L1057.9,1216.9 L1056.5,1217.8 L1054.5,1218.6 L1053.6,1218.8 L1053.4,1219.3 L1052.3,1219.0 L1051.4,1219.5 L1049.4,1219.0 L1048.3,1219.3 L1047.6,1219.3 L1045.6,1220.1 L1044.1,1220.3 L1043.0,1221.2 L1042.1,1221.2 L1041.4,1220.5 L1040.9,1220.3 L1040.1,1219.5 L1040.1,1219.7 L1039.7,1219.3 L1040.0,1218.0 L1039.3,1216.5 L1039.9,1216.0 L1040.0,1214.5 L1039.0,1212.4 L1038.2,1210.7 L1038.2,1210.7 L1036.9,1207.9 L1035.6,1206.2 L1035.0,1204.7 L1034.2,1201.0 L1033.7,1197.8 L1033.8,1195.3 L1033.6,1194.0 L1032.9,1193.1 L1032.0,1191.4 L1030.9,1188.8 L1030.6,1187.3 L1029.1,1185.4 L1029.0,1183.7 L1028.8,1182.4 L1029.2,1180.5 L1029.8,1178.5 L1030.0,1177.5 L1030.6,1175.5 L1031.0,1174.7 L1032.1,1173.4 L1032.7,1172.3 L1032.9,1170.8 L1032.9,1169.5 L1032.3,1168.9 L1031.8,1167.6 L1031.4,1166.3 L1031.4,1165.8 L1032.0,1165.0 L1031.1,1161.4 L1030.2,1160.1 L1030.3,1159.7 L1030.2,1159.0 L1029.6,1157.3 L1028.1,1155.1 L1026.2,1153.0 L1024.9,1151.1 L1023.8,1149.0 L1023.8,1148.3 L1024.1,1147.7 L1024.7,1146.0 L1025.1,1144.5 L1024.7,1144.0 L1025.3,1141.7 L1025.6,1140.0 L1024.9,1138.7 L1023.9,1138.2 L1023.6,1137.2 L1023.2,1137.0 L1023.2,1136.3 L1021.3,1137.2 L1020.5,1137.0 L1019.8,1137.6 L1018.3,1137.4 L1017.3,1136.1 L1016.6,1134.6 L1015.2,1133.1 L1013.9,1133.1 L1012.2,1133.1 L1010.7,1133.5 L1009.2,1134.0 L1006.2,1135.2 L1005.0,1135.9 L1003.4,1136.5 L1001.6,1135.9 L1000.9,1135.9 L999.5,1135.5 L998.4,1135.5 L996.1,1135.9 L994.8,1136.5 L992.9,1137.4 L992.5,1137.2 L992.0,1137.2 L990.1,1136.3 L988.4,1134.6 L986.7,1133.5 L985.6,1132.0 L985.0,1131.8 L983.7,1131.0 L982.7,1129.9 L982.4,1129.0 L982.2,1127.5 L981.3,1126.2 L980.5,1125.4 L979.6,1124.7 L979.4,1123.7 L979.2,1123.2 L978.7,1123.0 L977.6,1122.0 L976.8,1122.0 L976.4,1121.3 L975.9,1120.5 L975.7,1120.0 L975.5,1118.3 L975.7,1117.5 L975.0,1115.7 L974.1,1115.1 L974.9,1114.7 L975.8,1113.2 L976.2,1112.1 L977.0,1111.2 L977.0,1110.2 L976.9,1107.8 L976.7,1105.7 L976.6,1104.6 L976.8,1103.5 L976.4,1102.4 L975.4,1101.6 L975.6,1100.7 L975.6,1099.7 L976.3,1099.0 L976.9,1097.9 L976.9,1097.3 L977.6,1095.8 L978.7,1094.3 L979.3,1094.1 L979.8,1092.8 L980.7,1090.2 L981.8,1089.6 L983.1,1087.2 L984.1,1086.6 L985.7,1086.4 L987.2,1084.9 L988.1,1084.2 L989.6,1082.5 L989.4,1079.7 L990.1,1078.0 L990.3,1076.7 L991.5,1075.4 L993.3,1074.4 L994.7,1073.5 L996.0,1071.4 L996.6,1069.9Z"/>
<path d="M1100.2,1173.4 L1101.2,1175.7 L1101.7,1179.2 L1101.1,1180.9 L1100.2,1182.8 L1099.6,1183.3 L1099.3,1185.2 L1097.2,1190.5 L1095.8,1194.6 L1094.8,1198.0 L1093.9,1200.0 L1092.4,1200.6 L1090.6,1201.5 L1089.6,1200.8 L1088.2,1200.2 L1087.9,1199.1 L1087.8,1197.2 L1087.2,1195.5 L1087.3,1194.0 L1087.6,1192.3 L1088.6,1192.0 L1089.7,1189.7 L1089.9,1188.2 L1089.4,1187.2 L1089.2,1185.8 L1089.3,1183.9 L1089.9,1182.8 L1090.2,1181.3 L1091.1,1181.3 L1092.3,1180.8 L1093.0,1180.5 L1093.8,1180.5 L1095.0,1179.2 L1096.6,1177.9 L1097.2,1176.8 L1097.0,1176.0 L1097.8,1176.2 L1098.8,1174.7 L1099.0,1173.4 L1099.6,1172.4 L1100.2,1173.4Z"/>
<path d="M1217.4,1193.8 L1217.6,1196.1 L1216.8,1198.9 L1216.8,1203.0 L1216.7,1205.5 L1216.5,1209.8 L1215.6,1214.1 L1215.0,1218.0 L1213.0,1219.9 L1214.2,1221.4 L1217.4,1221.8 L1221.3,1219.9 L1225.0,1219.0 L1228.7,1219.3 L1230.5,1217.3 L1232.4,1216.7 L1236.1,1215.8 L1240.3,1214.3 L1244.6,1214.1 L1246.5,1215.2 L1249.0,1216.5 L1249.0,1217.8 L1248.9,1220.5 L1249.8,1221.4 L1251.4,1219.7 L1254.3,1217.5 L1254.6,1218.6 L1253.2,1221.4 L1254.5,1221.6 L1253.3,1222.9 L1255.1,1224.0 L1254.2,1226.5 L1254.8,1228.0 L1256.4,1228.7 L1258.5,1229.7 L1261.6,1228.2 L1262.9,1228.5 L1263.6,1230.2 L1266.4,1228.5 L1269.0,1227.6 L1271.8,1227.0 L1273.4,1224.6 L1275.9,1222.0 L1278.4,1219.0 L1280.3,1217.3 L1283.5,1214.3 L1285.0,1211.8 L1287.6,1207.5 L1287.6,1205.1 L1288.4,1202.5 L1287.9,1200.6 L1286.9,1198.3 L1286.2,1194.6 L1284.4,1194.4 L1283.6,1190.3 L1281.4,1188.4 L1279.9,1187.1 L1279.7,1184.3 L1279.1,1181.5 L1279.3,1179.6 L1278.5,1177.9 L1276.5,1177.0 L1276.8,1173.0 L1275.5,1169.5 L1274.6,1170.8 L1273.4,1174.2 L1272.8,1176.0 L1272.5,1179.0 L1271.0,1181.8 L1269.6,1184.3 L1267.3,1183.9 L1265.5,1182.6 L1263.6,1180.7 L1261.1,1178.8 L1261.0,1178.1 L1263.1,1175.1 L1264.2,1173.0 L1263.5,1172.1 L1262.7,1172.3 L1261.6,1172.7 L1259.0,1171.9 L1256.6,1171.5 L1256.0,1173.4 L1253.9,1172.7 L1251.7,1174.7 L1251.7,1177.2 L1250.0,1178.7 L1249.6,1177.9 L1247.4,1178.5 L1246.9,1177.2 L1245.3,1176.2 L1243.7,1176.8 L1242.9,1177.7 L1241.7,1178.1 L1240.1,1180.0 L1239.5,1181.5 L1237.4,1181.8 L1235.6,1183.7 L1235.0,1185.6 L1233.0,1187.8 L1230.6,1189.4 L1228.8,1189.5 L1226.8,1190.3 L1225.2,1191.0 L1223.0,1191.6 L1221.3,1192.7 L1219.5,1193.3 L1218.5,1194.8 L1217.4,1193.8Z"/>
<path d="M843.5,996.4 L850.7,992.8 L860.9,990.0 L869.8,988.0 L876.8,986.5 L889.1,984.5 L896.8,983.1 L904.4,981.7 L917.3,980.4 L933.0,980.4 L936.8,981.2 L927.8,983.5 L918.6,985.7 L912.7,988.0 L908.5,989.8 L905.9,991.3 L901.8,993.0 L903.2,994.3 L891.2,994.7 L882.9,995.2 L875.2,996.4 L868.6,995.2 L860.3,995.5 L851.0,996.7 L845.0,998.5Z"/>
<path d="M853.9,990.5 L861.9,988.4 L863.8,989.7 L857.8,991.3Z"/>
<path d="M879.9,990.8 L887.2,988.8 L890.0,989.7 L888.6,992.1 L881.8,992.5Z"/>
<path d="M901.4,995.0 L906.0,994.2 L906.8,995.5 L902.5,996.1Z"/>
<path d="M885.0,1014.2 L887.2,1015.3 L884.0,1015.7Z"/>
<path d="M888.7,1015.3 L888.6,1016.7 L887.4,1016.3Z"/>
<path d="M909.6,1016.5 L910.7,1016.9 L909.4,1017.5Z"/>
<path d="M903.2,994.3 L907.0,996.2 L911.5,997.3 L914.1,999.4 L914.8,1000.4 L915.0,1003.5 L918.6,1007.2 L915.8,1010.0 L912.9,1011.3 L911.0,1015.1 L906.9,1014.6 L903.1,1013.4 L899.8,1011.5 L894.8,1011.3 L903.1,1007.2 L904.8,1004.4 L901.7,1001.7 L895.9,1002.2 L891.3,1001.0 L887.2,999.4 L891.0,996.4 L896.4,994.7Z"/>
<path d="M895.0,989.7 L900.9,990.0 L907.0,990.1 L910.7,988.8 L915.4,986.5 L921.7,985.0 L927.5,983.8 L933.7,982.1 L936.9,981.1 L928.8,980.2 L919.7,980.3 L911.0,980.9 L903.9,982.1 L898.6,983.5 L893.2,985.0 L892.1,986.8 L894.3,988.0Z"/>
<path d="M904.4,993.0 L899.3,993.0 L894.1,993.0 L889.8,992.1 L891.3,990.1 L897.5,989.7 L902.1,990.0 L906.0,991.1Z"/>
<path d="M893.5,985.7 L899.8,983.5 L905.3,982.8 L901.2,984.2 L895.5,986.0Z"/>
<path d="M870.8,995.5 L871.5,998.1 L868.0,1001.2 L862.6,1002.6 L858.1,1003.0 L852.6,1003.0 L848.0,1002.1 L846.6,1000.8 L849.1,998.5 L854.1,996.4 L859.0,995.5 L862.6,995.9 L867.4,995.0Z"/>
<path d="M841.1,997.3 L846.3,994.7 L851.3,993.3 L855.6,993.5 L855.7,995.0 L848.5,997.8 L843.5,998.7 L840.5,997.8Z"/>
<path d="M860.2,990.5 L866.3,989.7 L871.3,989.7 L873.6,990.8 L869.4,992.1 L863.3,993.0 L859.2,992.1 L858.4,991.3Z"/>
<path d="M883.6,993.8 L886.5,994.2 L889.0,995.0 L883.6,997.3 L881.0,997.3 L879.1,996.4 L876.0,995.5 L879.7,993.8Z"/>
<path d="M881.5,990.5 L886.3,989.7 L886.2,990.8 L882.2,992.1 L879.3,991.3Z"/>
<path d="M882.4,1011.5 L887.1,1010.9 L890.6,1010.0 L889.0,1008.1 L884.4,1008.5 L881.7,1010.4Z"/>
<path d="M881.7,986.5 L887.1,986.0 L883.3,988.0 L880.0,987.7Z"/>
<path d="M870.8,1002.6 L875.7,1001.7 L872.8,1003.5Z"/>
<path d="M997.7,1039.6 L1001.4,1039.0 L1004.6,1038.4 L1009.4,1037.4 L1009.8,1034.3 L1007.6,1033.3 L1007.3,1032.4 L1006.1,1030.6 L1004.7,1028.6 L1004.0,1027.2 L1004.0,1025.4 L1004.3,1024.4 L1002.0,1024.2 L1002.5,1022.4 L999.4,1022.4 L998.2,1024.0 L998.4,1025.8 L997.4,1027.0 L998.3,1028.8 L999.5,1030.0 L1001.7,1029.8 L1001.8,1031.2 L1002.5,1032.9 L999.7,1032.9 L999.8,1034.5 L1000.5,1035.1 L998.7,1036.3 L1001.9,1037.0 L999.9,1037.4 L997.7,1039.6Z"/>
<path d="M997.1,1035.3 L997.5,1032.9 L997.4,1031.8 L998.2,1030.4 L997.3,1029.2 L995.6,1029.0 L993.8,1030.2 L991.2,1031.2 L991.2,1032.9 L992.1,1034.5 L990.4,1035.9 L991.7,1036.5 L994.1,1036.3Z"/>
<path d="M974.4,1011.9 L972.5,1010.2 L975.6,1009.1 L972.8,1008.9 L975.9,1007.4 L981.5,1007.7 L985.9,1007.2 L987.7,1009.6 L985.7,1011.3 L980.8,1013.0 L976.5,1012.3Z"/>
<path d="M1020.4,986.5 L1027.0,989.5 L1030.4,988.0 L1033.8,986.9 L1039.1,985.0 L1036.4,983.8 L1030.5,983.6 L1024.8,984.5 L1020.1,984.8Z"/>
<path d="M1028.3,984.2 L1033.9,983.5 L1038.8,983.9 L1033.2,985.0Z"/>
<path d="M1076.6,998.1 L1081.3,999.6 L1085.4,999.7 L1082.3,997.6 L1080.7,995.9 L1082.1,993.8 L1084.3,991.3 L1087.1,990.0 L1091.9,989.0 L1088.7,988.8 L1082.2,990.1 L1079.5,991.8 L1078.2,993.8 L1077.2,995.5Z"/>
<path d="M1121.6,985.4 L1125.3,986.5 L1127.9,985.7 L1133.5,986.3 L1129.4,984.2 L1122.8,982.8 L1117.4,983.1 L1115.3,984.2Z"/>
<path d="M1179.2,991.3 L1185.5,992.1 L1189.3,991.3 L1194.9,991.6 L1198.3,992.1 L1195.1,993.3 L1191.2,994.2 L1186.1,993.3Z"/>
<path d="M1246.2,998.5 L1247.6,998.1 L1249.4,999.2Z"/>
<path d="M766.6,998.1 L769.4,998.5 L764.8,999.2Z"/>
<path d="M759.0,1002.8 L761.5,1003.9 L762.0,1005.9 L764.7,1006.4 L765.4,1007.9 L761.0,1009.1 L756.0,1011.3 L754.1,1010.9 L753.8,1009.6 L751.2,1009.4 L748.5,1009.8Z"/>
<path d="M1061.7,983.1 L1066.8,982.1 L1076.5,982.8 L1073.0,984.2Z"/>
<path d="M1241.7,1073.7 L1242.3,1072.2 L1243.4,1070.7 L1245.8,1070.5 L1248.4,1070.3 L1248.8,1069.4 L1249.0,1066.9 L1250.3,1067.7 L1251.3,1065.6 L1252.2,1063.7 L1251.9,1061.8 L1250.5,1059.6 L1250.4,1058.3 L1252.2,1058.1 L1253.8,1060.5 L1255.5,1062.0 L1256.1,1064.5 L1255.5,1065.2 L1256.4,1067.1 L1257.2,1069.4 L1257.9,1070.1 L1256.8,1071.6 L1255.2,1070.9 L1255.0,1072.2 L1253.4,1072.4 L1252.1,1073.1 L1251.6,1075.0 L1249.5,1073.9 L1248.6,1072.4 L1246.0,1072.9 L1243.9,1073.1 L1241.9,1073.9Z"/>
<path d="M1240.0,1075.2 L1241.2,1073.9 L1243.1,1074.6 L1244.6,1076.5 L1244.8,1079.3 L1243.7,1080.2 L1242.6,1079.1 L1241.6,1076.9Z"/>
<path d="M1245.3,1075.9 L1246.6,1076.5 L1248.7,1074.2 L1247.3,1073.1 L1245.7,1073.1 L1244.8,1073.9Z"/>
<path d="M1249.5,1057.7 L1247.8,1055.4 L1247.9,1053.9 L1249.4,1053.9 L1247.0,1049.5 L1250.0,1050.9 L1253.4,1052.4 L1254.7,1051.8 L1256.6,1053.9 L1254.6,1054.7 L1254.3,1056.6 L1250.8,1055.4 L1250.8,1057.1Z"/>
<path d="M1246.6,1048.2 L1248.4,1047.2 L1243.6,1041.3 L1246.3,1041.9 L1239.7,1036.3 L1236.1,1032.4 L1233.7,1030.8 L1234.4,1032.6 L1237.6,1036.7 L1242.2,1041.9 L1245.4,1046.9Z"/>
<path d="M1229.3,1097.3 L1229.8,1093.7 L1230.8,1092.4 L1231.8,1093.0 L1231.4,1097.9 L1231.0,1099.7Z"/>
<path d="M1209.3,1105.4 L1210.9,1103.7 L1213.6,1104.4 L1213.0,1106.5 L1211.3,1107.6Z"/>
<path d="M1231.2,1111.7 L1231.6,1106.9 L1233.2,1106.7 L1235.1,1107.2 L1235.7,1110.2 L1234.7,1112.5 L1235.2,1115.5 L1237.1,1116.2 L1239.9,1117.0 L1240.4,1119.6 L1238.7,1118.3 L1237.1,1117.5 L1234.9,1117.5 L1233.4,1116.0 L1233.1,1114.0Z"/>
<path d="M1237.5,1131.6 L1240.2,1129.9 L1241.4,1128.4 L1243.5,1125.6 L1245.1,1126.9 L1246.2,1131.0 L1245.5,1133.1 L1244.1,1134.6 L1243.3,1133.5 L1241.8,1133.3 L1241.1,1131.4 L1239.0,1130.5Z"/>
<path d="M1236.9,1124.1 L1238.3,1121.3 L1240.8,1119.8 L1243.5,1120.5 L1243.4,1123.0 L1242.7,1125.2 L1239.9,1126.0 L1238.8,1126.2 L1237.8,1123.7Z"/>
<path d="M1228.3,1128.6 L1232.0,1122.4 L1232.6,1124.1 L1229.8,1128.8Z"/>
<path d="M1213.4,1143.6 L1214.7,1142.3 L1217.2,1143.0 L1218.3,1140.6 L1220.9,1139.7 L1222.7,1136.7 L1225.2,1135.0 L1226.7,1133.5 L1228.1,1131.8 L1229.5,1132.9 L1231.3,1134.6 L1232.4,1135.0 L1231.0,1135.9 L1231.4,1137.0 L1230.1,1137.8 L1230.0,1139.7 L1230.4,1141.7 L1232.2,1143.6 L1232.4,1144.7 L1230.1,1144.9 L1229.6,1146.4 L1229.5,1148.3 L1227.8,1149.8 L1227.6,1152.0 L1226.7,1155.2 L1224.6,1155.0 L1223.9,1153.9 L1222.8,1153.7 L1220.9,1153.2 L1218.4,1153.0 L1215.6,1152.8 L1215.5,1150.0 L1214.6,1148.7 L1213.6,1147.7 L1213.5,1145.7Z"/>
<path d="M1187.2,1134.8 L1188.4,1135.0 L1191.4,1135.5 L1193.2,1137.4 L1194.6,1138.9 L1197.5,1142.1 L1199.6,1142.1 L1202.3,1145.3 L1203.6,1146.4 L1202.9,1148.1 L1204.9,1150.5 L1205.6,1151.5 L1206.9,1151.7 L1207.8,1153.2 L1207.4,1155.8 L1207.0,1159.2 L1205.0,1159.2 L1203.5,1157.3 L1201.1,1155.6 L1200.4,1154.3 L1199.0,1152.6 L1198.1,1151.1 L1196.6,1148.1 L1195.1,1146.2 L1194.5,1144.5 L1193.7,1142.7 L1192.0,1141.2 L1191.0,1139.5 L1189.4,1138.2 L1187.5,1135.9Z"/>
<path d="M1206.2,1161.4 L1207.6,1159.2 L1209.9,1159.4 L1212.1,1160.3 L1212.2,1161.2 L1215.8,1161.4 L1216.4,1160.5 L1219.8,1161.4 L1220.4,1162.9 L1223.2,1163.3 L1225.4,1164.6 L1223.3,1165.5 L1221.3,1164.4 L1219.6,1164.6 L1217.5,1164.4 L1215.8,1164.0 L1213.6,1163.1 L1212.3,1162.9 L1211.5,1163.3 L1208.2,1162.5 L1207.9,1161.4Z"/>
<path d="M1226.2,1164.6 L1229.6,1164.0 L1231.6,1164.8 L1234.9,1164.2 L1239.1,1164.0 L1238.8,1165.2 L1235.9,1165.7 L1233.3,1165.5 L1229.7,1165.7 L1227.2,1165.9Z"/>
<path d="M1240.0,1168.9 L1241.5,1168.2 L1243.0,1166.1 L1246.8,1164.4 L1247.3,1164.6 L1243.0,1166.7 L1240.7,1168.9Z"/>
<path d="M1231.4,1167.2 L1234.8,1167.2 L1233.8,1168.7 L1232.0,1167.8Z"/>
<path d="M1233.0,1158.4 L1234.7,1158.4 L1234.8,1155.2 L1235.9,1152.2 L1236.9,1156.5 L1239.3,1157.3 L1238.5,1154.1 L1237.0,1152.6 L1237.1,1150.7 L1240.5,1148.5 L1238.8,1148.3 L1236.1,1149.6 L1234.7,1147.7 L1234.5,1145.3 L1236.1,1143.8 L1239.8,1144.7 L1242.0,1144.7 L1243.9,1143.2 L1242.6,1145.7 L1240.4,1146.2 L1237.1,1146.0 L1235.0,1146.0 L1234.7,1147.0 L1233.9,1146.8 L1233.3,1148.7 L1232.7,1151.3 L1231.9,1152.6 L1232.6,1154.1 L1233.1,1155.6Z"/>
<path d="M1249.2,1141.9 L1250.7,1143.2 L1250.8,1146.0 L1249.4,1148.5 L1248.9,1146.0 L1248.2,1143.2Z"/>
<path d="M1249.3,1153.7 L1254.5,1155.0 L1254.0,1153.2 L1249.7,1152.6Z"/>
<path d="M1245.5,1153.5 L1247.8,1153.7 L1247.1,1154.7 L1245.8,1154.3Z"/>
<path d="M1255.1,1149.6 L1256.8,1148.1 L1259.1,1147.7 L1261.1,1149.2 L1261.4,1152.6 L1263.4,1153.9 L1265.0,1151.5 L1267.2,1150.2 L1268.9,1150.2 L1270.5,1151.1 L1272.0,1151.7 L1273.9,1152.2 L1277.1,1153.7 L1280.6,1155.0 L1281.9,1156.0 L1282.8,1157.3 L1283.1,1158.4 L1286.0,1159.7 L1286.5,1160.7 L1284.7,1161.0 L1285.0,1162.5 L1286.6,1163.7 L1287.5,1166.1 L1288.7,1166.1 L1288.6,1167.0 L1289.9,1167.4 L1289.3,1167.8 L1291.2,1168.7 L1291.0,1169.3 L1289.6,1169.5 L1289.3,1168.9 L1287.6,1168.7 L1285.8,1168.2 L1284.4,1167.0 L1283.6,1165.7 L1282.7,1164.0 L1280.3,1162.9 L1278.7,1163.5 L1277.5,1164.2 L1277.6,1165.9 L1276.0,1166.5 L1275.1,1166.3 L1273.0,1166.1 L1271.5,1164.4 L1269.6,1164.0 L1269.2,1164.6 L1266.7,1164.6 L1267.6,1162.9 L1269.0,1162.2 L1268.6,1159.9 L1267.8,1158.2 L1264.3,1156.2 L1262.8,1156.2 L1260.0,1154.1 L1259.4,1155.2 L1258.6,1155.4 L1258.3,1154.5 L1258.3,1153.7 L1256.9,1152.6 L1259.0,1152.0 L1260.3,1152.0 L1260.1,1151.3 L1257.3,1151.3 L1256.6,1150.0 L1255.1,1149.6Z"/>
<path d="M1287.4,1158.6 L1290.6,1158.4 L1293.6,1157.1 L1295.1,1155.8 L1294.4,1158.4 L1291.5,1159.9 L1288.6,1160.1Z"/>
<path d="M1292.5,1152.4 L1295.1,1153.5 L1296.6,1156.2 L1295.7,1156.7 L1293.4,1153.7Z"/>
<path d="M1300.1,1158.4 L1301.6,1160.5 L1300.8,1161.6 L1299.3,1159.5Z"/>
<path d="M1302.7,1161.6 L1307.2,1163.7 L1310.6,1167.0 L1309.6,1168.0 L1306.9,1166.5 L1303.4,1164.2Z"/>
<path d="M1258.7,1233.8 L1261.1,1234.6 L1264.7,1234.2 L1263.1,1236.6 L1260.7,1239.1 L1258.4,1239.9 L1257.0,1239.7 L1257.1,1238.0 L1258.0,1234.9Z"/>
<path d="M1316.1,1220.3 L1316.8,1221.6 L1317.8,1222.3 L1317.3,1224.8 L1317.3,1226.5 L1317.9,1227.2 L1319.7,1228.0 L1322.0,1227.4 L1320.4,1229.3 L1318.8,1230.6 L1316.7,1231.0 L1314.3,1233.4 L1312.1,1234.9 L1310.1,1235.9 L1309.9,1235.1 L1312.0,1233.4 L1311.9,1232.1 L1311.1,1231.2 L1313.6,1229.7 L1315.2,1227.8 L1315.7,1226.3 L1316.0,1225.3 L1315.9,1224.0 L1315.8,1222.0Z"/>
<path d="M1307.8,1233.4 L1307.7,1234.4 L1309.0,1235.1 L1307.9,1236.6 L1304.4,1238.7 L1302.9,1239.5 L1301.4,1240.6 L1299.5,1241.2 L1295.0,1244.8 L1292.8,1245.8 L1291.6,1246.3 L1290.1,1246.3 L1289.6,1245.6 L1287.9,1245.4 L1288.1,1244.8 L1290.3,1243.1 L1294.2,1241.0 L1296.9,1239.9 L1299.8,1238.7 L1301.7,1237.6 L1303.7,1236.1 L1304.7,1235.5 L1306.0,1234.2Z"/>
<path d="M1312.0,1189.7 L1313.7,1190.5 L1316.5,1194.0 L1315.8,1194.6 L1314.0,1193.1 L1312.1,1190.8Z"/>
<path d="M1338.2,1183.9 L1340.3,1184.5 L1339.7,1185.6 L1338.1,1185.4Z"/>
<path d="M1157.7,1132.7 L1158.1,1133.3 L1159.4,1134.0 L1161.5,1130.5 L1160.5,1128.2 L1159.5,1126.7 L1157.9,1125.6 L1157.5,1129.0Z"/>
<path d="M849.7,1099.7 L851.6,1097.9 L853.9,1097.3 L856.6,1097.1 L858.6,1097.3 L861.4,1098.6 L864.1,1100.3 L866.8,1101.6 L869.2,1103.1 L867.8,1103.7 L863.0,1103.9 L863.8,1102.9 L861.4,1101.6 L861.2,1100.3 L858.1,1099.4 L855.6,1099.0 L854.9,1098.6 L852.4,1099.0 L850.8,1099.7Z"/>
<path d="M868.2,1107.4 L870.3,1106.9 L871.7,1105.7 L871.0,1103.9 L873.7,1104.2 L876.8,1104.6 L878.6,1105.9 L879.8,1106.7 L878.4,1107.2 L875.4,1107.4 L873.8,1108.9 L872.1,1107.6 L868.3,1108.0Z"/>
<path d="M861.1,1106.9 L863.7,1107.2 L864.9,1108.0 L863.0,1108.7 L861.0,1107.6Z"/>
<path d="M881.8,1106.9 L884.8,1107.2 L884.3,1108.0 L881.7,1108.0Z"/>
<path d="M864.0,1089.2 L865.8,1089.6 L864.3,1089.8Z"/>
<path d="M863.5,1092.6 L863.8,1095.2 L862.7,1094.1Z"/>
<path d="M907.9,1044.8 L910.8,1043.0 L913.8,1038.8 L916.5,1036.5 L916.2,1038.8 L918.1,1040.7 L918.8,1043.0 L918.6,1044.8 L918.6,1046.7 L916.9,1046.9 L914.0,1046.3 L913.6,1044.8 L910.6,1044.8Z"/>
<path d="M802.3,1043.2 L801.3,1043.0 L799.5,1041.9 L797.3,1038.4 L799.8,1038.0 L802.0,1039.4Z"/>
<path d="M794.5,1035.3 L793.9,1033.1 L796.7,1031.6 L796.1,1033.1Z"/>
<path d="M899.4,1047.4 L902.9,1047.2 L901.0,1047.8Z"/>
<path d="M1029.0,1065.6 L1030.9,1064.7 L1034.5,1064.5 L1033.8,1066.7 L1033.9,1067.9 L1032.4,1067.3 L1029.3,1066.0Z"/>
<path d="M1021.8,1063.0 L1021.4,1059.6 L1022.4,1059.0 L1024.1,1058.8 L1023.9,1062.6 L1022.9,1063.0Z"/>
<path d="M1022.0,1057.9 L1022.1,1055.4 L1023.2,1054.5 L1023.5,1056.4 L1023.0,1057.9Z"/>
<path d="M1049.0,1070.9 L1050.4,1070.7 L1054.0,1070.9 L1053.1,1071.6 L1050.0,1071.8Z"/>
<path d="M1064.8,1072.4 L1065.6,1071.4 L1068.7,1070.1 L1067.6,1071.8 L1065.9,1072.4Z"/>
<path d="M717.5,1103.3 L718.7,1104.4 L717.2,1106.1 L716.8,1104.8Z"/>
<path d="M716.1,1101.8 L717.4,1102.0 L716.4,1102.4Z"/>
<path d="M713.5,1100.3 L714.5,1100.9 L713.7,1100.9Z"/>
<path d="M711.1,1099.0 L711.9,1099.2 L711.3,1099.7Z"/>
<path d="M742.3,1031.8 L743.7,1031.2 L739.8,1032.6 L737.5,1032.9 L739.1,1032.4Z"/>
<path d="M733.5,1034.1 L730.4,1034.7 L728.4,1035.1 L725.6,1035.5 L721.9,1035.9 L720.0,1036.1 L717.4,1036.3 L715.3,1036.7 L717.6,1037.0 L721.2,1036.5 L727.0,1035.7 L730.8,1035.1Z"/>
<path d="M1288.7,1034.1 L1293.7,1035.7 L1297.8,1036.5 L1295.8,1036.1 L1291.0,1034.7Z"/>
<path d="M833.9,1147.2 L835.8,1147.7 L834.8,1148.7 L833.9,1148.3Z"/>
<path d="M907.7,1257.1 L911.1,1256.2 L913.2,1256.7 L912.2,1257.9 L909.4,1257.9Z"/>
<path d="M946.5,1261.6 L949.8,1262.0 L949.2,1262.6Z"/>
<path d="M1121.4,1250.9 L1123.7,1251.3 L1122.0,1252.7Z"/>
<path d="M977.9,1085.5 L979.0,1086.2 L978.2,1087.0Z"/>
<path d="M1088.6,1171.0 L1088.9,1172.1 L1088.4,1171.9Z"/>
<path d="M1109.6,1191.6 L1110.7,1192.0 L1110.1,1192.5Z"/>
<path d="M1113.7,1189.5 L1114.6,1189.9 L1113.9,1190.5Z"/>
<path d="M1181.2,1117.7 L1182.0,1119.8 L1181.4,1122.0 L1181.0,1119.8Z"/>
<path d="M1107.3,1119.4 L1109.6,1119.6 L1108.5,1120.2Z"/>
<path d="M1023.2,1138.7 L1023.9,1138.9 L1023.6,1139.7Z"/>
<path d="M1011.3,1062.0 L1012.7,1061.1 L1013.0,1062.0Z"/>
<path d="M1319.2,1178.8 L1320.3,1179.8 L1319.4,1180.7Z"/>
<path d="M683.1,1175.5 L685.2,1176.4 L683.6,1176.2Z"/>
<path d="M727.7,1184.1 L728.6,1184.8 L728.1,1185.0Z"/>
</g>
<g fill="#fff" stroke="#000" stroke-width="2.1" stroke-linejoin="round">
<path d="M1054.6,1055.4 L1055.5,1057.5 L1057.6,1058.3 L1061.4,1058.6 L1064.9,1056.6 L1067.5,1056.6 L1070.4,1058.1 L1073.6,1059.0 L1076.5,1058.8 L1078.9,1057.7 L1078.7,1055.4 L1076.2,1054.3 L1073.7,1052.4 L1070.8,1050.9 L1069.1,1049.9 L1066.5,1050.3 L1065.3,1051.6 L1064.1,1051.1 L1062.3,1049.7 L1063.8,1048.4 L1060.9,1047.2 L1058.7,1047.2 L1057.2,1049.7 L1056.0,1051.8 L1055.1,1054.1Z"/>
<path d="M1066.3,1049.0 L1069.1,1049.5 L1071.4,1046.5 L1069.4,1045.9 L1066.3,1047.4Z"/>
<path d="M1086.8,1050.7 L1087.5,1048.8 L1089.7,1047.4 L1092.9,1046.1 L1096.0,1046.5 L1096.7,1047.8 L1093.8,1049.7 L1094.4,1051.4 L1092.8,1051.8 L1095.1,1054.3 L1097.9,1056.0 L1098.6,1058.1 L1100.9,1059.0 L1100.8,1060.9 L1100.6,1062.4 L1102.4,1066.9 L1098.5,1067.7 L1095.8,1066.4 L1093.9,1066.0 L1092.9,1063.5 L1093.2,1060.5 L1093.4,1059.6 L1091.1,1057.1 L1088.7,1054.7 L1088.3,1053.0 L1088.0,1051.8Z"/>
<path d="M1105.5,1047.2 L1109.7,1047.2 L1111.5,1050.3 L1107.5,1051.4Z"/>
<path d="M852.6,1046.7 L855.9,1046.9 L860.0,1045.3 L862.6,1046.9 L864.9,1047.2 L865.1,1045.1 L863.7,1042.5 L859.3,1043.2Z"/>
<path d="M855.9,1057.1 L857.9,1056.2 L859.5,1053.3 L862.3,1049.7 L863.9,1048.6 L860.4,1048.2 L857.3,1051.4 L856.4,1054.5Z"/>
<path d="M865.5,1054.5 L868.1,1051.4 L870.8,1050.9 L869.6,1049.7 L865.6,1047.8 L865.6,1049.9 L866.3,1052.4Z"/>
<path d="M863.3,1056.6 L867.7,1055.4 L871.3,1055.0 L869.6,1056.0 L866.2,1057.3Z"/>
<path d="M870.5,1053.9 L875.1,1053.9 L877.0,1052.4 L873.0,1052.6Z"/>
<path d="M827.3,1010.0 L836.0,1007.0 L839.5,1007.7 L835.0,1009.4 L829.8,1010.4Z"/>
<path d="M831.9,1017.7 L837.7,1016.1 L844.0,1014.8 L840.2,1016.7 L834.7,1017.9Z"/>
<path d="M837.4,1022.0 L845.0,1021.0 L841.8,1022.2Z"/>
<path d="M847.5,1038.8 L850.2,1036.7 L850.6,1032.0 L848.4,1033.1 L848.6,1036.7Z"/>
<path d="M1176.0,1036.5 L1178.0,1034.5 L1179.3,1030.6 L1179.5,1028.0 L1181.3,1031.6 L1180.1,1035.3 L1177.8,1036.7Z"/>
<path d="M1067.3,1148.7 L1068.6,1146.2 L1071.5,1146.0 L1073.0,1147.5 L1070.5,1151.3 L1067.7,1151.7Z"/>
<path d="M1062.5,1153.9 L1064.7,1160.5 L1065.6,1165.2 L1064.1,1162.7 L1062.5,1158.4Z"/>
<path d="M1071.6,1167.2 L1072.8,1171.2 L1073.3,1177.0 L1071.9,1175.5 L1071.3,1170.2Z"/>
</g>
<path d="M812.1,1315.3 L823.8,1315.6 L827.7,1314.2 L824.3,1310.4 L819.3,1307.5 L811.9,1305.6 L815.5,1304.4 L820.2,1303.5 L823.1,1303.1 L825.6,1301.6 L830.7,1300.7 L836.3,1300.2 L842.1,1299.7 L848.7,1298.9 L855.8,1299.4 L862.9,1299.9 L868.8,1300.6 L872.7,1298.2 L875.4,1297.0 L881.6,1298.0 L886.8,1298.0 L891.6,1297.5 L897.6,1298.3 L902.3,1297.7 L906.8,1296.8 L908.1,1294.9 L909.4,1292.8 L910.7,1290.6 L912.0,1288.0 L912.3,1286.0 L914.1,1284.1 L916.4,1281.7 L919.4,1280.4 L923.7,1280.0 L923.4,1281.1 L920.6,1282.8 L919.9,1285.6 L919.2,1288.4 L920.9,1291.5 L924.4,1294.2 L926.4,1296.8 L927.8,1299.7 L926.1,1301.9 L924.9,1303.5 L929.6,1304.8 L936.1,1305.3 L943.8,1305.8 L951.2,1305.9 L958.4,1305.8 L963.0,1305.2 L966.0,1303.5 L971.7,1301.9 L975.1,1300.7 L981.2,1299.0 L986.1,1297.3 L991.1,1295.4 L996.3,1294.2 L1001.7,1293.6 L1007.1,1292.8 L1013.9,1292.6 L1020.7,1292.6 L1027.5,1292.8 L1034.3,1292.6 L1041.0,1292.9 L1048.0,1292.0 L1052.3,1291.3 L1056.4,1291.3 L1062.0,1291.0 L1068.4,1288.8 L1074.5,1287.3 L1080.9,1285.6 L1086.3,1286.2 L1091.4,1287.3 L1096.7,1287.9 L1100.6,1288.4 L1102.9,1291.5 L1104.8,1292.8 L1108.3,1291.7 L1111.1,1291.5 L1114.8,1290.1 L1122.2,1287.5 L1128.4,1286.6 L1134.4,1286.2 L1141.6,1286.0 L1149.3,1285.3 L1155.4,1284.7 L1160.0,1286.0 L1166.5,1285.1 L1170.8,1286.6 L1176.6,1286.4 L1182.6,1286.0 L1188.7,1285.6 L1194.8,1285.3 L1200.0,1285.6 L1204.8,1286.4 L1209.4,1287.3 L1212.5,1289.3 L1216.8,1290.2 L1221.3,1291.0 L1225.3,1292.0 L1227.0,1293.6 L1228.9,1295.1 L1234.2,1295.1 L1231.8,1296.8 L1225.8,1298.5 L1218.9,1300.2 L1211.8,1302.7 L1206.3,1305.2 L1199.7,1307.5 L1194.5,1310.4 L1192.9,1313.0 L1195.5,1314.6 L1202.1,1315.3 L1188.5,1319.4 L825.7,1319.4Z" fill="#7a7673" stroke="#000" stroke-width="2.1" stroke-linejoin="round"/>
</g>
<path d="M825.7,1319.4 L818.0,1317.3 L808.9,1314.2 L798.9,1310.4 L788.2,1305.9 L777.7,1301.1 L768.1,1295.9 L759.3,1290.6 L750.9,1285.1 L742.8,1279.4 L734.9,1273.6 L727.4,1267.6 L720.2,1261.6 L713.4,1255.4 L707.3,1249.2 L701.7,1242.9 L696.3,1236.6 L691.5,1230.2 L687.2,1223.8 L683.3,1217.3 L679.9,1210.9 L677.1,1204.5 L674.8,1198.0 L672.9,1191.6 L671.2,1185.2 L669.7,1178.8 L668.5,1172.3 L667.6,1165.9 L666.9,1159.5 L666.5,1153.0 L666.3,1146.6 L666.5,1140.2 L666.9,1133.7 L667.6,1127.3 L668.5,1120.9 L669.7,1114.4 L671.2,1108.0 L672.9,1101.6 L674.8,1095.2 L677.1,1088.7 L679.9,1082.3 L683.3,1075.9 L687.2,1069.4 L691.5,1063.0 L696.3,1056.6 L701.7,1050.3 L707.3,1044.0 L713.4,1037.8 L720.2,1031.6 L727.4,1025.6 L734.9,1019.6 L742.8,1013.8 L750.9,1008.1 L759.3,1002.6 L768.1,997.3 L777.7,992.1 L788.2,987.3 L798.9,982.8 L808.9,979.0 L818.0,975.9 L825.7,973.8 L1188.5,973.8 L1196.2,975.9 L1205.3,979.0 L1215.3,982.8 L1226.0,987.3 L1236.5,992.1 L1246.1,997.3 L1254.9,1002.6 L1263.3,1008.1 L1271.4,1013.8 L1279.3,1019.6 L1286.8,1025.6 L1294.0,1031.6 L1300.8,1037.8 L1306.9,1044.0 L1312.5,1050.3 L1317.9,1056.6 L1322.7,1063.0 L1327.0,1069.4 L1330.9,1075.9 L1334.3,1082.3 L1337.1,1088.7 L1339.4,1095.2 L1341.3,1101.6 L1343.0,1108.0 L1344.5,1114.4 L1345.7,1120.9 L1346.6,1127.3 L1347.3,1133.7 L1347.7,1140.2 L1347.9,1146.6 L1347.7,1153.0 L1347.3,1159.5 L1346.6,1165.9 L1345.7,1172.3 L1344.5,1178.8 L1343.0,1185.2 L1341.3,1191.6 L1339.4,1198.0 L1337.1,1204.5 L1334.3,1210.9 L1330.9,1217.3 L1327.0,1223.8 L1322.7,1230.2 L1317.9,1236.6 L1312.5,1242.9 L1306.9,1249.2 L1300.8,1255.4 L1294.0,1261.6 L1286.8,1267.6 L1279.3,1273.6 L1271.4,1279.4 L1263.3,1285.1 L1254.9,1290.6 L1246.1,1295.9 L1236.5,1301.1 L1226.0,1305.9 L1215.3,1310.4 L1205.3,1314.2 L1196.2,1317.3 L1188.5,1319.4Z" fill="none" stroke="#000" stroke-width="1.7"/>
<text transform="translate(967.12,962.26) scale(0.8678,1.0000)" font-family="Liberation Serif" font-weight="normal" font-style="italic" font-size="33.80" fill="#111111">δ</text><text transform="translate(983.86,944.66) scale(1.0662,1.0000)" font-family="Liberation Sans" font-weight="normal" font-style="normal" font-size="24.23" fill="#111111">18</text><text transform="translate(1016.90,960.58) scale(1.0549,1.0000)" font-family="Liberation Sans" font-weight="normal" font-style="normal" font-size="31.69" fill="#111111">O</text>
<circle cx="1059.4" cy="994.6" r="12.3" fill="#a8cae3" stroke="#050b14" stroke-width="4.1"/>
<circle cx="1070.4" cy="1089.0" r="12.3" fill="#a8cae3" stroke="#050b14" stroke-width="4.1"/>
<circle cx="986.6" cy="1182.4" r="12.3" fill="#a8cae3" stroke="#050b14" stroke-width="4.1"/>
<circle cx="983.2" cy="1196.1" r="12.3" fill="#a8cae3" stroke="#050b14" stroke-width="4.1"/>
<circle cx="739.5" cy="1030.1" r="12.3" fill="#2a7bba" stroke="#050b14" stroke-width="4.1"/>
<circle cx="768.9" cy="1030.1" r="12.3" fill="#2a7bba" stroke="#050b14" stroke-width="4.1"/>
<circle cx="771.3" cy="1057.7" r="12.3" fill="#2a7bba" stroke="#050b14" stroke-width="4.1"/>
<circle cx="793.3" cy="1053.7" r="12.3" fill="#2a7bba" stroke="#050b14" stroke-width="4.1"/>
<circle cx="780.7" cy="1056.9" r="12.3" fill="#2a7bba" stroke="#050b14" stroke-width="4.1"/>
<circle cx="793.3" cy="1076.5" r="12.3" fill="#2a7bba" stroke="#050b14" stroke-width="4.1"/>
<circle cx="713.5" cy="1100.1" r="12.3" fill="#2a7bba" stroke="#050b14" stroke-width="4.1"/>
<circle cx="832.6" cy="1089.1" r="12.3" fill="#2a7bba" stroke="#050b14" stroke-width="4.1"/>
<circle cx="847.6" cy="1084.4" r="12.3" fill="#2a7bba" stroke="#050b14" stroke-width="4.1"/>
<circle cx="870.4" cy="1075.0" r="12.3" fill="#2a7bba" stroke="#050b14" stroke-width="4.1"/>
<circle cx="897.2" cy="1053.0" r="12.3" fill="#2a7bba" stroke="#050b14" stroke-width="4.1"/>
<circle cx="897.2" cy="1073.4" r="12.3" fill="#2a7bba" stroke="#050b14" stroke-width="4.1"/>
<circle cx="861" cy="1108.0" r="12.3" fill="#2a7bba" stroke="#050b14" stroke-width="4.1"/>
<circle cx="864.1" cy="1125.3" r="12.3" fill="#2a7bba" stroke="#050b14" stroke-width="4.1"/>
<circle cx="894" cy="1117.5" r="12.3" fill="#2a7bba" stroke="#050b14" stroke-width="4.1"/>
<circle cx="881.4" cy="1122.2" r="12.3" fill="#2a7bba" stroke="#050b14" stroke-width="4.1"/>
<circle cx="845.2" cy="1130.0" r="12.3" fill="#2a7bba" stroke="#050b14" stroke-width="4.1"/>
<circle cx="852.7" cy="1144.6" r="12.3" fill="#2a7bba" stroke="#050b14" stroke-width="4.1"/>
<circle cx="849.3" cy="1151.5" r="12.3" fill="#2a7bba" stroke="#050b14" stroke-width="4.1"/>
<circle cx="831.7" cy="1145.8" r="12.3" fill="#2a7bba" stroke="#050b14" stroke-width="4.1"/>
<circle cx="805.1" cy="1157.8" r="12.3" fill="#2a7bba" stroke="#050b14" stroke-width="4.1"/>
<circle cx="861.3" cy="1183.3" r="12.3" fill="#2a7bba" stroke="#050b14" stroke-width="4.1"/>
<circle cx="876.7" cy="1223.6" r="12.3" fill="#2a7bba" stroke="#050b14" stroke-width="4.1"/>
<circle cx="885.3" cy="1257.9" r="12.3" fill="#2a7bba" stroke="#050b14" stroke-width="4.1"/>
<circle cx="827" cy="1264.8" r="12.3" fill="#2a7bba" stroke="#050b14" stroke-width="4.1"/>
<circle cx="990.2" cy="975.7" r="12.3" fill="#2a7bba" stroke="#050b14" stroke-width="4.1"/>
<circle cx="1013.8" cy="977.3" r="12.3" fill="#2a7bba" stroke="#050b14" stroke-width="4.1"/>
<circle cx="1001.2" cy="982.0" r="12.3" fill="#2a7bba" stroke="#050b14" stroke-width="4.1"/>
<circle cx="1027.9" cy="978.9" r="12.3" fill="#2a7bba" stroke="#050b14" stroke-width="4.1"/>
<circle cx="1037.4" cy="975.7" r="12.3" fill="#2a7bba" stroke="#050b14" stroke-width="4.1"/>
<circle cx="1053.1" cy="980.5" r="12.3" fill="#2a7bba" stroke="#050b14" stroke-width="4.1"/>
<circle cx="1065.7" cy="975.7" r="12.3" fill="#2a7bba" stroke="#050b14" stroke-width="4.1"/>
<circle cx="1079.1" cy="975.0" r="12.3" fill="#2a7bba" stroke="#050b14" stroke-width="4.1"/>
<circle cx="948" cy="1010.6" r="12.3" fill="#2a7bba" stroke="#050b14" stroke-width="4.1"/>
<circle cx="998.4" cy="1018.6" r="12.3" fill="#2a7bba" stroke="#050b14" stroke-width="4.1"/>
<circle cx="1009.9" cy="1019.8" r="12.3" fill="#2a7bba" stroke="#050b14" stroke-width="4.1"/>
<circle cx="1031.1" cy="991.5" r="12.3" fill="#2a7bba" stroke="#050b14" stroke-width="4.1"/>
<circle cx="949.2" cy="1067.8" r="12.3" fill="#2a7bba" stroke="#050b14" stroke-width="4.1"/>
<circle cx="961.8" cy="1070.2" r="12.3" fill="#2a7bba" stroke="#050b14" stroke-width="4.1"/>
<circle cx="925.2" cy="1038.0" r="12.3" fill="#2a7bba" stroke="#050b14" stroke-width="4.1"/>
<circle cx="991.6" cy="1048.4" r="12.3" fill="#2a7bba" stroke="#050b14" stroke-width="4.1"/>
<circle cx="966.4" cy="1056.4" r="12.3" fill="#2a7bba" stroke="#050b14" stroke-width="4.1"/>
<circle cx="1032.8" cy="1072.4" r="12.3" fill="#2a7bba" stroke="#050b14" stroke-width="4.1"/>
<circle cx="1008.7" cy="1067.8" r="12.3" fill="#2a7bba" stroke="#050b14" stroke-width="4.1"/>
<circle cx="895.7" cy="1054.4" r="12.3" fill="#2a7bba" stroke="#050b14" stroke-width="4.1"/>
<circle cx="1066.5" cy="1073.3" r="12.3" fill="#2a7bba" stroke="#050b14" stroke-width="4.1"/>
<circle cx="979" cy="998.0" r="12.3" fill="#2a7bba" stroke="#050b14" stroke-width="4.1"/>
<circle cx="997.3" cy="1003.7" r="12.3" fill="#2a7bba" stroke="#050b14" stroke-width="4.1"/>
<circle cx="1019" cy="1000.3" r="12.3" fill="#2a7bba" stroke="#050b14" stroke-width="4.1"/>
<circle cx="965.2" cy="1008.3" r="12.3" fill="#2a7bba" stroke="#050b14" stroke-width="4.1"/>
<circle cx="926.3" cy="1011.7" r="12.3" fill="#2a7bba" stroke="#050b14" stroke-width="4.1"/>
<circle cx="984.7" cy="1028.9" r="12.3" fill="#2a7bba" stroke="#050b14" stroke-width="4.1"/>
<circle cx="998.4" cy="1040.4" r="12.3" fill="#2a7bba" stroke="#050b14" stroke-width="4.1"/>
<circle cx="1015.6" cy="1054.1" r="12.3" fill="#2a7bba" stroke="#050b14" stroke-width="4.1"/>
<circle cx="1038.5" cy="1056.4" r="12.3" fill="#2a7bba" stroke="#050b14" stroke-width="4.1"/>
<circle cx="990.4" cy="1065.5" r="12.3" fill="#2a7bba" stroke="#050b14" stroke-width="4.1"/>
<circle cx="908" cy="1050.7" r="12.3" fill="#2a7bba" stroke="#050b14" stroke-width="4.1"/>
<circle cx="906.9" cy="1072.4" r="12.3" fill="#2a7bba" stroke="#050b14" stroke-width="4.1"/>
<circle cx="921.7" cy="1056.4" r="12.3" fill="#2a7bba" stroke="#050b14" stroke-width="4.1"/>
<circle cx="937.8" cy="1051.8" r="12.3" fill="#2a7bba" stroke="#050b14" stroke-width="4.1"/>
<circle cx="965.2" cy="1042.6" r="12.3" fill="#2a7bba" stroke="#050b14" stroke-width="4.1"/>
<circle cx="941.2" cy="1035.8" r="12.3" fill="#2a7bba" stroke="#050b14" stroke-width="4.1"/>
<circle cx="935.5" cy="1023.2" r="12.3" fill="#2a7bba" stroke="#050b14" stroke-width="4.1"/>
<circle cx="956.1" cy="1026.6" r="12.3" fill="#2a7bba" stroke="#050b14" stroke-width="4.1"/>
<circle cx="972.8" cy="1099.3" r="12.3" fill="#2a7bba" stroke="#050b14" stroke-width="4.1"/>
<circle cx="970.3" cy="1124.6" r="12.3" fill="#2a7bba" stroke="#050b14" stroke-width="4.1"/>
<circle cx="965.2" cy="1133.2" r="12.3" fill="#2a7bba" stroke="#050b14" stroke-width="4.1"/>
<circle cx="889.4" cy="1115.8" r="12.3" fill="#2a7bba" stroke="#050b14" stroke-width="4.1"/>
<circle cx="1092.4" cy="1115.8" r="12.3" fill="#2a7bba" stroke="#050b14" stroke-width="4.1"/>
<circle cx="1151.6" cy="974.0" r="12.3" fill="#2a7bba" stroke="#050b14" stroke-width="4.1"/>
<circle cx="1161.8" cy="974.9" r="12.3" fill="#2a7bba" stroke="#050b14" stroke-width="4.1"/>
<circle cx="1173" cy="974.9" r="12.3" fill="#2a7bba" stroke="#050b14" stroke-width="4.1"/>
<circle cx="1191.6" cy="974.0" r="12.3" fill="#2a7bba" stroke="#050b14" stroke-width="4.1"/>
<circle cx="1273.4" cy="1030.7" r="12.3" fill="#2a7bba" stroke="#050b14" stroke-width="4.1"/>
<circle cx="1269.7" cy="1019.5" r="12.3" fill="#2a7bba" stroke="#050b14" stroke-width="4.1"/>
<circle cx="1284.6" cy="1039.0" r="12.3" fill="#2a7bba" stroke="#050b14" stroke-width="4.1"/>
<circle cx="1295.7" cy="1031.6" r="12.3" fill="#2a7bba" stroke="#050b14" stroke-width="4.1"/>
<circle cx="1245.5" cy="1035.3" r="12.3" fill="#2a7bba" stroke="#050b14" stroke-width="4.1"/>
<circle cx="1255.8" cy="1040.9" r="12.3" fill="#2a7bba" stroke="#050b14" stroke-width="4.1"/>
<circle cx="1239.9" cy="1058.6" r="12.3" fill="#2a7bba" stroke="#050b14" stroke-width="4.1"/>
<circle cx="1258.5" cy="1073.4" r="12.3" fill="#2a7bba" stroke="#050b14" stroke-width="4.1"/>
<circle cx="1258.5" cy="1064.1" r="12.3" fill="#2a7bba" stroke="#050b14" stroke-width="4.1"/>
<circle cx="1292" cy="1076.0" r="12.3" fill="#2a7bba" stroke="#050b14" stroke-width="4.1"/>
<circle cx="1239" cy="1088.3" r="12.3" fill="#2a7bba" stroke="#050b14" stroke-width="4.1"/>
<circle cx="1210.2" cy="1116.2" r="12.3" fill="#2a7bba" stroke="#050b14" stroke-width="4.1"/>
<circle cx="1212" cy="1125.5" r="12.3" fill="#2a7bba" stroke="#050b14" stroke-width="4.1"/>
<circle cx="1222.3" cy="1104.1" r="12.3" fill="#2a7bba" stroke="#050b14" stroke-width="4.1"/>
<circle cx="1247.4" cy="1127.4" r="12.3" fill="#2a7bba" stroke="#050b14" stroke-width="4.1"/>
<circle cx="1234.4" cy="1123.7" r="12.3" fill="#2a7bba" stroke="#050b14" stroke-width="4.1"/>
<circle cx="1180.4" cy="1129.2" r="12.3" fill="#2a7bba" stroke="#050b14" stroke-width="4.1"/>
<circle cx="1180.4" cy="1118.1" r="12.3" fill="#2a7bba" stroke="#050b14" stroke-width="4.1"/>
<circle cx="1173.9" cy="1101.3" r="12.3" fill="#2a7bba" stroke="#050b14" stroke-width="4.1"/>
<circle cx="1085.6" cy="1121.8" r="12.3" fill="#2a7bba" stroke="#050b14" stroke-width="4.1"/>
<circle cx="1104.2" cy="1116.2" r="12.3" fill="#2a7bba" stroke="#050b14" stroke-width="4.1"/>
<circle cx="1128.4" cy="1101.3" r="12.3" fill="#2a7bba" stroke="#050b14" stroke-width="4.1"/>
<circle cx="1117.2" cy="1106.9" r="12.3" fill="#2a7bba" stroke="#050b14" stroke-width="4.1"/>
<circle cx="1117.2" cy="1123.7" r="12.3" fill="#2a7bba" stroke="#050b14" stroke-width="4.1"/>
<circle cx="1147" cy="1127.4" r="12.3" fill="#2a7bba" stroke="#050b14" stroke-width="4.1"/>
<circle cx="1139.5" cy="1114.4" r="12.3" fill="#2a7bba" stroke="#050b14" stroke-width="4.1"/>
<circle cx="928.2" cy="1136.1" r="12.3" fill="#2a7bba" stroke="#050b14" stroke-width="4.1"/>
<circle cx="943.7" cy="1132.6" r="12.3" fill="#2a7bba" stroke="#050b14" stroke-width="4.1"/>
<circle cx="943.7" cy="1165.2" r="12.3" fill="#2a7bba" stroke="#050b14" stroke-width="4.1"/>
<circle cx="938.5" cy="1154.9" r="12.3" fill="#2a7bba" stroke="#050b14" stroke-width="4.1"/>
<circle cx="969.4" cy="1122.3" r="12.3" fill="#2a7bba" stroke="#050b14" stroke-width="4.1"/>
<circle cx="965.2" cy="1133.5" r="12.3" fill="#2a7bba" stroke="#050b14" stroke-width="4.1"/>
<circle cx="973.7" cy="1103.4" r="12.3" fill="#2a7bba" stroke="#050b14" stroke-width="4.1"/>
<circle cx="964.3" cy="1149.8" r="12.3" fill="#2a7bba" stroke="#050b14" stroke-width="4.1"/>
<circle cx="984" cy="1148.9" r="12.3" fill="#2a7bba" stroke="#050b14" stroke-width="4.1"/>
<circle cx="984.9" cy="1165.2" r="12.3" fill="#2a7bba" stroke="#050b14" stroke-width="4.1"/>
<circle cx="993.5" cy="1175.5" r="12.3" fill="#2a7bba" stroke="#050b14" stroke-width="4.1"/>
<circle cx="996.9" cy="1174.4" r="12.3" fill="#2a7bba" stroke="#050b14" stroke-width="4.1"/>
<circle cx="980.6" cy="1211.6" r="12.3" fill="#2a7bba" stroke="#050b14" stroke-width="4.1"/>
<circle cx="981.5" cy="1248.0" r="12.3" fill="#2a7bba" stroke="#050b14" stroke-width="4.1"/>
<circle cx="982.3" cy="1240.5" r="12.3" fill="#2a7bba" stroke="#050b14" stroke-width="4.1"/>
<circle cx="934.2" cy="1187.6" r="12.3" fill="#2a7bba" stroke="#050b14" stroke-width="4.1"/>
<circle cx="945.4" cy="1194.4" r="12.3" fill="#2a7bba" stroke="#050b14" stroke-width="4.1"/>
<circle cx="918.8" cy="1204.7" r="12.3" fill="#2a7bba" stroke="#050b14" stroke-width="4.1"/>
<circle cx="937.7" cy="1212.4" r="12.3" fill="#2a7bba" stroke="#050b14" stroke-width="4.1"/>
<circle cx="1014.9" cy="1131.5" r="12.3" fill="#2a7bba" stroke="#050b14" stroke-width="4.1"/>
<circle cx="1016.7" cy="1150.4" r="12.3" fill="#2a7bba" stroke="#050b14" stroke-width="4.1"/>
<circle cx="1025.2" cy="1138.4" r="12.3" fill="#2a7bba" stroke="#050b14" stroke-width="4.1"/>
<circle cx="1030.4" cy="1159.0" r="12.3" fill="#2a7bba" stroke="#050b14" stroke-width="4.1"/>
<circle cx="1020.1" cy="1186.4" r="12.3" fill="#2a7bba" stroke="#050b14" stroke-width="4.1"/>
<circle cx="1027" cy="1181.3" r="12.3" fill="#2a7bba" stroke="#050b14" stroke-width="4.1"/>
<circle cx="1030.4" cy="1196.7" r="12.3" fill="#2a7bba" stroke="#050b14" stroke-width="4.1"/>
<circle cx="1038.1" cy="1219.1" r="12.3" fill="#2a7bba" stroke="#050b14" stroke-width="4.1"/>
<circle cx="1032.1" cy="1239.5" r="12.3" fill="#2a7bba" stroke="#050b14" stroke-width="4.1"/>
<circle cx="1021.8" cy="1234.5" r="12.3" fill="#2a7bba" stroke="#050b14" stroke-width="4.1"/>
<circle cx="1064.7" cy="1081.7" r="12.3" fill="#2a7bba" stroke="#050b14" stroke-width="4.1"/>
<circle cx="1116" cy="1093.0" r="12.3" fill="#2a7bba" stroke="#050b14" stroke-width="4.1"/>
<circle cx="1127" cy="1090.5" r="12.3" fill="#2a7bba" stroke="#050b14" stroke-width="4.1"/>
<circle cx="1135" cy="1096.0" r="12.3" fill="#2a7bba" stroke="#050b14" stroke-width="4.1"/>
<circle cx="1140" cy="1104.0" r="12.3" fill="#2a7bba" stroke="#050b14" stroke-width="4.1"/>
<circle cx="1138.7" cy="1110.0" r="12.3" fill="#2a7bba" stroke="#050b14" stroke-width="4.1"/>
<circle cx="1150.5" cy="1122.2" r="12.3" fill="#2a7bba" stroke="#050b14" stroke-width="4.1"/>
<circle cx="1086" cy="1119.8" r="12.3" fill="#2a7bba" stroke="#050b14" stroke-width="4.1"/>
<circle cx="1097.8" cy="1122.2" r="12.3" fill="#2a7bba" stroke="#050b14" stroke-width="4.1"/>
<circle cx="1116.6" cy="1126.1" r="12.3" fill="#2a7bba" stroke="#050b14" stroke-width="4.1"/>
<circle cx="1148.9" cy="1134.8" r="12.3" fill="#2a7bba" stroke="#050b14" stroke-width="4.1"/>
<circle cx="1135.5" cy="1144.2" r="12.3" fill="#2a7bba" stroke="#050b14" stroke-width="4.1"/>
<circle cx="1119.8" cy="1136.4" r="12.3" fill="#2a7bba" stroke="#050b14" stroke-width="4.1"/>
<circle cx="1087.5" cy="1141.9" r="12.3" fill="#2a7bba" stroke="#050b14" stroke-width="4.1"/>
<circle cx="1100.9" cy="1140.3" r="12.3" fill="#2a7bba" stroke="#050b14" stroke-width="4.1"/>
<circle cx="1079.7" cy="1158.4" r="12.3" fill="#2a7bba" stroke="#050b14" stroke-width="4.1"/>
<circle cx="1104.8" cy="1160.0" r="12.3" fill="#2a7bba" stroke="#050b14" stroke-width="4.1"/>
<circle cx="1116.6" cy="1108.8" r="12.3" fill="#2a7bba" stroke="#050b14" stroke-width="4.1"/>
<circle cx="1075" cy="1187.3" r="12.3" fill="#2a7bba" stroke="#050b14" stroke-width="4.1"/>
<circle cx="1174.6" cy="1102.3" r="12.3" fill="#2a7bba" stroke="#050b14" stroke-width="4.1"/>
<circle cx="1181.5" cy="1122.9" r="12.3" fill="#2a7bba" stroke="#050b14" stroke-width="4.1"/>
<circle cx="1184.9" cy="1136.7" r="12.3" fill="#2a7bba" stroke="#050b14" stroke-width="4.1"/>
<circle cx="1187.8" cy="1147.0" r="12.3" fill="#2a7bba" stroke="#050b14" stroke-width="4.1"/>
<circle cx="1195.2" cy="1159.0" r="12.3" fill="#2a7bba" stroke="#050b14" stroke-width="4.1"/>
<circle cx="1200.7" cy="1157.3" r="12.3" fill="#2a7bba" stroke="#050b14" stroke-width="4.1"/>
<circle cx="1238.5" cy="1088.6" r="12.3" fill="#2a7bba" stroke="#050b14" stroke-width="4.1"/>
<circle cx="1223" cy="1104.9" r="12.3" fill="#2a7bba" stroke="#050b14" stroke-width="4.1"/>
<circle cx="1213.6" cy="1126.4" r="12.3" fill="#2a7bba" stroke="#050b14" stroke-width="4.1"/>
<circle cx="1248.8" cy="1133.2" r="12.3" fill="#2a7bba" stroke="#050b14" stroke-width="4.1"/>
<circle cx="1236.7" cy="1126.4" r="12.3" fill="#2a7bba" stroke="#050b14" stroke-width="4.1"/>
<circle cx="1226.4" cy="1153.8" r="12.3" fill="#2a7bba" stroke="#050b14" stroke-width="4.1"/>
<circle cx="1260.8" cy="1155.5" r="12.3" fill="#2a7bba" stroke="#050b14" stroke-width="4.1"/>
<circle cx="1247" cy="1155.5" r="12.3" fill="#2a7bba" stroke="#050b14" stroke-width="4.1"/>
<circle cx="1226.4" cy="1179.6" r="12.3" fill="#2a7bba" stroke="#050b14" stroke-width="4.1"/>
<circle cx="1236.7" cy="1170.1" r="12.3" fill="#2a7bba" stroke="#050b14" stroke-width="4.1"/>
<circle cx="1284" cy="1142.7" r="12.3" fill="#2a7bba" stroke="#050b14" stroke-width="4.1"/>
<circle cx="1308" cy="1145.2" r="12.3" fill="#2a7bba" stroke="#050b14" stroke-width="4.1"/>
<circle cx="1282.2" cy="1172.7" r="12.3" fill="#2a7bba" stroke="#050b14" stroke-width="4.1"/>
<circle cx="1304.6" cy="1176.1" r="12.3" fill="#2a7bba" stroke="#050b14" stroke-width="4.1"/>
<circle cx="1290.8" cy="1186.4" r="12.3" fill="#2a7bba" stroke="#050b14" stroke-width="4.1"/>
<circle cx="1295.1" cy="1202.7" r="12.3" fill="#2a7bba" stroke="#050b14" stroke-width="4.1"/>
<circle cx="1308" cy="1198.5" r="12.3" fill="#2a7bba" stroke="#050b14" stroke-width="4.1"/>
<circle cx="1320" cy="1224.2" r="12.3" fill="#2a7bba" stroke="#050b14" stroke-width="4.1"/>
<circle cx="1302.8" cy="1243.1" r="12.3" fill="#2a7bba" stroke="#050b14" stroke-width="4.1"/>
<circle cx="1248.8" cy="1224.2" r="12.3" fill="#2a7bba" stroke="#050b14" stroke-width="4.1"/>
<circle cx="1094.8" cy="1239.5" r="12.3" fill="#2a7bba" stroke="#050b14" stroke-width="4.1"/>
<circle cx="1076.7" cy="1256.7" r="12.3" fill="#2a7bba" stroke="#050b14" stroke-width="4.1"/>
<circle cx="1124" cy="1264.4" r="12.3" fill="#2a7bba" stroke="#050b14" stroke-width="4.1"/>
<circle cx="1117.1" cy="1254.9" r="12.3" fill="#2a7bba" stroke="#050b14" stroke-width="4.1"/>
<circle cx="1143.7" cy="1239.5" r="12.3" fill="#2a7bba" stroke="#050b14" stroke-width="4.1"/>
<circle cx="1160.9" cy="1244.6" r="12.3" fill="#2a7bba" stroke="#050b14" stroke-width="4.1"/>
<circle cx="1172.9" cy="1243.8" r="12.3" fill="#2a7bba" stroke="#050b14" stroke-width="4.1"/>
<circle cx="1285.5" cy="923.0" r="12.4" fill="#a8cae3" stroke="#050b14" stroke-width="4"/>
<circle cx="1285.5" cy="971.1" r="12.4" fill="#2a7bba" stroke="#050b14" stroke-width="4"/>
<text transform="translate(1318.02,938.10) scale(0.9619,1.0000)" font-family="Liberation Sans" font-weight="normal" font-style="normal" font-size="40.00" fill="#111111">LH</text>
<text transform="translate(1318.02,985.71) scale(0.9619,0.9683)" font-family="Liberation Sans" font-weight="normal" font-style="normal" font-size="40.00" fill="#111111">LGM</text>
<text transform="translate(664.68,952.36) scale(1.0473,1.0000)" font-family="Liberation Sans" font-weight="bold" font-style="normal" font-size="33.82" fill="#000">e</text>
</svg></body></html>
